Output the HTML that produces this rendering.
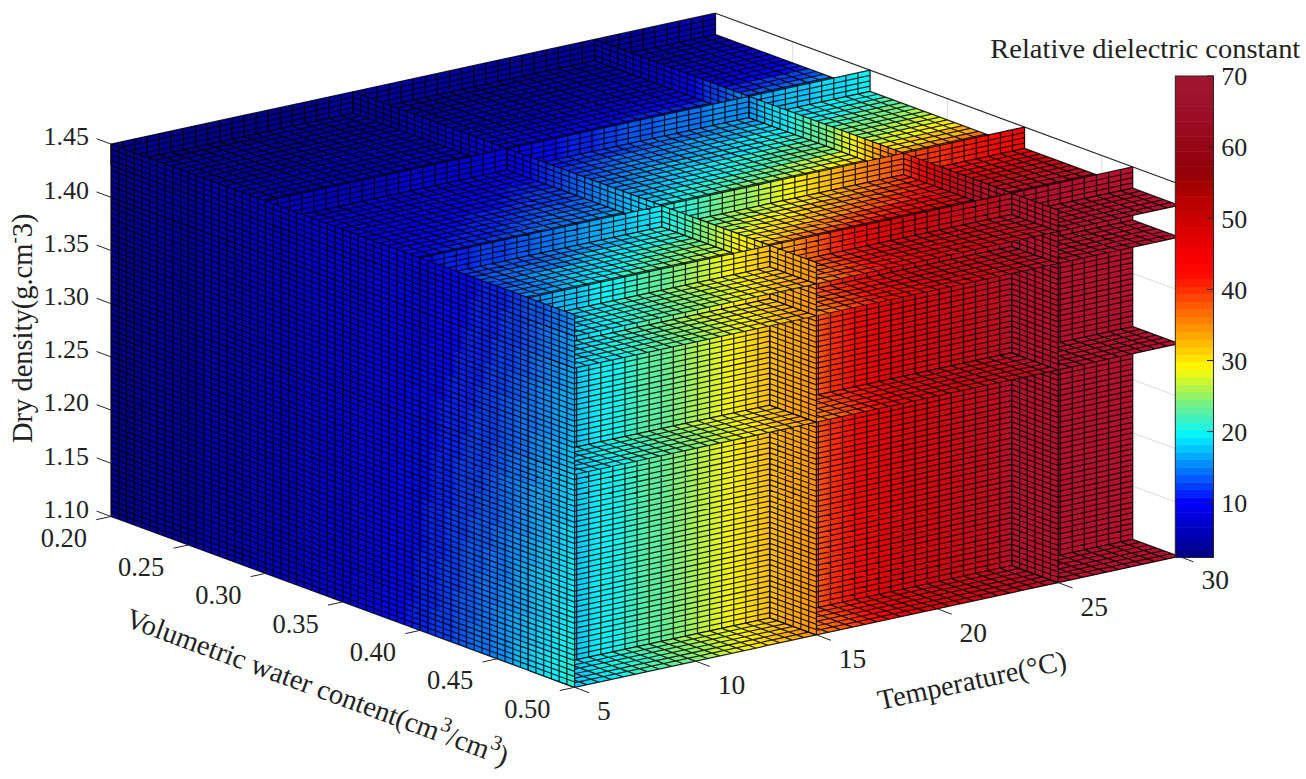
<!DOCTYPE html><html><head><meta charset="utf-8"><style>html,body{margin:0;padding:0;background:#fff;width:1306px;height:779px;overflow:hidden}</style></head><body><svg width="1306" height="779" viewBox="0 0 1306 779" style="position:absolute;left:0;top:0"><defs><linearGradient id="g1" gradientUnits="userSpaceOnUse" x1="0.00" y1="0.00" x2="20.00" y2="0.00"><stop offset="0.000" stop-color="#00008c"/><stop offset="0.850" stop-color="#00008c"/><stop offset="0.900" stop-color="#00009d"/><stop offset="1.000" stop-color="#00009d"/></linearGradient><linearGradient id="g2" gradientUnits="userSpaceOnUse" x1="20.00" y1="0.00" x2="40.00" y2="0.00"><stop offset="0.000" stop-color="#00009d"/><stop offset="1.000" stop-color="#00009d"/></linearGradient><linearGradient id="g3" gradientUnits="userSpaceOnUse" x1="40.00" y1="0.00" x2="50.00" y2="0.00"><stop offset="0.000" stop-color="#00009d"/><stop offset="0.400" stop-color="#00009d"/><stop offset="0.500" stop-color="#0000ae"/><stop offset="1.000" stop-color="#0000ae"/></linearGradient><linearGradient id="g4" gradientUnits="userSpaceOnUse" x1="0.00" y1="20.00" x2="0.00" y2="40.00"><stop offset="0.000" stop-color="#00009d"/><stop offset="0.900" stop-color="#00009d"/><stop offset="1.000" stop-color="#0000ae"/></linearGradient><linearGradient id="g5" gradientUnits="userSpaceOnUse" x1="0.00" y1="20.00" x2="0.00" y2="40.00"><stop offset="0.000" stop-color="#00009d"/><stop offset="0.500" stop-color="#00009d"/><stop offset="0.600" stop-color="#0000ae"/><stop offset="1.000" stop-color="#0000ae"/></linearGradient><linearGradient id="g6" gradientUnits="userSpaceOnUse" x1="0.00" y1="20.00" x2="0.00" y2="40.00"><stop offset="0.000" stop-color="#00009d"/><stop offset="0.200" stop-color="#00009d"/><stop offset="0.300" stop-color="#0000ae"/><stop offset="0.900" stop-color="#0000ae"/><stop offset="1.000" stop-color="#0000bf"/></linearGradient><linearGradient id="g7" gradientUnits="userSpaceOnUse" x1="0.00" y1="20.00" x2="0.00" y2="40.00"><stop offset="0.000" stop-color="#0000ae"/><stop offset="0.600" stop-color="#0000ae"/><stop offset="0.700" stop-color="#0000bf"/><stop offset="1.000" stop-color="#0000bf"/></linearGradient><linearGradient id="g8" gradientUnits="userSpaceOnUse" x1="0.00" y1="20.00" x2="0.00" y2="40.00"><stop offset="0.000" stop-color="#0000ae"/><stop offset="0.400" stop-color="#0000ae"/><stop offset="0.500" stop-color="#0000bf"/><stop offset="0.900" stop-color="#0000bf"/><stop offset="1.000" stop-color="#0000d0"/></linearGradient><linearGradient id="g9" gradientUnits="userSpaceOnUse" x1="0.00" y1="20.00" x2="0.00" y2="40.00"><stop offset="0.000" stop-color="#0000ae"/><stop offset="0.100" stop-color="#0000ae"/><stop offset="0.200" stop-color="#0000bf"/><stop offset="0.500" stop-color="#0000bf"/><stop offset="0.600" stop-color="#0000d0"/><stop offset="0.900" stop-color="#0000d0"/><stop offset="1.000" stop-color="#0000e1"/></linearGradient><linearGradient id="g10" gradientUnits="userSpaceOnUse" x1="0.00" y1="20.00" x2="0.00" y2="40.00"><stop offset="0.000" stop-color="#0000bf"/><stop offset="0.100" stop-color="#0000bf"/><stop offset="0.200" stop-color="#0000d0"/><stop offset="0.400" stop-color="#0000d0"/><stop offset="0.500" stop-color="#0000e1"/><stop offset="0.700" stop-color="#0000e1"/><stop offset="0.800" stop-color="#0006ee"/><stop offset="1.000" stop-color="#0006ee"/></linearGradient><linearGradient id="g11" gradientUnits="userSpaceOnUse" x1="0.00" y1="20.00" x2="0.00" y2="40.00"><stop offset="0.000" stop-color="#0000bf"/><stop offset="0.100" stop-color="#0000d0"/><stop offset="0.200" stop-color="#0000d0"/><stop offset="0.300" stop-color="#0000e1"/><stop offset="0.400" stop-color="#0000e1"/><stop offset="0.500" stop-color="#0006ee"/><stop offset="0.600" stop-color="#0006ee"/><stop offset="0.700" stop-color="#0021f0"/><stop offset="0.900" stop-color="#0021f0"/><stop offset="1.000" stop-color="#003df2"/></linearGradient><linearGradient id="g12" gradientUnits="userSpaceOnUse" x1="0.00" y1="20.00" x2="0.00" y2="40.00"><stop offset="0.000" stop-color="#0000d0"/><stop offset="0.100" stop-color="#0000e1"/><stop offset="0.200" stop-color="#0000e1"/><stop offset="0.300" stop-color="#0006ee"/><stop offset="0.400" stop-color="#0006ee"/><stop offset="0.500" stop-color="#0021f0"/><stop offset="0.600" stop-color="#0021f0"/><stop offset="0.700" stop-color="#003df2"/><stop offset="0.800" stop-color="#003df2"/><stop offset="0.900" stop-color="#0058f4"/><stop offset="1.000" stop-color="#0058f4"/></linearGradient><linearGradient id="g13" gradientUnits="userSpaceOnUse" x1="0.00" y1="20.00" x2="0.00" y2="40.00"><stop offset="0.000" stop-color="#0000e1"/><stop offset="0.100" stop-color="#0000e1"/><stop offset="0.200" stop-color="#0006ee"/><stop offset="0.300" stop-color="#0021f0"/><stop offset="0.400" stop-color="#0021f0"/><stop offset="0.500" stop-color="#003df2"/><stop offset="0.600" stop-color="#0058f4"/><stop offset="0.700" stop-color="#0058f4"/><stop offset="0.800" stop-color="#0073f6"/><stop offset="0.900" stop-color="#0073f6"/><stop offset="1.000" stop-color="#008ef8"/></linearGradient><linearGradient id="g14" gradientUnits="userSpaceOnUse" x1="0.00" y1="0.00" x2="20.00" y2="0.00"><stop offset="0.000" stop-color="#00009d"/><stop offset="0.300" stop-color="#00009d"/><stop offset="0.350" stop-color="#0000ae"/><stop offset="0.550" stop-color="#0000ae"/><stop offset="0.600" stop-color="#0000bf"/><stop offset="0.750" stop-color="#0000bf"/><stop offset="0.800" stop-color="#0000d0"/><stop offset="0.900" stop-color="#0000d0"/><stop offset="0.950" stop-color="#0000e1"/><stop offset="1.000" stop-color="#0000e1"/></linearGradient><linearGradient id="g15" gradientUnits="userSpaceOnUse" x1="0.00" y1="0.00" x2="0.00" y2="20.00"><stop offset="0.000" stop-color="#00008c"/><stop offset="0.600" stop-color="#00008c"/><stop offset="0.700" stop-color="#00009d"/><stop offset="1.000" stop-color="#00009d"/></linearGradient><linearGradient id="g16" gradientUnits="userSpaceOnUse" x1="0.00" y1="0.00" x2="0.00" y2="20.00"><stop offset="0.000" stop-color="#00008c"/><stop offset="0.100" stop-color="#00009d"/><stop offset="1.000" stop-color="#00009d"/></linearGradient><linearGradient id="g17" gradientUnits="userSpaceOnUse" x1="0.00" y1="0.00" x2="0.00" y2="20.00"><stop offset="0.000" stop-color="#00009d"/><stop offset="1.000" stop-color="#00009d"/></linearGradient><linearGradient id="g18" gradientUnits="userSpaceOnUse" x1="0.00" y1="0.00" x2="0.00" y2="20.00"><stop offset="0.000" stop-color="#00009d"/><stop offset="0.800" stop-color="#00009d"/><stop offset="0.900" stop-color="#0000ae"/><stop offset="1.000" stop-color="#0000ae"/></linearGradient><linearGradient id="g19" gradientUnits="userSpaceOnUse" x1="0.00" y1="0.00" x2="0.00" y2="20.00"><stop offset="0.000" stop-color="#00009d"/><stop offset="0.500" stop-color="#00009d"/><stop offset="0.600" stop-color="#0000ae"/><stop offset="1.000" stop-color="#0000ae"/></linearGradient><linearGradient id="g20" gradientUnits="userSpaceOnUse" x1="0.00" y1="0.00" x2="0.00" y2="20.00"><stop offset="0.000" stop-color="#00009d"/><stop offset="0.100" stop-color="#0000ae"/><stop offset="1.000" stop-color="#0000ae"/></linearGradient><linearGradient id="g21" gradientUnits="userSpaceOnUse" x1="0.00" y1="0.00" x2="0.00" y2="20.00"><stop offset="0.000" stop-color="#0000ae"/><stop offset="0.700" stop-color="#0000ae"/><stop offset="0.800" stop-color="#0000bf"/><stop offset="1.000" stop-color="#0000bf"/></linearGradient><linearGradient id="g22" gradientUnits="userSpaceOnUse" x1="0.00" y1="0.00" x2="0.00" y2="20.00"><stop offset="0.000" stop-color="#0000ae"/><stop offset="0.400" stop-color="#0000ae"/><stop offset="0.500" stop-color="#0000bf"/><stop offset="1.000" stop-color="#0000bf"/></linearGradient><linearGradient id="g23" gradientUnits="userSpaceOnUse" x1="0.00" y1="0.00" x2="0.00" y2="20.00"><stop offset="0.000" stop-color="#0000ae"/><stop offset="0.100" stop-color="#0000bf"/><stop offset="0.700" stop-color="#0000bf"/><stop offset="0.800" stop-color="#0000d0"/><stop offset="1.000" stop-color="#0000d0"/></linearGradient><linearGradient id="g24" gradientUnits="userSpaceOnUse" x1="0.00" y1="0.00" x2="0.00" y2="20.00"><stop offset="0.000" stop-color="#0000bf"/><stop offset="0.600" stop-color="#0000bf"/><stop offset="0.700" stop-color="#0000d0"/><stop offset="0.900" stop-color="#0000d0"/><stop offset="1.000" stop-color="#0000e1"/></linearGradient><linearGradient id="g25" gradientUnits="userSpaceOnUse" x1="0.00" y1="0.00" x2="20.00" y2="0.00"><stop offset="0.000" stop-color="#0000bf"/><stop offset="0.500" stop-color="#0000bf"/><stop offset="0.550" stop-color="#0000d0"/><stop offset="0.850" stop-color="#0000d0"/><stop offset="0.900" stop-color="#0000e1"/><stop offset="1.000" stop-color="#0000e1"/></linearGradient><linearGradient id="g26" gradientUnits="userSpaceOnUse" x1="0.00" y1="40.00" x2="0.00" y2="50.00"><stop offset="0.000" stop-color="#0000ae"/><stop offset="1.000" stop-color="#0000ae"/></linearGradient><linearGradient id="g27" gradientUnits="userSpaceOnUse" x1="0.00" y1="40.00" x2="0.00" y2="50.00"><stop offset="0.000" stop-color="#0000ae"/><stop offset="0.400" stop-color="#0000ae"/><stop offset="0.600" stop-color="#0000bf"/><stop offset="1.000" stop-color="#0000bf"/></linearGradient><linearGradient id="g28" gradientUnits="userSpaceOnUse" x1="0.00" y1="40.00" x2="0.00" y2="50.00"><stop offset="0.000" stop-color="#0000bf"/><stop offset="0.600" stop-color="#0000bf"/><stop offset="0.800" stop-color="#0000d0"/><stop offset="1.000" stop-color="#0000d0"/></linearGradient><linearGradient id="g29" gradientUnits="userSpaceOnUse" x1="0.00" y1="40.00" x2="0.00" y2="50.00"><stop offset="0.000" stop-color="#0000bf"/><stop offset="0.200" stop-color="#0000bf"/><stop offset="0.400" stop-color="#0000d0"/><stop offset="0.800" stop-color="#0000d0"/><stop offset="1.000" stop-color="#0000e1"/></linearGradient><linearGradient id="g30" gradientUnits="userSpaceOnUse" x1="0.00" y1="40.00" x2="0.00" y2="50.00"><stop offset="0.000" stop-color="#0000d0"/><stop offset="0.400" stop-color="#0000d0"/><stop offset="0.600" stop-color="#0000e1"/><stop offset="1.000" stop-color="#0000e1"/></linearGradient><linearGradient id="g31" gradientUnits="userSpaceOnUse" x1="0.00" y1="40.00" x2="0.00" y2="50.00"><stop offset="0.000" stop-color="#0000e1"/><stop offset="0.400" stop-color="#0000e1"/><stop offset="0.600" stop-color="#0006ee"/><stop offset="0.800" stop-color="#0006ee"/><stop offset="1.000" stop-color="#0021f0"/></linearGradient><linearGradient id="g32" gradientUnits="userSpaceOnUse" x1="0.00" y1="40.00" x2="0.00" y2="50.00"><stop offset="0.000" stop-color="#0006ee"/><stop offset="0.200" stop-color="#0021f0"/><stop offset="0.400" stop-color="#0021f0"/><stop offset="0.600" stop-color="#003df2"/><stop offset="0.800" stop-color="#003df2"/><stop offset="1.000" stop-color="#0058f4"/></linearGradient><linearGradient id="g33" gradientUnits="userSpaceOnUse" x1="0.00" y1="40.00" x2="0.00" y2="50.00"><stop offset="0.000" stop-color="#003df2"/><stop offset="0.200" stop-color="#003df2"/><stop offset="0.400" stop-color="#0058f4"/><stop offset="0.600" stop-color="#0058f4"/><stop offset="0.800" stop-color="#0073f6"/><stop offset="1.000" stop-color="#008ef8"/></linearGradient><linearGradient id="g34" gradientUnits="userSpaceOnUse" x1="0.00" y1="40.00" x2="0.00" y2="50.00"><stop offset="0.000" stop-color="#0058f4"/><stop offset="0.200" stop-color="#0073f6"/><stop offset="0.400" stop-color="#0073f6"/><stop offset="0.600" stop-color="#008ef8"/><stop offset="0.800" stop-color="#00aafa"/><stop offset="1.000" stop-color="#00aafa"/></linearGradient><linearGradient id="g35" gradientUnits="userSpaceOnUse" x1="0.00" y1="40.00" x2="0.00" y2="50.00"><stop offset="0.000" stop-color="#008ef8"/><stop offset="0.200" stop-color="#008ef8"/><stop offset="0.400" stop-color="#00aafa"/><stop offset="0.600" stop-color="#00c5fc"/><stop offset="0.800" stop-color="#00e0fe"/><stop offset="1.000" stop-color="#00e0fe"/></linearGradient><linearGradient id="g36" gradientUnits="userSpaceOnUse" x1="0.00" y1="0.00" x2="20.00" y2="0.00"><stop offset="0.000" stop-color="#00009d"/><stop offset="0.050" stop-color="#0000ae"/><stop offset="0.200" stop-color="#0000ae"/><stop offset="0.250" stop-color="#0000bf"/><stop offset="0.400" stop-color="#0000bf"/><stop offset="0.450" stop-color="#0000d0"/><stop offset="0.500" stop-color="#0000d0"/><stop offset="0.550" stop-color="#0000e1"/><stop offset="0.600" stop-color="#0000e1"/><stop offset="0.650" stop-color="#0006ee"/><stop offset="0.700" stop-color="#0021f0"/><stop offset="0.750" stop-color="#003df2"/><stop offset="0.800" stop-color="#003df2"/><stop offset="0.850" stop-color="#0058f4"/><stop offset="0.900" stop-color="#0073f6"/><stop offset="0.950" stop-color="#008ef8"/><stop offset="1.000" stop-color="#008ef8"/></linearGradient><linearGradient id="g37" gradientUnits="userSpaceOnUse" x1="20.00" y1="0.00" x2="40.00" y2="0.00"><stop offset="0.000" stop-color="#0000e1"/><stop offset="0.050" stop-color="#0000e1"/><stop offset="0.100" stop-color="#0006ee"/><stop offset="0.200" stop-color="#0006ee"/><stop offset="0.250" stop-color="#0021f0"/><stop offset="0.350" stop-color="#0021f0"/><stop offset="0.400" stop-color="#003df2"/><stop offset="0.450" stop-color="#003df2"/><stop offset="0.500" stop-color="#0058f4"/><stop offset="0.600" stop-color="#0058f4"/><stop offset="0.650" stop-color="#0073f6"/><stop offset="0.800" stop-color="#0073f6"/><stop offset="0.850" stop-color="#008ef8"/><stop offset="1.000" stop-color="#008ef8"/></linearGradient><linearGradient id="g38" gradientUnits="userSpaceOnUse" x1="40.00" y1="0.00" x2="50.00" y2="0.00"><stop offset="0.000" stop-color="#008ef8"/><stop offset="0.100" stop-color="#00aafa"/><stop offset="0.200" stop-color="#00aafa"/><stop offset="0.300" stop-color="#00c5fc"/><stop offset="0.500" stop-color="#00c5fc"/><stop offset="0.600" stop-color="#00e0fe"/><stop offset="0.800" stop-color="#00e0fe"/><stop offset="0.900" stop-color="#07f5f8"/><stop offset="1.000" stop-color="#07f5f8"/></linearGradient><linearGradient id="g39" gradientUnits="userSpaceOnUse" x1="0.00" y1="0.00" x2="0.00" y2="20.00"><stop offset="0.000" stop-color="#0000bf"/><stop offset="0.300" stop-color="#0000bf"/><stop offset="0.400" stop-color="#0000d0"/><stop offset="0.700" stop-color="#0000d0"/><stop offset="0.800" stop-color="#0000e1"/><stop offset="1.000" stop-color="#0000e1"/></linearGradient><linearGradient id="g40" gradientUnits="userSpaceOnUse" x1="0.00" y1="0.00" x2="0.00" y2="20.00"><stop offset="0.000" stop-color="#0000bf"/><stop offset="0.100" stop-color="#0000d0"/><stop offset="0.500" stop-color="#0000d0"/><stop offset="0.600" stop-color="#0000e1"/><stop offset="0.800" stop-color="#0000e1"/><stop offset="0.900" stop-color="#0006ee"/><stop offset="1.000" stop-color="#0006ee"/></linearGradient><linearGradient id="g41" gradientUnits="userSpaceOnUse" x1="0.00" y1="0.00" x2="0.00" y2="20.00"><stop offset="0.000" stop-color="#0000d0"/><stop offset="0.300" stop-color="#0000d0"/><stop offset="0.400" stop-color="#0000e1"/><stop offset="0.600" stop-color="#0000e1"/><stop offset="0.700" stop-color="#0006ee"/><stop offset="0.800" stop-color="#0006ee"/><stop offset="0.900" stop-color="#0021f0"/><stop offset="1.000" stop-color="#0021f0"/></linearGradient><linearGradient id="g42" gradientUnits="userSpaceOnUse" x1="0.00" y1="0.00" x2="0.00" y2="20.00"><stop offset="0.000" stop-color="#0000d0"/><stop offset="0.200" stop-color="#0000d0"/><stop offset="0.300" stop-color="#0000e1"/><stop offset="0.500" stop-color="#0000e1"/><stop offset="0.600" stop-color="#0006ee"/><stop offset="0.700" stop-color="#0006ee"/><stop offset="0.800" stop-color="#0021f0"/><stop offset="0.900" stop-color="#003df2"/><stop offset="1.000" stop-color="#003df2"/></linearGradient><linearGradient id="g43" gradientUnits="userSpaceOnUse" x1="0.00" y1="0.00" x2="0.00" y2="20.00"><stop offset="0.000" stop-color="#0000d0"/><stop offset="0.100" stop-color="#0000d0"/><stop offset="0.200" stop-color="#0000e1"/><stop offset="0.300" stop-color="#0000e1"/><stop offset="0.400" stop-color="#0006ee"/><stop offset="0.500" stop-color="#0006ee"/><stop offset="0.600" stop-color="#0021f0"/><stop offset="0.700" stop-color="#0021f0"/><stop offset="0.800" stop-color="#003df2"/><stop offset="0.900" stop-color="#003df2"/><stop offset="1.000" stop-color="#0058f4"/></linearGradient><linearGradient id="g44" gradientUnits="userSpaceOnUse" x1="0.00" y1="0.00" x2="0.00" y2="20.00"><stop offset="0.000" stop-color="#0000d0"/><stop offset="0.100" stop-color="#0000e1"/><stop offset="0.200" stop-color="#0000e1"/><stop offset="0.300" stop-color="#0006ee"/><stop offset="0.400" stop-color="#0006ee"/><stop offset="0.500" stop-color="#0021f0"/><stop offset="0.600" stop-color="#0021f0"/><stop offset="0.700" stop-color="#003df2"/><stop offset="0.800" stop-color="#0058f4"/><stop offset="0.900" stop-color="#0058f4"/><stop offset="1.000" stop-color="#0073f6"/></linearGradient><linearGradient id="g45" gradientUnits="userSpaceOnUse" x1="0.00" y1="0.00" x2="0.00" y2="20.00"><stop offset="0.000" stop-color="#0000e1"/><stop offset="0.100" stop-color="#0000e1"/><stop offset="0.200" stop-color="#0006ee"/><stop offset="0.300" stop-color="#0006ee"/><stop offset="0.400" stop-color="#0021f0"/><stop offset="0.500" stop-color="#0021f0"/><stop offset="0.600" stop-color="#003df2"/><stop offset="0.700" stop-color="#0058f4"/><stop offset="0.800" stop-color="#0073f6"/><stop offset="0.900" stop-color="#0073f6"/><stop offset="1.000" stop-color="#008ef8"/></linearGradient><linearGradient id="g46" gradientUnits="userSpaceOnUse" x1="0.00" y1="0.00" x2="0.00" y2="20.00"><stop offset="0.000" stop-color="#0000e1"/><stop offset="0.100" stop-color="#0006ee"/><stop offset="0.200" stop-color="#0006ee"/><stop offset="0.300" stop-color="#0021f0"/><stop offset="0.400" stop-color="#0021f0"/><stop offset="0.500" stop-color="#003df2"/><stop offset="0.600" stop-color="#0058f4"/><stop offset="0.700" stop-color="#0073f6"/><stop offset="0.800" stop-color="#0073f6"/><stop offset="0.900" stop-color="#008ef8"/><stop offset="1.000" stop-color="#00aafa"/></linearGradient><linearGradient id="g47" gradientUnits="userSpaceOnUse" x1="0.00" y1="0.00" x2="0.00" y2="20.00"><stop offset="0.000" stop-color="#0000e1"/><stop offset="0.100" stop-color="#0006ee"/><stop offset="0.200" stop-color="#0021f0"/><stop offset="0.300" stop-color="#0021f0"/><stop offset="0.400" stop-color="#003df2"/><stop offset="0.500" stop-color="#0058f4"/><stop offset="0.600" stop-color="#0058f4"/><stop offset="0.700" stop-color="#0073f6"/><stop offset="0.800" stop-color="#008ef8"/><stop offset="0.900" stop-color="#00aafa"/><stop offset="1.000" stop-color="#00c5fc"/></linearGradient><linearGradient id="g48" gradientUnits="userSpaceOnUse" x1="0.00" y1="0.00" x2="0.00" y2="20.00"><stop offset="0.000" stop-color="#0006ee"/><stop offset="0.100" stop-color="#0006ee"/><stop offset="0.200" stop-color="#0021f0"/><stop offset="0.300" stop-color="#003df2"/><stop offset="0.400" stop-color="#0058f4"/><stop offset="0.500" stop-color="#0058f4"/><stop offset="0.600" stop-color="#0073f6"/><stop offset="0.700" stop-color="#008ef8"/><stop offset="0.800" stop-color="#00aafa"/><stop offset="0.900" stop-color="#00c5fc"/><stop offset="1.000" stop-color="#00e0fe"/></linearGradient><linearGradient id="g49" gradientUnits="userSpaceOnUse" x1="0.00" y1="20.00" x2="0.00" y2="40.00"><stop offset="0.000" stop-color="#0000e1"/><stop offset="0.100" stop-color="#0006ee"/><stop offset="0.200" stop-color="#0021f0"/><stop offset="0.300" stop-color="#003df2"/><stop offset="0.400" stop-color="#003df2"/><stop offset="0.500" stop-color="#0058f4"/><stop offset="0.600" stop-color="#0073f6"/><stop offset="0.700" stop-color="#0073f6"/><stop offset="0.800" stop-color="#008ef8"/><stop offset="0.900" stop-color="#00aafa"/><stop offset="1.000" stop-color="#00aafa"/></linearGradient><linearGradient id="g50" gradientUnits="userSpaceOnUse" x1="0.00" y1="20.00" x2="0.00" y2="40.00"><stop offset="0.000" stop-color="#0006ee"/><stop offset="0.100" stop-color="#0021f0"/><stop offset="0.200" stop-color="#003df2"/><stop offset="0.300" stop-color="#0058f4"/><stop offset="0.400" stop-color="#0073f6"/><stop offset="0.500" stop-color="#0073f6"/><stop offset="0.600" stop-color="#008ef8"/><stop offset="0.700" stop-color="#00aafa"/><stop offset="0.800" stop-color="#00aafa"/><stop offset="0.900" stop-color="#00c5fc"/><stop offset="1.000" stop-color="#00e0fe"/></linearGradient><linearGradient id="g51" gradientUnits="userSpaceOnUse" x1="0.00" y1="20.00" x2="0.00" y2="40.00"><stop offset="0.000" stop-color="#0021f0"/><stop offset="0.100" stop-color="#003df2"/><stop offset="0.200" stop-color="#0058f4"/><stop offset="0.300" stop-color="#0073f6"/><stop offset="0.400" stop-color="#008ef8"/><stop offset="0.500" stop-color="#008ef8"/><stop offset="0.600" stop-color="#00aafa"/><stop offset="0.700" stop-color="#00c5fc"/><stop offset="0.800" stop-color="#00e0fe"/><stop offset="0.900" stop-color="#07f5f8"/><stop offset="1.000" stop-color="#07f5f8"/></linearGradient><linearGradient id="g52" gradientUnits="userSpaceOnUse" x1="0.00" y1="20.00" x2="0.00" y2="40.00"><stop offset="0.000" stop-color="#003df2"/><stop offset="0.100" stop-color="#0058f4"/><stop offset="0.200" stop-color="#0073f6"/><stop offset="0.300" stop-color="#008ef8"/><stop offset="0.400" stop-color="#00aafa"/><stop offset="0.500" stop-color="#00c5fc"/><stop offset="0.600" stop-color="#00c5fc"/><stop offset="0.700" stop-color="#00e0fe"/><stop offset="0.800" stop-color="#07f5f8"/><stop offset="0.900" stop-color="#23f4db"/><stop offset="1.000" stop-color="#3ff2bd"/></linearGradient><linearGradient id="g53" gradientUnits="userSpaceOnUse" x1="0.00" y1="20.00" x2="0.00" y2="40.00"><stop offset="0.000" stop-color="#0058f4"/><stop offset="0.100" stop-color="#0073f6"/><stop offset="0.200" stop-color="#008ef8"/><stop offset="0.300" stop-color="#00aafa"/><stop offset="0.400" stop-color="#00c5fc"/><stop offset="0.500" stop-color="#00e0fe"/><stop offset="0.600" stop-color="#07f5f8"/><stop offset="0.700" stop-color="#23f4db"/><stop offset="0.800" stop-color="#3ff2bd"/><stop offset="0.900" stop-color="#5bf1a0"/><stop offset="1.000" stop-color="#5bf1a0"/></linearGradient><linearGradient id="g54" gradientUnits="userSpaceOnUse" x1="0.00" y1="20.00" x2="0.00" y2="40.00"><stop offset="0.000" stop-color="#0073f6"/><stop offset="0.100" stop-color="#008ef8"/><stop offset="0.200" stop-color="#00aafa"/><stop offset="0.300" stop-color="#00c5fc"/><stop offset="0.400" stop-color="#00e0fe"/><stop offset="0.500" stop-color="#07f5f8"/><stop offset="0.600" stop-color="#23f4db"/><stop offset="0.700" stop-color="#3ff2bd"/><stop offset="0.800" stop-color="#5bf1a0"/><stop offset="0.900" stop-color="#78f082"/><stop offset="1.000" stop-color="#94f267"/></linearGradient><linearGradient id="g55" gradientUnits="userSpaceOnUse" x1="0.00" y1="20.00" x2="0.00" y2="40.00"><stop offset="0.000" stop-color="#008ef8"/><stop offset="0.100" stop-color="#00aafa"/><stop offset="0.200" stop-color="#00c5fc"/><stop offset="0.300" stop-color="#07f5f8"/><stop offset="0.400" stop-color="#23f4db"/><stop offset="0.500" stop-color="#3ff2bd"/><stop offset="0.600" stop-color="#5bf1a0"/><stop offset="0.700" stop-color="#78f082"/><stop offset="0.800" stop-color="#b1f44b"/><stop offset="0.900" stop-color="#cdf630"/><stop offset="1.000" stop-color="#eaf814"/></linearGradient><linearGradient id="g56" gradientUnits="userSpaceOnUse" x1="0.00" y1="20.00" x2="0.00" y2="40.00"><stop offset="0.000" stop-color="#00aafa"/><stop offset="0.100" stop-color="#00c5fc"/><stop offset="0.200" stop-color="#07f5f8"/><stop offset="0.300" stop-color="#23f4db"/><stop offset="0.400" stop-color="#3ff2bd"/><stop offset="0.500" stop-color="#78f082"/><stop offset="0.600" stop-color="#94f267"/><stop offset="0.700" stop-color="#b1f44b"/><stop offset="0.800" stop-color="#eaf814"/><stop offset="0.900" stop-color="#fff500"/><stop offset="1.000" stop-color="#ffce00"/></linearGradient><linearGradient id="g57" gradientUnits="userSpaceOnUse" x1="0.00" y1="20.00" x2="0.00" y2="40.00"><stop offset="0.000" stop-color="#00c5fc"/><stop offset="0.100" stop-color="#07f5f8"/><stop offset="0.200" stop-color="#23f4db"/><stop offset="0.300" stop-color="#3ff2bd"/><stop offset="0.400" stop-color="#78f082"/><stop offset="0.500" stop-color="#94f267"/><stop offset="0.600" stop-color="#cdf630"/><stop offset="0.700" stop-color="#fff500"/><stop offset="0.800" stop-color="#ffe200"/><stop offset="0.900" stop-color="#ffbb00"/><stop offset="1.000" stop-color="#ff9400"/></linearGradient><linearGradient id="g58" gradientUnits="userSpaceOnUse" x1="0.00" y1="20.00" x2="0.00" y2="40.00"><stop offset="0.000" stop-color="#00e0fe"/><stop offset="0.100" stop-color="#23f4db"/><stop offset="0.200" stop-color="#3ff2bd"/><stop offset="0.300" stop-color="#78f082"/><stop offset="0.400" stop-color="#94f267"/><stop offset="0.500" stop-color="#cdf630"/><stop offset="0.600" stop-color="#fff500"/><stop offset="0.700" stop-color="#ffce00"/><stop offset="0.800" stop-color="#ffa700"/><stop offset="0.900" stop-color="#ff9400"/><stop offset="1.000" stop-color="#ff6d00"/></linearGradient><linearGradient id="g59" gradientUnits="userSpaceOnUse" x1="20.00" y1="0.00" x2="40.00" y2="0.00"><stop offset="0.000" stop-color="#0000e1"/><stop offset="0.050" stop-color="#0000e1"/><stop offset="0.100" stop-color="#0006ee"/><stop offset="0.150" stop-color="#0006ee"/><stop offset="0.200" stop-color="#0021f0"/><stop offset="0.250" stop-color="#0021f0"/><stop offset="0.300" stop-color="#003df2"/><stop offset="0.350" stop-color="#003df2"/><stop offset="0.400" stop-color="#0058f4"/><stop offset="0.450" stop-color="#0058f4"/><stop offset="0.500" stop-color="#0073f6"/><stop offset="0.550" stop-color="#0073f6"/><stop offset="0.600" stop-color="#008ef8"/><stop offset="0.650" stop-color="#008ef8"/><stop offset="0.700" stop-color="#00aafa"/><stop offset="0.750" stop-color="#00aafa"/><stop offset="0.800" stop-color="#00c5fc"/><stop offset="0.850" stop-color="#00c5fc"/><stop offset="0.900" stop-color="#00e0fe"/><stop offset="0.950" stop-color="#00e0fe"/><stop offset="1.000" stop-color="#07f5f8"/></linearGradient><linearGradient id="g60" gradientUnits="userSpaceOnUse" x1="0.00" y1="0.00" x2="20.00" y2="0.00"><stop offset="0.000" stop-color="#0006ee"/><stop offset="0.050" stop-color="#0006ee"/><stop offset="0.100" stop-color="#0021f0"/><stop offset="0.200" stop-color="#0021f0"/><stop offset="0.250" stop-color="#003df2"/><stop offset="0.350" stop-color="#003df2"/><stop offset="0.400" stop-color="#0058f4"/><stop offset="0.450" stop-color="#0058f4"/><stop offset="0.500" stop-color="#0073f6"/><stop offset="0.550" stop-color="#0073f6"/><stop offset="0.600" stop-color="#008ef8"/><stop offset="0.650" stop-color="#008ef8"/><stop offset="0.700" stop-color="#00aafa"/><stop offset="0.750" stop-color="#00aafa"/><stop offset="0.800" stop-color="#00c5fc"/><stop offset="0.850" stop-color="#00c5fc"/><stop offset="0.900" stop-color="#00e0fe"/><stop offset="0.950" stop-color="#00e0fe"/><stop offset="1.000" stop-color="#07f5f8"/></linearGradient><linearGradient id="g61" gradientUnits="userSpaceOnUse" x1="0.00" y1="40.00" x2="0.00" y2="50.00"><stop offset="0.000" stop-color="#00aafa"/><stop offset="0.200" stop-color="#00c5fc"/><stop offset="0.400" stop-color="#00e0fe"/><stop offset="0.600" stop-color="#07f5f8"/><stop offset="0.800" stop-color="#07f5f8"/><stop offset="1.000" stop-color="#23f4db"/></linearGradient><linearGradient id="g62" gradientUnits="userSpaceOnUse" x1="0.00" y1="40.00" x2="0.00" y2="50.00"><stop offset="0.000" stop-color="#00e0fe"/><stop offset="0.200" stop-color="#07f5f8"/><stop offset="0.400" stop-color="#07f5f8"/><stop offset="0.600" stop-color="#23f4db"/><stop offset="0.800" stop-color="#3ff2bd"/><stop offset="1.000" stop-color="#5bf1a0"/></linearGradient><linearGradient id="g63" gradientUnits="userSpaceOnUse" x1="0.00" y1="40.00" x2="0.00" y2="50.00"><stop offset="0.000" stop-color="#07f5f8"/><stop offset="0.200" stop-color="#23f4db"/><stop offset="0.400" stop-color="#3ff2bd"/><stop offset="0.600" stop-color="#5bf1a0"/><stop offset="0.800" stop-color="#78f082"/><stop offset="1.000" stop-color="#78f082"/></linearGradient><linearGradient id="g64" gradientUnits="userSpaceOnUse" x1="0.00" y1="40.00" x2="0.00" y2="50.00"><stop offset="0.000" stop-color="#3ff2bd"/><stop offset="0.200" stop-color="#5bf1a0"/><stop offset="0.400" stop-color="#78f082"/><stop offset="0.600" stop-color="#78f082"/><stop offset="0.800" stop-color="#94f267"/><stop offset="1.000" stop-color="#b1f44b"/></linearGradient><linearGradient id="g65" gradientUnits="userSpaceOnUse" x1="0.00" y1="40.00" x2="0.00" y2="50.00"><stop offset="0.000" stop-color="#5bf1a0"/><stop offset="0.200" stop-color="#78f082"/><stop offset="0.400" stop-color="#94f267"/><stop offset="0.600" stop-color="#b1f44b"/><stop offset="0.800" stop-color="#cdf630"/><stop offset="1.000" stop-color="#eaf814"/></linearGradient><linearGradient id="g66" gradientUnits="userSpaceOnUse" x1="0.00" y1="40.00" x2="0.00" y2="50.00"><stop offset="0.000" stop-color="#94f267"/><stop offset="0.200" stop-color="#b1f44b"/><stop offset="0.400" stop-color="#cdf630"/><stop offset="0.600" stop-color="#eaf814"/><stop offset="0.800" stop-color="#fff500"/><stop offset="1.000" stop-color="#ffe200"/></linearGradient><linearGradient id="g67" gradientUnits="userSpaceOnUse" x1="0.00" y1="40.00" x2="0.00" y2="50.00"><stop offset="0.000" stop-color="#eaf814"/><stop offset="0.200" stop-color="#fff500"/><stop offset="0.400" stop-color="#ffe200"/><stop offset="0.600" stop-color="#ffce00"/><stop offset="0.800" stop-color="#ffbb00"/><stop offset="1.000" stop-color="#ffa700"/></linearGradient><linearGradient id="g68" gradientUnits="userSpaceOnUse" x1="0.00" y1="40.00" x2="0.00" y2="50.00"><stop offset="0.000" stop-color="#ffce00"/><stop offset="0.200" stop-color="#ffbb00"/><stop offset="0.400" stop-color="#ffa700"/><stop offset="0.600" stop-color="#ff9400"/><stop offset="0.800" stop-color="#ff8000"/><stop offset="1.000" stop-color="#ff6d00"/></linearGradient><linearGradient id="g69" gradientUnits="userSpaceOnUse" x1="0.00" y1="40.00" x2="0.00" y2="50.00"><stop offset="0.000" stop-color="#ff9400"/><stop offset="0.200" stop-color="#ff8000"/><stop offset="0.400" stop-color="#ff6d00"/><stop offset="0.600" stop-color="#ff5900"/><stop offset="0.800" stop-color="#ff4600"/><stop offset="1.000" stop-color="#ff3200"/></linearGradient><linearGradient id="g70" gradientUnits="userSpaceOnUse" x1="0.00" y1="40.00" x2="0.00" y2="50.00"><stop offset="0.000" stop-color="#ff6d00"/><stop offset="0.200" stop-color="#ff5900"/><stop offset="0.400" stop-color="#ff4600"/><stop offset="0.600" stop-color="#ff3200"/><stop offset="0.800" stop-color="#ff1e00"/><stop offset="1.000" stop-color="#f90700"/></linearGradient><linearGradient id="g71" gradientUnits="userSpaceOnUse" x1="20.00" y1="0.00" x2="40.00" y2="0.00"><stop offset="0.000" stop-color="#008ef8"/><stop offset="0.050" stop-color="#00aafa"/><stop offset="0.100" stop-color="#00c5fc"/><stop offset="0.150" stop-color="#00e0fe"/><stop offset="0.200" stop-color="#00e0fe"/><stop offset="0.250" stop-color="#07f5f8"/><stop offset="0.300" stop-color="#23f4db"/><stop offset="0.350" stop-color="#3ff2bd"/><stop offset="0.400" stop-color="#5bf1a0"/><stop offset="0.450" stop-color="#5bf1a0"/><stop offset="0.500" stop-color="#78f082"/><stop offset="0.550" stop-color="#94f267"/><stop offset="0.600" stop-color="#cdf630"/><stop offset="0.650" stop-color="#eaf814"/><stop offset="0.700" stop-color="#fff500"/><stop offset="0.750" stop-color="#ffce00"/><stop offset="0.800" stop-color="#ffbb00"/><stop offset="0.850" stop-color="#ff9400"/><stop offset="0.900" stop-color="#ff8000"/><stop offset="0.950" stop-color="#ff6d00"/><stop offset="1.000" stop-color="#ff4600"/></linearGradient><linearGradient id="g72" gradientUnits="userSpaceOnUse" x1="20.00" y1="0.00" x2="40.00" y2="0.00"><stop offset="0.000" stop-color="#07f5f8"/><stop offset="0.050" stop-color="#23f4db"/><stop offset="0.100" stop-color="#23f4db"/><stop offset="0.150" stop-color="#3ff2bd"/><stop offset="0.200" stop-color="#5bf1a0"/><stop offset="0.250" stop-color="#78f082"/><stop offset="0.300" stop-color="#94f267"/><stop offset="0.350" stop-color="#94f267"/><stop offset="0.400" stop-color="#b1f44b"/><stop offset="0.450" stop-color="#cdf630"/><stop offset="0.500" stop-color="#eaf814"/><stop offset="0.550" stop-color="#fff500"/><stop offset="0.600" stop-color="#ffe200"/><stop offset="0.650" stop-color="#ffce00"/><stop offset="0.700" stop-color="#ffbb00"/><stop offset="0.750" stop-color="#ffa700"/><stop offset="0.800" stop-color="#ff9400"/><stop offset="0.850" stop-color="#ff8000"/><stop offset="0.900" stop-color="#ff6d00"/><stop offset="0.950" stop-color="#ff5900"/><stop offset="1.000" stop-color="#ff4600"/></linearGradient><linearGradient id="g73" gradientUnits="userSpaceOnUse" x1="40.00" y1="0.00" x2="50.00" y2="0.00"><stop offset="0.000" stop-color="#ff4600"/><stop offset="0.100" stop-color="#ff4600"/><stop offset="0.200" stop-color="#ff3200"/><stop offset="0.300" stop-color="#ff3200"/><stop offset="0.400" stop-color="#ff1e00"/><stop offset="0.500" stop-color="#ff1e00"/><stop offset="0.600" stop-color="#ff0b00"/><stop offset="0.700" stop-color="#ff0b00"/><stop offset="0.800" stop-color="#f90700"/><stop offset="0.900" stop-color="#f90700"/><stop offset="1.000" stop-color="#f30500"/></linearGradient><linearGradient id="g74" gradientUnits="userSpaceOnUse" x1="0.00" y1="0.00" x2="20.00" y2="0.00"><stop offset="0.000" stop-color="#008ef8"/><stop offset="0.050" stop-color="#008ef8"/><stop offset="0.100" stop-color="#00aafa"/><stop offset="0.150" stop-color="#00c5fc"/><stop offset="0.200" stop-color="#00c5fc"/><stop offset="0.250" stop-color="#00e0fe"/><stop offset="0.300" stop-color="#07f5f8"/><stop offset="0.350" stop-color="#07f5f8"/><stop offset="0.400" stop-color="#23f4db"/><stop offset="0.450" stop-color="#3ff2bd"/><stop offset="0.500" stop-color="#5bf1a0"/><stop offset="0.550" stop-color="#5bf1a0"/><stop offset="0.600" stop-color="#78f082"/><stop offset="0.650" stop-color="#94f267"/><stop offset="0.700" stop-color="#b1f44b"/><stop offset="0.750" stop-color="#cdf630"/><stop offset="0.800" stop-color="#eaf814"/><stop offset="0.850" stop-color="#fff500"/><stop offset="0.900" stop-color="#ffe200"/><stop offset="0.950" stop-color="#ffce00"/><stop offset="1.000" stop-color="#ffbb00"/></linearGradient><linearGradient id="g75" gradientUnits="userSpaceOnUse" x1="0.00" y1="0.00" x2="20.00" y2="0.00"><stop offset="0.000" stop-color="#008ef8"/><stop offset="0.050" stop-color="#008ef8"/><stop offset="0.100" stop-color="#00aafa"/><stop offset="0.150" stop-color="#00c5fc"/><stop offset="0.200" stop-color="#00c5fc"/><stop offset="0.250" stop-color="#00e0fe"/><stop offset="0.300" stop-color="#07f5f8"/><stop offset="0.350" stop-color="#07f5f8"/><stop offset="0.400" stop-color="#23f4db"/><stop offset="0.450" stop-color="#3ff2bd"/><stop offset="0.500" stop-color="#5bf1a0"/><stop offset="0.550" stop-color="#5bf1a0"/><stop offset="0.600" stop-color="#78f082"/><stop offset="0.650" stop-color="#94f267"/><stop offset="0.700" stop-color="#b1f44b"/><stop offset="0.750" stop-color="#cdf630"/><stop offset="0.800" stop-color="#eaf814"/><stop offset="0.850" stop-color="#fff500"/><stop offset="0.900" stop-color="#ffe200"/><stop offset="0.950" stop-color="#ffce00"/><stop offset="1.000" stop-color="#ffbb00"/></linearGradient><linearGradient id="g76" gradientUnits="userSpaceOnUse" x1="0.00" y1="0.00" x2="20.00" y2="0.00"><stop offset="0.000" stop-color="#008ef8"/><stop offset="0.050" stop-color="#008ef8"/><stop offset="0.100" stop-color="#00aafa"/><stop offset="0.150" stop-color="#00c5fc"/><stop offset="0.200" stop-color="#00c5fc"/><stop offset="0.250" stop-color="#00e0fe"/><stop offset="0.300" stop-color="#07f5f8"/><stop offset="0.350" stop-color="#07f5f8"/><stop offset="0.400" stop-color="#23f4db"/><stop offset="0.450" stop-color="#3ff2bd"/><stop offset="0.500" stop-color="#5bf1a0"/><stop offset="0.550" stop-color="#5bf1a0"/><stop offset="0.600" stop-color="#78f082"/><stop offset="0.650" stop-color="#94f267"/><stop offset="0.700" stop-color="#b1f44b"/><stop offset="0.750" stop-color="#cdf630"/><stop offset="0.800" stop-color="#eaf814"/><stop offset="0.850" stop-color="#fff500"/><stop offset="0.900" stop-color="#ffe200"/><stop offset="0.950" stop-color="#ffce00"/><stop offset="1.000" stop-color="#ffbb00"/></linearGradient><linearGradient id="g77" gradientUnits="userSpaceOnUse" x1="0.00" y1="0.00" x2="0.00" y2="20.00"><stop offset="0.000" stop-color="#0006ee"/><stop offset="0.100" stop-color="#0021f0"/><stop offset="0.200" stop-color="#003df2"/><stop offset="0.300" stop-color="#0058f4"/><stop offset="0.400" stop-color="#0058f4"/><stop offset="0.500" stop-color="#0073f6"/><stop offset="0.600" stop-color="#008ef8"/><stop offset="0.700" stop-color="#00aafa"/><stop offset="0.800" stop-color="#00c5fc"/><stop offset="0.900" stop-color="#07f5f8"/><stop offset="1.000" stop-color="#23f4db"/></linearGradient><linearGradient id="g78" gradientUnits="userSpaceOnUse" x1="0.00" y1="0.00" x2="0.00" y2="20.00"><stop offset="0.000" stop-color="#0021f0"/><stop offset="0.100" stop-color="#003df2"/><stop offset="0.200" stop-color="#0058f4"/><stop offset="0.300" stop-color="#0073f6"/><stop offset="0.400" stop-color="#0073f6"/><stop offset="0.500" stop-color="#008ef8"/><stop offset="0.600" stop-color="#00c5fc"/><stop offset="0.700" stop-color="#00e0fe"/><stop offset="0.800" stop-color="#07f5f8"/><stop offset="0.900" stop-color="#23f4db"/><stop offset="1.000" stop-color="#3ff2bd"/></linearGradient><linearGradient id="g79" gradientUnits="userSpaceOnUse" x1="0.00" y1="0.00" x2="0.00" y2="20.00"><stop offset="0.000" stop-color="#0021f0"/><stop offset="0.100" stop-color="#003df2"/><stop offset="0.200" stop-color="#0058f4"/><stop offset="0.300" stop-color="#008ef8"/><stop offset="0.400" stop-color="#00aafa"/><stop offset="0.500" stop-color="#00c5fc"/><stop offset="0.600" stop-color="#00e0fe"/><stop offset="0.700" stop-color="#07f5f8"/><stop offset="0.800" stop-color="#3ff2bd"/><stop offset="0.900" stop-color="#5bf1a0"/><stop offset="1.000" stop-color="#78f082"/></linearGradient><linearGradient id="g80" gradientUnits="userSpaceOnUse" x1="0.00" y1="0.00" x2="0.00" y2="20.00"><stop offset="0.000" stop-color="#003df2"/><stop offset="0.100" stop-color="#0058f4"/><stop offset="0.200" stop-color="#0073f6"/><stop offset="0.300" stop-color="#008ef8"/><stop offset="0.400" stop-color="#00c5fc"/><stop offset="0.500" stop-color="#00e0fe"/><stop offset="0.600" stop-color="#07f5f8"/><stop offset="0.700" stop-color="#3ff2bd"/><stop offset="0.800" stop-color="#5bf1a0"/><stop offset="0.900" stop-color="#94f267"/><stop offset="1.000" stop-color="#b1f44b"/></linearGradient><linearGradient id="g81" gradientUnits="userSpaceOnUse" x1="0.00" y1="0.00" x2="0.00" y2="20.00"><stop offset="0.000" stop-color="#003df2"/><stop offset="0.100" stop-color="#0073f6"/><stop offset="0.200" stop-color="#008ef8"/><stop offset="0.300" stop-color="#00aafa"/><stop offset="0.400" stop-color="#00e0fe"/><stop offset="0.500" stop-color="#07f5f8"/><stop offset="0.600" stop-color="#3ff2bd"/><stop offset="0.700" stop-color="#5bf1a0"/><stop offset="0.800" stop-color="#94f267"/><stop offset="0.900" stop-color="#b1f44b"/><stop offset="1.000" stop-color="#eaf814"/></linearGradient><linearGradient id="g82" gradientUnits="userSpaceOnUse" x1="0.00" y1="0.00" x2="0.00" y2="20.00"><stop offset="0.000" stop-color="#0058f4"/><stop offset="0.100" stop-color="#008ef8"/><stop offset="0.200" stop-color="#00aafa"/><stop offset="0.300" stop-color="#00c5fc"/><stop offset="0.400" stop-color="#07f5f8"/><stop offset="0.500" stop-color="#23f4db"/><stop offset="0.600" stop-color="#5bf1a0"/><stop offset="0.700" stop-color="#78f082"/><stop offset="0.800" stop-color="#b1f44b"/><stop offset="0.900" stop-color="#eaf814"/><stop offset="1.000" stop-color="#fff500"/></linearGradient><linearGradient id="g83" gradientUnits="userSpaceOnUse" x1="0.00" y1="0.00" x2="0.00" y2="20.00"><stop offset="0.000" stop-color="#0073f6"/><stop offset="0.100" stop-color="#008ef8"/><stop offset="0.200" stop-color="#00c5fc"/><stop offset="0.300" stop-color="#00e0fe"/><stop offset="0.400" stop-color="#23f4db"/><stop offset="0.500" stop-color="#3ff2bd"/><stop offset="0.600" stop-color="#78f082"/><stop offset="0.700" stop-color="#b1f44b"/><stop offset="0.800" stop-color="#cdf630"/><stop offset="0.900" stop-color="#fff500"/><stop offset="1.000" stop-color="#ffce00"/></linearGradient><linearGradient id="g84" gradientUnits="userSpaceOnUse" x1="0.00" y1="20.00" x2="0.00" y2="40.00"><stop offset="0.000" stop-color="#23f4db"/><stop offset="0.100" stop-color="#3ff2bd"/><stop offset="0.200" stop-color="#78f082"/><stop offset="0.300" stop-color="#b1f44b"/><stop offset="0.400" stop-color="#cdf630"/><stop offset="0.500" stop-color="#fff500"/><stop offset="0.600" stop-color="#ffce00"/><stop offset="0.700" stop-color="#ffa700"/><stop offset="0.800" stop-color="#ff8000"/><stop offset="0.900" stop-color="#ff5900"/><stop offset="1.000" stop-color="#ff1e00"/></linearGradient><linearGradient id="g85" gradientUnits="userSpaceOnUse" x1="0.00" y1="20.00" x2="0.00" y2="40.00"><stop offset="0.000" stop-color="#3ff2bd"/><stop offset="0.100" stop-color="#78f082"/><stop offset="0.200" stop-color="#b1f44b"/><stop offset="0.300" stop-color="#eaf814"/><stop offset="0.400" stop-color="#fff500"/><stop offset="0.500" stop-color="#ffce00"/><stop offset="0.600" stop-color="#ffa700"/><stop offset="0.700" stop-color="#ff8000"/><stop offset="0.800" stop-color="#ff5900"/><stop offset="0.900" stop-color="#ff3200"/><stop offset="1.000" stop-color="#ed0200"/></linearGradient><linearGradient id="g86" gradientUnits="userSpaceOnUse" x1="0.00" y1="20.00" x2="0.00" y2="40.00"><stop offset="0.000" stop-color="#78f082"/><stop offset="0.100" stop-color="#b1f44b"/><stop offset="0.200" stop-color="#eaf814"/><stop offset="0.300" stop-color="#ffe200"/><stop offset="0.400" stop-color="#ffce00"/><stop offset="0.500" stop-color="#ffa700"/><stop offset="0.600" stop-color="#ff8000"/><stop offset="0.700" stop-color="#ff5900"/><stop offset="0.800" stop-color="#ff3200"/><stop offset="0.900" stop-color="#ff0b00"/><stop offset="1.000" stop-color="#d7040d"/></linearGradient><linearGradient id="g87" gradientUnits="userSpaceOnUse" x1="0.00" y1="20.00" x2="0.00" y2="40.00"><stop offset="0.000" stop-color="#b1f44b"/><stop offset="0.100" stop-color="#eaf814"/><stop offset="0.200" stop-color="#ffe200"/><stop offset="0.300" stop-color="#ffbb00"/><stop offset="0.400" stop-color="#ff9400"/><stop offset="0.500" stop-color="#ff6d00"/><stop offset="0.600" stop-color="#ff4600"/><stop offset="0.700" stop-color="#ff1e00"/><stop offset="0.800" stop-color="#f90700"/><stop offset="0.900" stop-color="#ed0200"/><stop offset="1.000" stop-color="#ca0819"/></linearGradient><linearGradient id="g88" gradientUnits="userSpaceOnUse" x1="0.00" y1="20.00" x2="0.00" y2="40.00"><stop offset="0.000" stop-color="#eaf814"/><stop offset="0.100" stop-color="#ffe200"/><stop offset="0.200" stop-color="#ffbb00"/><stop offset="0.300" stop-color="#ff8000"/><stop offset="0.400" stop-color="#ff5900"/><stop offset="0.500" stop-color="#ff3200"/><stop offset="0.600" stop-color="#ff0b00"/><stop offset="0.700" stop-color="#f30500"/><stop offset="0.800" stop-color="#e70001"/><stop offset="0.900" stop-color="#dc0309"/><stop offset="1.000" stop-color="#c00b24"/></linearGradient><linearGradient id="g89" gradientUnits="userSpaceOnUse" x1="0.00" y1="20.00" x2="0.00" y2="40.00"><stop offset="0.000" stop-color="#fff500"/><stop offset="0.100" stop-color="#ffbb00"/><stop offset="0.200" stop-color="#ff8000"/><stop offset="0.300" stop-color="#ff5900"/><stop offset="0.400" stop-color="#ff1e00"/><stop offset="0.500" stop-color="#f90700"/><stop offset="0.600" stop-color="#ed0200"/><stop offset="0.700" stop-color="#e20205"/><stop offset="0.800" stop-color="#d7040d"/><stop offset="0.900" stop-color="#d00613"/><stop offset="1.000" stop-color="#bb0d2b"/></linearGradient><linearGradient id="g90" gradientUnits="userSpaceOnUse" x1="0.00" y1="20.00" x2="0.00" y2="40.00"><stop offset="0.000" stop-color="#ffce00"/><stop offset="0.100" stop-color="#ff9400"/><stop offset="0.200" stop-color="#ff6d00"/><stop offset="0.300" stop-color="#ff3200"/><stop offset="0.400" stop-color="#f90700"/><stop offset="0.500" stop-color="#e70001"/><stop offset="0.600" stop-color="#e20205"/><stop offset="0.700" stop-color="#d7040d"/><stop offset="0.800" stop-color="#d00613"/><stop offset="0.900" stop-color="#ca0819"/><stop offset="1.000" stop-color="#b90e2e"/></linearGradient><linearGradient id="g91" gradientUnits="userSpaceOnUse" x1="40.00" y1="0.00" x2="54.00" y2="0.00"><stop offset="0.000" stop-color="#07f5f8"/><stop offset="0.071" stop-color="#23f4db"/><stop offset="0.143" stop-color="#23f4db"/><stop offset="0.214" stop-color="#3ff2bd"/><stop offset="0.286" stop-color="#5bf1a0"/><stop offset="0.357" stop-color="#78f082"/><stop offset="0.429" stop-color="#94f267"/><stop offset="0.500" stop-color="#b1f44b"/><stop offset="0.571" stop-color="#cdf630"/><stop offset="0.643" stop-color="#eaf814"/><stop offset="0.714" stop-color="#fff500"/><stop offset="0.786" stop-color="#fff500"/><stop offset="0.857" stop-color="#ffe200"/><stop offset="0.929" stop-color="#ffce00"/><stop offset="1.000" stop-color="#ffbb00"/></linearGradient><linearGradient id="g92" gradientUnits="userSpaceOnUse" x1="0.00" y1="0.00" x2="20.00" y2="0.00"><stop offset="0.000" stop-color="#008ef8"/><stop offset="0.050" stop-color="#008ef8"/><stop offset="0.100" stop-color="#00aafa"/><stop offset="0.150" stop-color="#00c5fc"/><stop offset="0.200" stop-color="#00c5fc"/><stop offset="0.250" stop-color="#00e0fe"/><stop offset="0.300" stop-color="#07f5f8"/><stop offset="0.350" stop-color="#07f5f8"/><stop offset="0.400" stop-color="#23f4db"/><stop offset="0.450" stop-color="#3ff2bd"/><stop offset="0.500" stop-color="#5bf1a0"/><stop offset="0.550" stop-color="#5bf1a0"/><stop offset="0.600" stop-color="#78f082"/><stop offset="0.650" stop-color="#94f267"/><stop offset="0.700" stop-color="#b1f44b"/><stop offset="0.750" stop-color="#cdf630"/><stop offset="0.800" stop-color="#eaf814"/><stop offset="0.850" stop-color="#fff500"/><stop offset="0.900" stop-color="#ffe200"/><stop offset="0.950" stop-color="#ffce00"/><stop offset="1.000" stop-color="#ffbb00"/></linearGradient><linearGradient id="g93" gradientUnits="userSpaceOnUse" x1="20.00" y1="0.00" x2="40.00" y2="0.00"><stop offset="0.000" stop-color="#ffbb00"/><stop offset="0.050" stop-color="#ffa700"/><stop offset="0.100" stop-color="#ff9400"/><stop offset="0.150" stop-color="#ff6d00"/><stop offset="0.200" stop-color="#ff5900"/><stop offset="0.250" stop-color="#ff3200"/><stop offset="0.300" stop-color="#ff1e00"/><stop offset="0.350" stop-color="#f90700"/><stop offset="0.400" stop-color="#f30500"/><stop offset="0.450" stop-color="#ed0200"/><stop offset="0.500" stop-color="#e20205"/><stop offset="0.550" stop-color="#dc0309"/><stop offset="0.600" stop-color="#d7040d"/><stop offset="0.650" stop-color="#d7040d"/><stop offset="0.700" stop-color="#d30510"/><stop offset="0.750" stop-color="#d00613"/><stop offset="0.800" stop-color="#cd0716"/><stop offset="0.850" stop-color="#ca0819"/><stop offset="0.900" stop-color="#c7091c"/><stop offset="0.950" stop-color="#c40a1f"/><stop offset="1.000" stop-color="#b90e2f"/></linearGradient><linearGradient id="g94" gradientUnits="userSpaceOnUse" x1="20.00" y1="0.00" x2="40.00" y2="0.00"><stop offset="0.000" stop-color="#ffbb00"/><stop offset="0.050" stop-color="#ffa700"/><stop offset="0.100" stop-color="#ff9400"/><stop offset="0.150" stop-color="#ff6d00"/><stop offset="0.200" stop-color="#ff5900"/><stop offset="0.250" stop-color="#ff3200"/><stop offset="0.300" stop-color="#ff1e00"/><stop offset="0.350" stop-color="#f90700"/><stop offset="0.400" stop-color="#f30500"/><stop offset="0.450" stop-color="#ed0200"/><stop offset="0.500" stop-color="#e20205"/><stop offset="0.550" stop-color="#dc0309"/><stop offset="0.600" stop-color="#d7040d"/><stop offset="0.650" stop-color="#d7040d"/><stop offset="0.700" stop-color="#d30510"/><stop offset="0.750" stop-color="#d00613"/><stop offset="0.800" stop-color="#cd0716"/><stop offset="0.850" stop-color="#ca0819"/><stop offset="0.900" stop-color="#c7091c"/><stop offset="0.950" stop-color="#c40a1f"/><stop offset="1.000" stop-color="#b90e2f"/></linearGradient><linearGradient id="g95" gradientUnits="userSpaceOnUse" x1="20.00" y1="0.00" x2="40.00" y2="0.00"><stop offset="0.000" stop-color="#ffbb00"/><stop offset="0.050" stop-color="#ffa700"/><stop offset="0.100" stop-color="#ff9400"/><stop offset="0.150" stop-color="#ff6d00"/><stop offset="0.200" stop-color="#ff5900"/><stop offset="0.250" stop-color="#ff3200"/><stop offset="0.300" stop-color="#ff1e00"/><stop offset="0.350" stop-color="#f90700"/><stop offset="0.400" stop-color="#f30500"/><stop offset="0.450" stop-color="#ed0200"/><stop offset="0.500" stop-color="#e20205"/><stop offset="0.550" stop-color="#dc0309"/><stop offset="0.600" stop-color="#d7040d"/><stop offset="0.650" stop-color="#d7040d"/><stop offset="0.700" stop-color="#d30510"/><stop offset="0.750" stop-color="#d00613"/><stop offset="0.800" stop-color="#cd0716"/><stop offset="0.850" stop-color="#ca0819"/><stop offset="0.900" stop-color="#c7091c"/><stop offset="0.950" stop-color="#c40a1f"/><stop offset="1.000" stop-color="#b90e2f"/></linearGradient><linearGradient id="g96" gradientUnits="userSpaceOnUse" x1="0.00" y1="40.00" x2="0.00" y2="50.00"><stop offset="0.000" stop-color="#ff1e00"/><stop offset="0.200" stop-color="#ff0b00"/><stop offset="0.400" stop-color="#f90700"/><stop offset="0.600" stop-color="#f30500"/><stop offset="0.800" stop-color="#ed0200"/><stop offset="1.000" stop-color="#e70001"/></linearGradient><linearGradient id="g97" gradientUnits="userSpaceOnUse" x1="0.00" y1="40.00" x2="0.00" y2="50.00"><stop offset="0.000" stop-color="#ed0200"/><stop offset="0.200" stop-color="#e70001"/><stop offset="0.400" stop-color="#e20205"/><stop offset="0.600" stop-color="#dc0309"/><stop offset="0.800" stop-color="#d7040d"/><stop offset="1.000" stop-color="#d30510"/></linearGradient><linearGradient id="g98" gradientUnits="userSpaceOnUse" x1="0.00" y1="40.00" x2="0.00" y2="50.00"><stop offset="0.000" stop-color="#d7040d"/><stop offset="0.200" stop-color="#d30510"/><stop offset="0.400" stop-color="#d00613"/><stop offset="0.600" stop-color="#cd0716"/><stop offset="0.800" stop-color="#ca0819"/><stop offset="1.000" stop-color="#ca0819"/></linearGradient><linearGradient id="g99" gradientUnits="userSpaceOnUse" x1="0.00" y1="40.00" x2="0.00" y2="50.00"><stop offset="0.000" stop-color="#ca0819"/><stop offset="0.200" stop-color="#c7091c"/><stop offset="0.400" stop-color="#c40a1f"/><stop offset="0.600" stop-color="#c40a1f"/><stop offset="0.800" stop-color="#c20b22"/><stop offset="1.000" stop-color="#c20b22"/></linearGradient><linearGradient id="g100" gradientUnits="userSpaceOnUse" x1="0.00" y1="40.00" x2="0.00" y2="50.00"><stop offset="0.000" stop-color="#c00b24"/><stop offset="0.200" stop-color="#c00b24"/><stop offset="0.400" stop-color="#bf0c26"/><stop offset="0.800" stop-color="#bf0c26"/><stop offset="1.000" stop-color="#bd0d29"/></linearGradient><linearGradient id="g101" gradientUnits="userSpaceOnUse" x1="0.00" y1="40.00" x2="0.00" y2="50.00"><stop offset="0.000" stop-color="#bb0d2b"/><stop offset="0.400" stop-color="#bb0d2b"/><stop offset="0.600" stop-color="#ba0e2d"/><stop offset="1.000" stop-color="#ba0e2d"/></linearGradient><linearGradient id="g102" gradientUnits="userSpaceOnUse" x1="0.00" y1="40.00" x2="0.00" y2="50.00"><stop offset="0.000" stop-color="#b90e2e"/><stop offset="0.600" stop-color="#b90e2e"/><stop offset="0.800" stop-color="#b90e2f"/><stop offset="1.000" stop-color="#b90e2f"/></linearGradient><linearGradient id="g103" gradientUnits="userSpaceOnUse" x1="40.00" y1="0.00" x2="54.00" y2="0.00"><stop offset="0.000" stop-color="#ff4600"/><stop offset="0.071" stop-color="#ff1e00"/><stop offset="0.143" stop-color="#f90700"/><stop offset="0.214" stop-color="#ed0200"/><stop offset="0.286" stop-color="#e20205"/><stop offset="0.357" stop-color="#d7040d"/><stop offset="0.429" stop-color="#d00613"/><stop offset="0.500" stop-color="#ca0819"/><stop offset="0.571" stop-color="#c40a1f"/><stop offset="0.643" stop-color="#c00b24"/><stop offset="0.714" stop-color="#bd0d29"/><stop offset="0.786" stop-color="#bb0d2b"/><stop offset="0.857" stop-color="#ba0e2d"/><stop offset="0.929" stop-color="#b90e2e"/><stop offset="1.000" stop-color="#b90e2f"/></linearGradient><linearGradient id="g104" gradientUnits="userSpaceOnUse" x1="20.00" y1="0.00" x2="40.00" y2="0.00"><stop offset="0.000" stop-color="#ffbb00"/><stop offset="0.050" stop-color="#ffa700"/><stop offset="0.100" stop-color="#ff9400"/><stop offset="0.150" stop-color="#ff6d00"/><stop offset="0.200" stop-color="#ff5900"/><stop offset="0.250" stop-color="#ff3200"/><stop offset="0.300" stop-color="#ff1e00"/><stop offset="0.350" stop-color="#f90700"/><stop offset="0.400" stop-color="#f30500"/><stop offset="0.450" stop-color="#ed0200"/><stop offset="0.500" stop-color="#e20205"/><stop offset="0.550" stop-color="#dc0309"/><stop offset="0.600" stop-color="#d7040d"/><stop offset="0.650" stop-color="#d7040d"/><stop offset="0.700" stop-color="#d30510"/><stop offset="0.750" stop-color="#d00613"/><stop offset="0.800" stop-color="#cd0716"/><stop offset="0.850" stop-color="#ca0819"/><stop offset="0.900" stop-color="#c7091c"/><stop offset="0.950" stop-color="#c40a1f"/><stop offset="1.000" stop-color="#b90e2f"/></linearGradient><linearGradient id="g105" gradientUnits="userSpaceOnUse" x1="40.00" y1="0.00" x2="50.00" y2="0.00"><stop offset="0.000" stop-color="#b90e2f"/><stop offset="0.700" stop-color="#b90e2f"/><stop offset="0.800" stop-color="#b80f30"/><stop offset="1.000" stop-color="#b80f30"/></linearGradient><linearGradient id="g106" gradientUnits="userSpaceOnUse" x1="40.00" y1="0.00" x2="50.00" y2="0.00"><stop offset="0.000" stop-color="#b90e2f"/><stop offset="0.700" stop-color="#b90e2f"/><stop offset="0.800" stop-color="#b80f30"/><stop offset="1.000" stop-color="#b80f30"/></linearGradient><linearGradient id="g107" gradientUnits="userSpaceOnUse" x1="40.00" y1="0.00" x2="50.00" y2="0.00"><stop offset="0.000" stop-color="#b90e2f"/><stop offset="0.700" stop-color="#b90e2f"/><stop offset="0.800" stop-color="#b80f30"/><stop offset="1.000" stop-color="#b80f30"/></linearGradient><linearGradient id="g108" gradientUnits="userSpaceOnUse" x1="40.00" y1="0.00" x2="50.00" y2="0.00"><stop offset="0.000" stop-color="#b90e2f"/><stop offset="0.700" stop-color="#b90e2f"/><stop offset="0.800" stop-color="#b80f30"/><stop offset="1.000" stop-color="#b80f30"/></linearGradient><linearGradient id="g109" gradientUnits="userSpaceOnUse" x1="0.00" y1="0.00" x2="20.00" y2="0.00"><stop offset="0.000" stop-color="#00008c"/><stop offset="0.150" stop-color="#00008c"/><stop offset="0.200" stop-color="#00009d"/><stop offset="0.550" stop-color="#00009d"/><stop offset="0.600" stop-color="#0000ae"/><stop offset="0.850" stop-color="#0000ae"/><stop offset="0.900" stop-color="#0000bf"/><stop offset="1.000" stop-color="#0000bf"/></linearGradient><linearGradient id="g110" gradientUnits="userSpaceOnUse" x1="0.00" y1="0.00" x2="20.00" y2="0.00"><stop offset="0.000" stop-color="#00008c"/><stop offset="0.150" stop-color="#00008c"/><stop offset="0.200" stop-color="#00009d"/><stop offset="0.550" stop-color="#00009d"/><stop offset="0.600" stop-color="#0000ae"/><stop offset="0.850" stop-color="#0000ae"/><stop offset="0.900" stop-color="#0000bf"/><stop offset="1.000" stop-color="#0000bf"/></linearGradient><linearGradient id="g111" gradientUnits="userSpaceOnUse" x1="0.00" y1="0.00" x2="20.00" y2="0.00"><stop offset="0.000" stop-color="#00008c"/><stop offset="0.150" stop-color="#00008c"/><stop offset="0.200" stop-color="#00009d"/><stop offset="0.550" stop-color="#00009d"/><stop offset="0.600" stop-color="#0000ae"/><stop offset="0.850" stop-color="#0000ae"/><stop offset="0.900" stop-color="#0000bf"/><stop offset="1.000" stop-color="#0000bf"/></linearGradient><linearGradient id="g112" gradientUnits="userSpaceOnUse" x1="0.00" y1="0.00" x2="20.00" y2="0.00"><stop offset="0.000" stop-color="#00008c"/><stop offset="0.150" stop-color="#00008c"/><stop offset="0.200" stop-color="#00009d"/><stop offset="0.550" stop-color="#00009d"/><stop offset="0.600" stop-color="#0000ae"/><stop offset="0.850" stop-color="#0000ae"/><stop offset="0.900" stop-color="#0000bf"/><stop offset="1.000" stop-color="#0000bf"/></linearGradient><linearGradient id="g113" gradientUnits="userSpaceOnUse" x1="0.00" y1="0.00" x2="20.00" y2="0.00"><stop offset="0.000" stop-color="#00008c"/><stop offset="0.150" stop-color="#00008c"/><stop offset="0.200" stop-color="#00009d"/><stop offset="0.550" stop-color="#00009d"/><stop offset="0.600" stop-color="#0000ae"/><stop offset="0.850" stop-color="#0000ae"/><stop offset="0.900" stop-color="#0000bf"/><stop offset="1.000" stop-color="#0000bf"/></linearGradient><linearGradient id="g114" gradientUnits="userSpaceOnUse" x1="0.00" y1="0.00" x2="20.00" y2="0.00"><stop offset="0.000" stop-color="#00008c"/><stop offset="0.150" stop-color="#00008c"/><stop offset="0.200" stop-color="#00009d"/><stop offset="0.550" stop-color="#00009d"/><stop offset="0.600" stop-color="#0000ae"/><stop offset="0.850" stop-color="#0000ae"/><stop offset="0.900" stop-color="#0000bf"/><stop offset="1.000" stop-color="#0000bf"/></linearGradient><linearGradient id="g115" gradientUnits="userSpaceOnUse" x1="0.00" y1="0.00" x2="20.00" y2="0.00"><stop offset="0.000" stop-color="#00008c"/><stop offset="0.150" stop-color="#00008c"/><stop offset="0.200" stop-color="#00009d"/><stop offset="0.550" stop-color="#00009d"/><stop offset="0.600" stop-color="#0000ae"/><stop offset="0.850" stop-color="#0000ae"/><stop offset="0.900" stop-color="#0000bf"/><stop offset="1.000" stop-color="#0000bf"/></linearGradient><linearGradient id="g116" gradientUnits="userSpaceOnUse" x1="0.00" y1="0.00" x2="20.00" y2="0.00"><stop offset="0.000" stop-color="#00008c"/><stop offset="0.150" stop-color="#00008c"/><stop offset="0.200" stop-color="#00009d"/><stop offset="0.550" stop-color="#00009d"/><stop offset="0.600" stop-color="#0000ae"/><stop offset="0.850" stop-color="#0000ae"/><stop offset="0.900" stop-color="#0000bf"/><stop offset="1.000" stop-color="#0000bf"/></linearGradient><linearGradient id="g117" gradientUnits="userSpaceOnUse" x1="0.00" y1="0.00" x2="20.00" y2="0.00"><stop offset="0.000" stop-color="#00008c"/><stop offset="0.150" stop-color="#00008c"/><stop offset="0.200" stop-color="#00009d"/><stop offset="0.550" stop-color="#00009d"/><stop offset="0.600" stop-color="#0000ae"/><stop offset="0.850" stop-color="#0000ae"/><stop offset="0.900" stop-color="#0000bf"/><stop offset="1.000" stop-color="#0000bf"/></linearGradient><linearGradient id="g118" gradientUnits="userSpaceOnUse" x1="0.00" y1="0.00" x2="20.00" y2="0.00"><stop offset="0.000" stop-color="#00008c"/><stop offset="0.150" stop-color="#00008c"/><stop offset="0.200" stop-color="#00009d"/><stop offset="0.550" stop-color="#00009d"/><stop offset="0.600" stop-color="#0000ae"/><stop offset="0.850" stop-color="#0000ae"/><stop offset="0.900" stop-color="#0000bf"/><stop offset="1.000" stop-color="#0000bf"/></linearGradient><linearGradient id="g119" gradientUnits="userSpaceOnUse" x1="0.00" y1="0.00" x2="20.00" y2="0.00"><stop offset="0.000" stop-color="#00008c"/><stop offset="0.150" stop-color="#00008c"/><stop offset="0.200" stop-color="#00009d"/><stop offset="0.550" stop-color="#00009d"/><stop offset="0.600" stop-color="#0000ae"/><stop offset="0.850" stop-color="#0000ae"/><stop offset="0.900" stop-color="#0000bf"/><stop offset="1.000" stop-color="#0000bf"/></linearGradient><linearGradient id="g120" gradientUnits="userSpaceOnUse" x1="0.00" y1="0.00" x2="20.00" y2="0.00"><stop offset="0.000" stop-color="#00008c"/><stop offset="0.150" stop-color="#00008c"/><stop offset="0.200" stop-color="#00009d"/><stop offset="0.550" stop-color="#00009d"/><stop offset="0.600" stop-color="#0000ae"/><stop offset="0.850" stop-color="#0000ae"/><stop offset="0.900" stop-color="#0000bf"/><stop offset="1.000" stop-color="#0000bf"/></linearGradient><linearGradient id="g121" gradientUnits="userSpaceOnUse" x1="0.00" y1="0.00" x2="20.00" y2="0.00"><stop offset="0.000" stop-color="#00008c"/><stop offset="0.150" stop-color="#00008c"/><stop offset="0.200" stop-color="#00009d"/><stop offset="0.550" stop-color="#00009d"/><stop offset="0.600" stop-color="#0000ae"/><stop offset="0.850" stop-color="#0000ae"/><stop offset="0.900" stop-color="#0000bf"/><stop offset="1.000" stop-color="#0000bf"/></linearGradient><linearGradient id="g122" gradientUnits="userSpaceOnUse" x1="0.00" y1="0.00" x2="20.00" y2="0.00"><stop offset="0.000" stop-color="#00008c"/><stop offset="0.150" stop-color="#00008c"/><stop offset="0.200" stop-color="#00009d"/><stop offset="0.550" stop-color="#00009d"/><stop offset="0.600" stop-color="#0000ae"/><stop offset="0.850" stop-color="#0000ae"/><stop offset="0.900" stop-color="#0000bf"/><stop offset="1.000" stop-color="#0000bf"/></linearGradient><linearGradient id="g123" gradientUnits="userSpaceOnUse" x1="20.00" y1="0.00" x2="40.00" y2="0.00"><stop offset="0.000" stop-color="#0000bf"/><stop offset="0.200" stop-color="#0000bf"/><stop offset="0.250" stop-color="#0000d0"/><stop offset="0.550" stop-color="#0000d0"/><stop offset="0.600" stop-color="#0000e1"/><stop offset="0.700" stop-color="#0000e1"/><stop offset="0.750" stop-color="#0006ee"/><stop offset="0.900" stop-color="#0006ee"/><stop offset="0.950" stop-color="#0021f0"/><stop offset="1.000" stop-color="#0021f0"/></linearGradient><linearGradient id="g124" gradientUnits="userSpaceOnUse" x1="20.00" y1="0.00" x2="40.00" y2="0.00"><stop offset="0.000" stop-color="#0000bf"/><stop offset="0.200" stop-color="#0000bf"/><stop offset="0.250" stop-color="#0000d0"/><stop offset="0.550" stop-color="#0000d0"/><stop offset="0.600" stop-color="#0000e1"/><stop offset="0.750" stop-color="#0000e1"/><stop offset="0.800" stop-color="#0006ee"/><stop offset="0.950" stop-color="#0006ee"/><stop offset="1.000" stop-color="#0021f0"/></linearGradient><linearGradient id="g125" gradientUnits="userSpaceOnUse" x1="20.00" y1="0.00" x2="40.00" y2="0.00"><stop offset="0.000" stop-color="#0000bf"/><stop offset="0.200" stop-color="#0000bf"/><stop offset="0.250" stop-color="#0000d0"/><stop offset="0.550" stop-color="#0000d0"/><stop offset="0.600" stop-color="#0000e1"/><stop offset="0.750" stop-color="#0000e1"/><stop offset="0.800" stop-color="#0006ee"/><stop offset="0.950" stop-color="#0006ee"/><stop offset="1.000" stop-color="#0021f0"/></linearGradient><linearGradient id="g126" gradientUnits="userSpaceOnUse" x1="20.00" y1="0.00" x2="40.00" y2="0.00"><stop offset="0.000" stop-color="#0000bf"/><stop offset="0.200" stop-color="#0000bf"/><stop offset="0.250" stop-color="#0000d0"/><stop offset="0.550" stop-color="#0000d0"/><stop offset="0.600" stop-color="#0000e1"/><stop offset="0.750" stop-color="#0000e1"/><stop offset="0.800" stop-color="#0006ee"/><stop offset="1.000" stop-color="#0006ee"/></linearGradient><linearGradient id="g127" gradientUnits="userSpaceOnUse" x1="20.00" y1="0.00" x2="40.00" y2="0.00"><stop offset="0.000" stop-color="#0000bf"/><stop offset="0.200" stop-color="#0000bf"/><stop offset="0.250" stop-color="#0000d0"/><stop offset="0.550" stop-color="#0000d0"/><stop offset="0.600" stop-color="#0000e1"/><stop offset="0.800" stop-color="#0000e1"/><stop offset="0.850" stop-color="#0006ee"/><stop offset="1.000" stop-color="#0006ee"/></linearGradient><linearGradient id="g128" gradientUnits="userSpaceOnUse" x1="20.00" y1="0.00" x2="40.00" y2="0.00"><stop offset="0.000" stop-color="#0000bf"/><stop offset="0.200" stop-color="#0000bf"/><stop offset="0.250" stop-color="#0000d0"/><stop offset="0.550" stop-color="#0000d0"/><stop offset="0.600" stop-color="#0000e1"/><stop offset="0.800" stop-color="#0000e1"/><stop offset="0.850" stop-color="#0006ee"/><stop offset="1.000" stop-color="#0006ee"/></linearGradient><linearGradient id="g129" gradientUnits="userSpaceOnUse" x1="20.00" y1="0.00" x2="40.00" y2="0.00"><stop offset="0.000" stop-color="#0000bf"/><stop offset="0.200" stop-color="#0000bf"/><stop offset="0.250" stop-color="#0000d0"/><stop offset="0.550" stop-color="#0000d0"/><stop offset="0.600" stop-color="#0000e1"/><stop offset="0.850" stop-color="#0000e1"/><stop offset="0.900" stop-color="#0006ee"/><stop offset="1.000" stop-color="#0006ee"/></linearGradient><linearGradient id="g130" gradientUnits="userSpaceOnUse" x1="20.00" y1="0.00" x2="40.00" y2="0.00"><stop offset="0.000" stop-color="#0000bf"/><stop offset="0.200" stop-color="#0000bf"/><stop offset="0.250" stop-color="#0000d0"/><stop offset="0.550" stop-color="#0000d0"/><stop offset="0.600" stop-color="#0000e1"/><stop offset="0.850" stop-color="#0000e1"/><stop offset="0.900" stop-color="#0006ee"/><stop offset="1.000" stop-color="#0006ee"/></linearGradient><linearGradient id="g131" gradientUnits="userSpaceOnUse" x1="20.00" y1="0.00" x2="40.00" y2="0.00"><stop offset="0.000" stop-color="#0000bf"/><stop offset="0.200" stop-color="#0000bf"/><stop offset="0.250" stop-color="#0000d0"/><stop offset="0.600" stop-color="#0000d0"/><stop offset="0.650" stop-color="#0000e1"/><stop offset="0.900" stop-color="#0000e1"/><stop offset="0.950" stop-color="#0006ee"/><stop offset="1.000" stop-color="#0006ee"/></linearGradient><linearGradient id="g132" gradientUnits="userSpaceOnUse" x1="20.00" y1="0.00" x2="40.00" y2="0.00"><stop offset="0.000" stop-color="#0000bf"/><stop offset="0.200" stop-color="#0000bf"/><stop offset="0.250" stop-color="#0000d0"/><stop offset="0.600" stop-color="#0000d0"/><stop offset="0.650" stop-color="#0000e1"/><stop offset="0.950" stop-color="#0000e1"/><stop offset="1.000" stop-color="#0006ee"/></linearGradient><linearGradient id="g133" gradientUnits="userSpaceOnUse" x1="20.00" y1="0.00" x2="40.00" y2="0.00"><stop offset="0.000" stop-color="#0000bf"/><stop offset="0.200" stop-color="#0000bf"/><stop offset="0.250" stop-color="#0000d0"/><stop offset="0.600" stop-color="#0000d0"/><stop offset="0.650" stop-color="#0000e1"/><stop offset="1.000" stop-color="#0000e1"/></linearGradient><linearGradient id="g134" gradientUnits="userSpaceOnUse" x1="20.00" y1="0.00" x2="40.00" y2="0.00"><stop offset="0.000" stop-color="#0000bf"/><stop offset="0.200" stop-color="#0000bf"/><stop offset="0.250" stop-color="#0000d0"/><stop offset="0.650" stop-color="#0000d0"/><stop offset="0.700" stop-color="#0000e1"/><stop offset="1.000" stop-color="#0000e1"/></linearGradient><linearGradient id="g135" gradientUnits="userSpaceOnUse" x1="20.00" y1="0.00" x2="40.00" y2="0.00"><stop offset="0.000" stop-color="#0000bf"/><stop offset="0.200" stop-color="#0000bf"/><stop offset="0.250" stop-color="#0000d0"/><stop offset="0.650" stop-color="#0000d0"/><stop offset="0.700" stop-color="#0000e1"/><stop offset="1.000" stop-color="#0000e1"/></linearGradient><linearGradient id="g136" gradientUnits="userSpaceOnUse" x1="20.00" y1="0.00" x2="40.00" y2="0.00"><stop offset="0.000" stop-color="#0000bf"/><stop offset="0.200" stop-color="#0000bf"/><stop offset="0.250" stop-color="#0000d0"/><stop offset="0.700" stop-color="#0000d0"/><stop offset="0.750" stop-color="#0000e1"/><stop offset="1.000" stop-color="#0000e1"/></linearGradient><linearGradient id="g137" gradientUnits="userSpaceOnUse" x1="40.00" y1="0.00" x2="54.00" y2="0.00"><stop offset="0.000" stop-color="#0021f0"/><stop offset="0.071" stop-color="#0021f0"/><stop offset="0.143" stop-color="#003df2"/><stop offset="0.286" stop-color="#003df2"/><stop offset="0.357" stop-color="#0058f4"/><stop offset="0.429" stop-color="#0058f4"/><stop offset="0.500" stop-color="#0073f6"/><stop offset="0.643" stop-color="#0073f6"/><stop offset="0.714" stop-color="#008ef8"/><stop offset="0.786" stop-color="#008ef8"/><stop offset="0.857" stop-color="#00aafa"/><stop offset="0.929" stop-color="#00c5fc"/><stop offset="1.000" stop-color="#00c5fc"/></linearGradient><linearGradient id="g138" gradientUnits="userSpaceOnUse" x1="40.00" y1="0.00" x2="54.00" y2="0.00"><stop offset="0.000" stop-color="#0021f0"/><stop offset="0.143" stop-color="#0021f0"/><stop offset="0.214" stop-color="#003df2"/><stop offset="0.286" stop-color="#003df2"/><stop offset="0.357" stop-color="#0058f4"/><stop offset="0.500" stop-color="#0058f4"/><stop offset="0.571" stop-color="#0073f6"/><stop offset="0.643" stop-color="#0073f6"/><stop offset="0.714" stop-color="#008ef8"/><stop offset="0.786" stop-color="#008ef8"/><stop offset="0.857" stop-color="#00aafa"/><stop offset="0.929" stop-color="#00aafa"/><stop offset="1.000" stop-color="#00c5fc"/></linearGradient><linearGradient id="g139" gradientUnits="userSpaceOnUse" x1="40.00" y1="0.00" x2="54.00" y2="0.00"><stop offset="0.000" stop-color="#0021f0"/><stop offset="0.143" stop-color="#0021f0"/><stop offset="0.214" stop-color="#003df2"/><stop offset="0.357" stop-color="#003df2"/><stop offset="0.429" stop-color="#0058f4"/><stop offset="0.500" stop-color="#0058f4"/><stop offset="0.571" stop-color="#0073f6"/><stop offset="0.714" stop-color="#0073f6"/><stop offset="0.786" stop-color="#008ef8"/><stop offset="0.857" stop-color="#008ef8"/><stop offset="0.929" stop-color="#00aafa"/><stop offset="1.000" stop-color="#00aafa"/></linearGradient><linearGradient id="g140" gradientUnits="userSpaceOnUse" x1="40.00" y1="0.00" x2="54.00" y2="0.00"><stop offset="0.000" stop-color="#0006ee"/><stop offset="0.071" stop-color="#0021f0"/><stop offset="0.214" stop-color="#0021f0"/><stop offset="0.286" stop-color="#003df2"/><stop offset="0.357" stop-color="#003df2"/><stop offset="0.429" stop-color="#0058f4"/><stop offset="0.571" stop-color="#0058f4"/><stop offset="0.643" stop-color="#0073f6"/><stop offset="0.786" stop-color="#0073f6"/><stop offset="0.857" stop-color="#008ef8"/><stop offset="0.929" stop-color="#00aafa"/><stop offset="1.000" stop-color="#00aafa"/></linearGradient><linearGradient id="g141" gradientUnits="userSpaceOnUse" x1="40.00" y1="0.00" x2="54.00" y2="0.00"><stop offset="0.000" stop-color="#0006ee"/><stop offset="0.071" stop-color="#0021f0"/><stop offset="0.214" stop-color="#0021f0"/><stop offset="0.286" stop-color="#003df2"/><stop offset="0.429" stop-color="#003df2"/><stop offset="0.500" stop-color="#0058f4"/><stop offset="0.643" stop-color="#0058f4"/><stop offset="0.714" stop-color="#0073f6"/><stop offset="0.786" stop-color="#0073f6"/><stop offset="0.857" stop-color="#008ef8"/><stop offset="0.929" stop-color="#008ef8"/><stop offset="1.000" stop-color="#00aafa"/></linearGradient><linearGradient id="g142" gradientUnits="userSpaceOnUse" x1="40.00" y1="0.00" x2="54.00" y2="0.00"><stop offset="0.000" stop-color="#0006ee"/><stop offset="0.071" stop-color="#0006ee"/><stop offset="0.143" stop-color="#0021f0"/><stop offset="0.286" stop-color="#0021f0"/><stop offset="0.357" stop-color="#003df2"/><stop offset="0.500" stop-color="#003df2"/><stop offset="0.571" stop-color="#0058f4"/><stop offset="0.714" stop-color="#0058f4"/><stop offset="0.786" stop-color="#0073f6"/><stop offset="0.857" stop-color="#0073f6"/><stop offset="0.929" stop-color="#008ef8"/><stop offset="1.000" stop-color="#008ef8"/></linearGradient><linearGradient id="g143" gradientUnits="userSpaceOnUse" x1="40.00" y1="0.00" x2="54.00" y2="0.00"><stop offset="0.000" stop-color="#0006ee"/><stop offset="0.071" stop-color="#0006ee"/><stop offset="0.143" stop-color="#0021f0"/><stop offset="0.286" stop-color="#0021f0"/><stop offset="0.357" stop-color="#003df2"/><stop offset="0.571" stop-color="#003df2"/><stop offset="0.643" stop-color="#0058f4"/><stop offset="0.714" stop-color="#0058f4"/><stop offset="0.786" stop-color="#0073f6"/><stop offset="0.857" stop-color="#0073f6"/><stop offset="0.929" stop-color="#008ef8"/><stop offset="1.000" stop-color="#008ef8"/></linearGradient><linearGradient id="g144" gradientUnits="userSpaceOnUse" x1="40.00" y1="0.00" x2="54.00" y2="0.00"><stop offset="0.000" stop-color="#0006ee"/><stop offset="0.143" stop-color="#0006ee"/><stop offset="0.214" stop-color="#0021f0"/><stop offset="0.357" stop-color="#0021f0"/><stop offset="0.429" stop-color="#003df2"/><stop offset="0.643" stop-color="#003df2"/><stop offset="0.714" stop-color="#0058f4"/><stop offset="0.786" stop-color="#0058f4"/><stop offset="0.857" stop-color="#0073f6"/><stop offset="0.929" stop-color="#0073f6"/><stop offset="1.000" stop-color="#008ef8"/></linearGradient><linearGradient id="g145" gradientUnits="userSpaceOnUse" x1="40.00" y1="0.00" x2="54.00" y2="0.00"><stop offset="0.000" stop-color="#0006ee"/><stop offset="0.143" stop-color="#0006ee"/><stop offset="0.214" stop-color="#0021f0"/><stop offset="0.429" stop-color="#0021f0"/><stop offset="0.500" stop-color="#003df2"/><stop offset="0.714" stop-color="#003df2"/><stop offset="0.786" stop-color="#0058f4"/><stop offset="0.857" stop-color="#0058f4"/><stop offset="0.929" stop-color="#0073f6"/><stop offset="1.000" stop-color="#0073f6"/></linearGradient><linearGradient id="g146" gradientUnits="userSpaceOnUse" x1="40.00" y1="0.00" x2="54.00" y2="0.00"><stop offset="0.000" stop-color="#0006ee"/><stop offset="0.214" stop-color="#0006ee"/><stop offset="0.286" stop-color="#0021f0"/><stop offset="0.500" stop-color="#0021f0"/><stop offset="0.571" stop-color="#003df2"/><stop offset="0.714" stop-color="#003df2"/><stop offset="0.786" stop-color="#0058f4"/><stop offset="0.857" stop-color="#0058f4"/><stop offset="0.929" stop-color="#0073f6"/><stop offset="1.000" stop-color="#0073f6"/></linearGradient><linearGradient id="g147" gradientUnits="userSpaceOnUse" x1="40.00" y1="0.00" x2="54.00" y2="0.00"><stop offset="0.000" stop-color="#0000e1"/><stop offset="0.071" stop-color="#0006ee"/><stop offset="0.286" stop-color="#0006ee"/><stop offset="0.357" stop-color="#0021f0"/><stop offset="0.571" stop-color="#0021f0"/><stop offset="0.643" stop-color="#003df2"/><stop offset="0.786" stop-color="#003df2"/><stop offset="0.857" stop-color="#0058f4"/><stop offset="0.929" stop-color="#0058f4"/><stop offset="1.000" stop-color="#0073f6"/></linearGradient><linearGradient id="g148" gradientUnits="userSpaceOnUse" x1="40.00" y1="0.00" x2="54.00" y2="0.00"><stop offset="0.000" stop-color="#0000e1"/><stop offset="0.071" stop-color="#0000e1"/><stop offset="0.143" stop-color="#0006ee"/><stop offset="0.357" stop-color="#0006ee"/><stop offset="0.429" stop-color="#0021f0"/><stop offset="0.643" stop-color="#0021f0"/><stop offset="0.714" stop-color="#003df2"/><stop offset="0.857" stop-color="#003df2"/><stop offset="0.929" stop-color="#0058f4"/><stop offset="1.000" stop-color="#0058f4"/></linearGradient><linearGradient id="g149" gradientUnits="userSpaceOnUse" x1="40.00" y1="0.00" x2="54.00" y2="0.00"><stop offset="0.000" stop-color="#0000e1"/><stop offset="0.071" stop-color="#0000e1"/><stop offset="0.143" stop-color="#0006ee"/><stop offset="0.429" stop-color="#0006ee"/><stop offset="0.500" stop-color="#0021f0"/><stop offset="0.714" stop-color="#0021f0"/><stop offset="0.786" stop-color="#003df2"/><stop offset="0.929" stop-color="#003df2"/><stop offset="1.000" stop-color="#0058f4"/></linearGradient><linearGradient id="g150" gradientUnits="userSpaceOnUse" x1="40.00" y1="0.00" x2="54.00" y2="0.00"><stop offset="0.000" stop-color="#0000e1"/><stop offset="0.143" stop-color="#0000e1"/><stop offset="0.214" stop-color="#0006ee"/><stop offset="0.500" stop-color="#0006ee"/><stop offset="0.571" stop-color="#0021f0"/><stop offset="0.786" stop-color="#0021f0"/><stop offset="0.857" stop-color="#003df2"/><stop offset="0.929" stop-color="#003df2"/><stop offset="1.000" stop-color="#0058f4"/></linearGradient><linearGradient id="g151" gradientUnits="userSpaceOnUse" x1="0.00" y1="0.00" x2="0.00" y2="20.00"><stop offset="0.000" stop-color="#008ef8"/><stop offset="0.100" stop-color="#00aafa"/><stop offset="0.200" stop-color="#00e0fe"/><stop offset="0.300" stop-color="#07f5f8"/><stop offset="0.400" stop-color="#3ff2bd"/><stop offset="0.500" stop-color="#5bf1a0"/><stop offset="0.600" stop-color="#94f267"/><stop offset="0.700" stop-color="#cdf630"/><stop offset="0.800" stop-color="#eaf814"/><stop offset="0.900" stop-color="#ffe200"/><stop offset="1.000" stop-color="#ffbb00"/></linearGradient><linearGradient id="g152" gradientUnits="userSpaceOnUse" x1="0.00" y1="0.00" x2="0.00" y2="20.00"><stop offset="0.000" stop-color="#00aafa"/><stop offset="0.100" stop-color="#00c5fc"/><stop offset="0.200" stop-color="#07f5f8"/><stop offset="0.300" stop-color="#23f4db"/><stop offset="0.400" stop-color="#3ff2bd"/><stop offset="0.500" stop-color="#78f082"/><stop offset="0.600" stop-color="#94f267"/><stop offset="0.700" stop-color="#cdf630"/><stop offset="0.800" stop-color="#fff500"/><stop offset="0.900" stop-color="#ffce00"/><stop offset="1.000" stop-color="#ffa700"/></linearGradient><linearGradient id="g153" gradientUnits="userSpaceOnUse" x1="0.00" y1="0.00" x2="0.00" y2="20.00"><stop offset="0.000" stop-color="#00c5fc"/><stop offset="0.100" stop-color="#00e0fe"/><stop offset="0.200" stop-color="#07f5f8"/><stop offset="0.300" stop-color="#3ff2bd"/><stop offset="0.400" stop-color="#5bf1a0"/><stop offset="0.500" stop-color="#78f082"/><stop offset="0.600" stop-color="#b1f44b"/><stop offset="0.700" stop-color="#eaf814"/><stop offset="0.800" stop-color="#ffe200"/><stop offset="0.900" stop-color="#ffbb00"/><stop offset="1.000" stop-color="#ff9400"/></linearGradient><linearGradient id="g154" gradientUnits="userSpaceOnUse" x1="54.00" y1="0.00" x2="60.00" y2="0.00"><stop offset="0.000" stop-color="#00c5fc"/><stop offset="0.167" stop-color="#00e0fe"/><stop offset="0.333" stop-color="#00e0fe"/><stop offset="0.500" stop-color="#07f5f8"/><stop offset="0.667" stop-color="#07f5f8"/><stop offset="0.833" stop-color="#23f4db"/><stop offset="1.000" stop-color="#23f4db"/></linearGradient><linearGradient id="g155" gradientUnits="userSpaceOnUse" x1="54.00" y1="0.00" x2="60.00" y2="0.00"><stop offset="0.000" stop-color="#00c5fc"/><stop offset="0.167" stop-color="#00c5fc"/><stop offset="0.333" stop-color="#00e0fe"/><stop offset="0.500" stop-color="#00e0fe"/><stop offset="0.667" stop-color="#07f5f8"/><stop offset="0.833" stop-color="#07f5f8"/><stop offset="1.000" stop-color="#23f4db"/></linearGradient><linearGradient id="g156" gradientUnits="userSpaceOnUse" x1="54.00" y1="0.00" x2="60.00" y2="0.00"><stop offset="0.000" stop-color="#00aafa"/><stop offset="0.167" stop-color="#00c5fc"/><stop offset="0.333" stop-color="#00c5fc"/><stop offset="0.500" stop-color="#00e0fe"/><stop offset="0.667" stop-color="#00e0fe"/><stop offset="0.833" stop-color="#07f5f8"/><stop offset="1.000" stop-color="#07f5f8"/></linearGradient><linearGradient id="g157" gradientUnits="userSpaceOnUse" x1="54.00" y1="0.00" x2="60.00" y2="0.00"><stop offset="0.000" stop-color="#00aafa"/><stop offset="0.167" stop-color="#00c5fc"/><stop offset="0.333" stop-color="#00c5fc"/><stop offset="0.500" stop-color="#00e0fe"/><stop offset="0.833" stop-color="#00e0fe"/><stop offset="1.000" stop-color="#07f5f8"/></linearGradient><linearGradient id="g158" gradientUnits="userSpaceOnUse" x1="54.00" y1="0.00" x2="60.00" y2="0.00"><stop offset="0.000" stop-color="#00aafa"/><stop offset="0.167" stop-color="#00aafa"/><stop offset="0.333" stop-color="#00c5fc"/><stop offset="0.500" stop-color="#00c5fc"/><stop offset="0.667" stop-color="#00e0fe"/><stop offset="0.833" stop-color="#00e0fe"/><stop offset="1.000" stop-color="#07f5f8"/></linearGradient><linearGradient id="g159" gradientUnits="userSpaceOnUse" x1="54.00" y1="0.00" x2="60.00" y2="0.00"><stop offset="0.000" stop-color="#008ef8"/><stop offset="0.167" stop-color="#00aafa"/><stop offset="0.333" stop-color="#00aafa"/><stop offset="0.500" stop-color="#00c5fc"/><stop offset="0.667" stop-color="#00c5fc"/><stop offset="0.833" stop-color="#00e0fe"/><stop offset="1.000" stop-color="#00e0fe"/></linearGradient><linearGradient id="g160" gradientUnits="userSpaceOnUse" x1="54.00" y1="0.00" x2="60.00" y2="0.00"><stop offset="0.000" stop-color="#008ef8"/><stop offset="0.167" stop-color="#00aafa"/><stop offset="0.500" stop-color="#00aafa"/><stop offset="0.667" stop-color="#00c5fc"/><stop offset="0.833" stop-color="#00c5fc"/><stop offset="1.000" stop-color="#00e0fe"/></linearGradient><linearGradient id="g161" gradientUnits="userSpaceOnUse" x1="54.00" y1="0.00" x2="60.00" y2="0.00"><stop offset="0.000" stop-color="#008ef8"/><stop offset="0.167" stop-color="#008ef8"/><stop offset="0.333" stop-color="#00aafa"/><stop offset="0.500" stop-color="#00aafa"/><stop offset="0.667" stop-color="#00c5fc"/><stop offset="0.833" stop-color="#00c5fc"/><stop offset="1.000" stop-color="#00e0fe"/></linearGradient><linearGradient id="g162" gradientUnits="userSpaceOnUse" x1="0.00" y1="20.00" x2="0.00" y2="40.00"><stop offset="0.000" stop-color="#ffbb00"/><stop offset="0.100" stop-color="#ff8000"/><stop offset="0.200" stop-color="#ff4600"/><stop offset="0.300" stop-color="#ff1e00"/><stop offset="0.400" stop-color="#f30500"/><stop offset="0.500" stop-color="#e20205"/><stop offset="0.600" stop-color="#d7040d"/><stop offset="0.700" stop-color="#d30510"/><stop offset="0.800" stop-color="#cd0716"/><stop offset="0.900" stop-color="#c7091c"/><stop offset="1.000" stop-color="#b90e2f"/></linearGradient><linearGradient id="g163" gradientUnits="userSpaceOnUse" x1="0.00" y1="20.00" x2="0.00" y2="40.00"><stop offset="0.000" stop-color="#ffa700"/><stop offset="0.100" stop-color="#ff6d00"/><stop offset="0.200" stop-color="#ff4600"/><stop offset="0.300" stop-color="#ff0b00"/><stop offset="0.400" stop-color="#ed0200"/><stop offset="0.500" stop-color="#e20205"/><stop offset="0.600" stop-color="#d7040d"/><stop offset="0.700" stop-color="#d00613"/><stop offset="0.800" stop-color="#ca0819"/><stop offset="0.900" stop-color="#c7091c"/><stop offset="1.000" stop-color="#b90e2f"/></linearGradient><linearGradient id="g164" gradientUnits="userSpaceOnUse" x1="0.00" y1="20.00" x2="0.00" y2="40.00"><stop offset="0.000" stop-color="#ff9400"/><stop offset="0.100" stop-color="#ff6d00"/><stop offset="0.200" stop-color="#ff3200"/><stop offset="0.300" stop-color="#f90700"/><stop offset="0.400" stop-color="#ed0200"/><stop offset="0.500" stop-color="#dc0309"/><stop offset="0.600" stop-color="#d7040d"/><stop offset="0.700" stop-color="#d00613"/><stop offset="0.800" stop-color="#ca0819"/><stop offset="0.900" stop-color="#c40a1f"/><stop offset="1.000" stop-color="#b80f30"/></linearGradient><linearGradient id="g165" gradientUnits="userSpaceOnUse" x1="54.00" y1="0.00" x2="60.00" y2="0.00"><stop offset="0.000" stop-color="#ffbb00"/><stop offset="0.167" stop-color="#ffbb00"/><stop offset="0.333" stop-color="#ffa700"/><stop offset="0.667" stop-color="#ffa700"/><stop offset="0.833" stop-color="#ff9400"/><stop offset="1.000" stop-color="#ff9400"/></linearGradient><linearGradient id="g166" gradientUnits="userSpaceOnUse" x1="0.00" y1="0.00" x2="0.00" y2="20.00"><stop offset="0.000" stop-color="#008ef8"/><stop offset="0.100" stop-color="#00aafa"/><stop offset="0.200" stop-color="#00e0fe"/><stop offset="0.300" stop-color="#07f5f8"/><stop offset="0.400" stop-color="#3ff2bd"/><stop offset="0.500" stop-color="#5bf1a0"/><stop offset="0.600" stop-color="#94f267"/><stop offset="0.700" stop-color="#cdf630"/><stop offset="0.800" stop-color="#eaf814"/><stop offset="0.900" stop-color="#ffe200"/><stop offset="1.000" stop-color="#ffbb00"/></linearGradient><linearGradient id="g167" gradientUnits="userSpaceOnUse" x1="0.00" y1="0.00" x2="0.00" y2="20.00"><stop offset="0.000" stop-color="#00aafa"/><stop offset="0.100" stop-color="#00c5fc"/><stop offset="0.200" stop-color="#07f5f8"/><stop offset="0.300" stop-color="#23f4db"/><stop offset="0.400" stop-color="#3ff2bd"/><stop offset="0.500" stop-color="#78f082"/><stop offset="0.600" stop-color="#94f267"/><stop offset="0.700" stop-color="#cdf630"/><stop offset="0.800" stop-color="#fff500"/><stop offset="0.900" stop-color="#ffce00"/><stop offset="1.000" stop-color="#ffa700"/></linearGradient><linearGradient id="g168" gradientUnits="userSpaceOnUse" x1="0.00" y1="0.00" x2="0.00" y2="20.00"><stop offset="0.000" stop-color="#00c5fc"/><stop offset="0.100" stop-color="#00e0fe"/><stop offset="0.200" stop-color="#07f5f8"/><stop offset="0.300" stop-color="#3ff2bd"/><stop offset="0.400" stop-color="#5bf1a0"/><stop offset="0.500" stop-color="#78f082"/><stop offset="0.600" stop-color="#b1f44b"/><stop offset="0.700" stop-color="#eaf814"/><stop offset="0.800" stop-color="#ffe200"/><stop offset="0.900" stop-color="#ffbb00"/><stop offset="1.000" stop-color="#ff9400"/></linearGradient><linearGradient id="g169" gradientUnits="userSpaceOnUse" x1="54.00" y1="0.00" x2="60.00" y2="0.00"><stop offset="0.000" stop-color="#0073f6"/><stop offset="0.167" stop-color="#008ef8"/><stop offset="0.333" stop-color="#008ef8"/><stop offset="0.500" stop-color="#00aafa"/><stop offset="0.667" stop-color="#00aafa"/><stop offset="0.833" stop-color="#00c5fc"/><stop offset="1.000" stop-color="#00c5fc"/></linearGradient><linearGradient id="g170" gradientUnits="userSpaceOnUse" x1="54.00" y1="0.00" x2="60.00" y2="0.00"><stop offset="0.000" stop-color="#0073f6"/><stop offset="0.167" stop-color="#0073f6"/><stop offset="0.333" stop-color="#008ef8"/><stop offset="0.500" stop-color="#008ef8"/><stop offset="0.667" stop-color="#00aafa"/><stop offset="0.833" stop-color="#00aafa"/><stop offset="1.000" stop-color="#00c5fc"/></linearGradient><linearGradient id="g171" gradientUnits="userSpaceOnUse" x1="54.00" y1="0.00" x2="60.00" y2="0.00"><stop offset="0.000" stop-color="#0073f6"/><stop offset="0.167" stop-color="#0073f6"/><stop offset="0.333" stop-color="#008ef8"/><stop offset="0.500" stop-color="#008ef8"/><stop offset="0.667" stop-color="#00aafa"/><stop offset="1.000" stop-color="#00aafa"/></linearGradient><linearGradient id="g172" gradientUnits="userSpaceOnUse" x1="54.00" y1="0.00" x2="60.00" y2="0.00"><stop offset="0.000" stop-color="#0058f4"/><stop offset="0.167" stop-color="#0073f6"/><stop offset="0.333" stop-color="#0073f6"/><stop offset="0.500" stop-color="#008ef8"/><stop offset="0.667" stop-color="#008ef8"/><stop offset="0.833" stop-color="#00aafa"/><stop offset="1.000" stop-color="#00aafa"/></linearGradient><linearGradient id="g173" gradientUnits="userSpaceOnUse" x1="0.00" y1="40.00" x2="0.00" y2="50.00"><stop offset="0.000" stop-color="#b90e2f"/><stop offset="0.400" stop-color="#b90e2f"/><stop offset="0.600" stop-color="#b80f30"/><stop offset="1.000" stop-color="#b80f30"/></linearGradient><linearGradient id="g174" gradientUnits="userSpaceOnUse" x1="0.00" y1="40.00" x2="0.00" y2="50.00"><stop offset="0.000" stop-color="#b90e2f"/><stop offset="0.200" stop-color="#b80f30"/><stop offset="0.800" stop-color="#b80f30"/><stop offset="1.000" stop-color="#b70f31"/></linearGradient><linearGradient id="g175" gradientUnits="userSpaceOnUse" x1="0.00" y1="40.00" x2="0.00" y2="50.00"><stop offset="0.000" stop-color="#b80f30"/><stop offset="0.400" stop-color="#b80f30"/><stop offset="0.600" stop-color="#b70f31"/><stop offset="1.000" stop-color="#b70f31"/></linearGradient><linearGradient id="g176" gradientUnits="userSpaceOnUse" x1="54.00" y1="0.00" x2="60.00" y2="0.00"><stop offset="0.000" stop-color="#b90e2f"/><stop offset="0.667" stop-color="#b90e2f"/><stop offset="0.833" stop-color="#b80f30"/><stop offset="1.000" stop-color="#b80f30"/></linearGradient><linearGradient id="g177" gradientUnits="userSpaceOnUse" x1="0.00" y1="20.00" x2="0.00" y2="40.00"><stop offset="0.000" stop-color="#ffbb00"/><stop offset="0.100" stop-color="#ff8000"/><stop offset="0.200" stop-color="#ff4600"/><stop offset="0.300" stop-color="#ff1e00"/><stop offset="0.400" stop-color="#f30500"/><stop offset="0.500" stop-color="#e20205"/><stop offset="0.600" stop-color="#d7040d"/><stop offset="0.700" stop-color="#d30510"/><stop offset="0.800" stop-color="#cd0716"/><stop offset="0.900" stop-color="#c7091c"/><stop offset="1.000" stop-color="#b90e2f"/></linearGradient><linearGradient id="g178" gradientUnits="userSpaceOnUse" x1="0.00" y1="20.00" x2="0.00" y2="40.00"><stop offset="0.000" stop-color="#ffa700"/><stop offset="0.100" stop-color="#ff6d00"/><stop offset="0.200" stop-color="#ff4600"/><stop offset="0.300" stop-color="#ff0b00"/><stop offset="0.400" stop-color="#ed0200"/><stop offset="0.500" stop-color="#e20205"/><stop offset="0.600" stop-color="#d7040d"/><stop offset="0.700" stop-color="#d00613"/><stop offset="0.800" stop-color="#ca0819"/><stop offset="0.900" stop-color="#c7091c"/><stop offset="1.000" stop-color="#b90e2f"/></linearGradient><linearGradient id="g179" gradientUnits="userSpaceOnUse" x1="0.00" y1="20.00" x2="0.00" y2="40.00"><stop offset="0.000" stop-color="#ff9400"/><stop offset="0.100" stop-color="#ff6d00"/><stop offset="0.200" stop-color="#ff3200"/><stop offset="0.300" stop-color="#f90700"/><stop offset="0.400" stop-color="#ed0200"/><stop offset="0.500" stop-color="#dc0309"/><stop offset="0.600" stop-color="#d7040d"/><stop offset="0.700" stop-color="#d00613"/><stop offset="0.800" stop-color="#ca0819"/><stop offset="0.900" stop-color="#c40a1f"/><stop offset="1.000" stop-color="#b80f30"/></linearGradient><linearGradient id="g180" gradientUnits="userSpaceOnUse" x1="54.00" y1="0.00" x2="60.00" y2="0.00"><stop offset="0.000" stop-color="#ffbb00"/><stop offset="0.167" stop-color="#ffbb00"/><stop offset="0.333" stop-color="#ffa700"/><stop offset="0.667" stop-color="#ffa700"/><stop offset="0.833" stop-color="#ff9400"/><stop offset="1.000" stop-color="#ff9400"/></linearGradient><linearGradient id="g181" gradientUnits="userSpaceOnUse" x1="0.00" y1="0.00" x2="0.00" y2="20.00"><stop offset="0.000" stop-color="#008ef8"/><stop offset="0.100" stop-color="#00aafa"/><stop offset="0.200" stop-color="#00e0fe"/><stop offset="0.300" stop-color="#07f5f8"/><stop offset="0.400" stop-color="#3ff2bd"/><stop offset="0.500" stop-color="#5bf1a0"/><stop offset="0.600" stop-color="#94f267"/><stop offset="0.700" stop-color="#cdf630"/><stop offset="0.800" stop-color="#eaf814"/><stop offset="0.900" stop-color="#ffe200"/><stop offset="1.000" stop-color="#ffbb00"/></linearGradient><linearGradient id="g182" gradientUnits="userSpaceOnUse" x1="0.00" y1="0.00" x2="0.00" y2="20.00"><stop offset="0.000" stop-color="#00aafa"/><stop offset="0.100" stop-color="#00c5fc"/><stop offset="0.200" stop-color="#07f5f8"/><stop offset="0.300" stop-color="#23f4db"/><stop offset="0.400" stop-color="#3ff2bd"/><stop offset="0.500" stop-color="#78f082"/><stop offset="0.600" stop-color="#94f267"/><stop offset="0.700" stop-color="#cdf630"/><stop offset="0.800" stop-color="#fff500"/><stop offset="0.900" stop-color="#ffce00"/><stop offset="1.000" stop-color="#ffa700"/></linearGradient><linearGradient id="g183" gradientUnits="userSpaceOnUse" x1="0.00" y1="0.00" x2="0.00" y2="20.00"><stop offset="0.000" stop-color="#00c5fc"/><stop offset="0.100" stop-color="#00e0fe"/><stop offset="0.200" stop-color="#07f5f8"/><stop offset="0.300" stop-color="#3ff2bd"/><stop offset="0.400" stop-color="#5bf1a0"/><stop offset="0.500" stop-color="#78f082"/><stop offset="0.600" stop-color="#b1f44b"/><stop offset="0.700" stop-color="#eaf814"/><stop offset="0.800" stop-color="#ffe200"/><stop offset="0.900" stop-color="#ffbb00"/><stop offset="1.000" stop-color="#ff9400"/></linearGradient><linearGradient id="g184" gradientUnits="userSpaceOnUse" x1="54.00" y1="0.00" x2="60.00" y2="0.00"><stop offset="0.000" stop-color="#0058f4"/><stop offset="0.167" stop-color="#0058f4"/><stop offset="0.333" stop-color="#0073f6"/><stop offset="0.500" stop-color="#0073f6"/><stop offset="0.667" stop-color="#008ef8"/><stop offset="0.833" stop-color="#008ef8"/><stop offset="1.000" stop-color="#00aafa"/></linearGradient><linearGradient id="g185" gradientUnits="userSpaceOnUse" x1="0.00" y1="40.00" x2="0.00" y2="50.00"><stop offset="0.000" stop-color="#b90e2f"/><stop offset="0.400" stop-color="#b90e2f"/><stop offset="0.600" stop-color="#b80f30"/><stop offset="1.000" stop-color="#b80f30"/></linearGradient><linearGradient id="g186" gradientUnits="userSpaceOnUse" x1="0.00" y1="40.00" x2="0.00" y2="50.00"><stop offset="0.000" stop-color="#b90e2f"/><stop offset="0.200" stop-color="#b80f30"/><stop offset="0.800" stop-color="#b80f30"/><stop offset="1.000" stop-color="#b70f31"/></linearGradient><linearGradient id="g187" gradientUnits="userSpaceOnUse" x1="0.00" y1="40.00" x2="0.00" y2="50.00"><stop offset="0.000" stop-color="#b80f30"/><stop offset="0.400" stop-color="#b80f30"/><stop offset="0.600" stop-color="#b70f31"/><stop offset="1.000" stop-color="#b70f31"/></linearGradient><linearGradient id="g188" gradientUnits="userSpaceOnUse" x1="54.00" y1="0.00" x2="60.00" y2="0.00"><stop offset="0.000" stop-color="#b90e2f"/><stop offset="0.667" stop-color="#b90e2f"/><stop offset="0.833" stop-color="#b80f30"/><stop offset="1.000" stop-color="#b80f30"/></linearGradient><linearGradient id="g189" gradientUnits="userSpaceOnUse" x1="0.00" y1="20.00" x2="0.00" y2="40.00"><stop offset="0.000" stop-color="#ffbb00"/><stop offset="0.100" stop-color="#ff8000"/><stop offset="0.200" stop-color="#ff4600"/><stop offset="0.300" stop-color="#ff1e00"/><stop offset="0.400" stop-color="#f30500"/><stop offset="0.500" stop-color="#e20205"/><stop offset="0.600" stop-color="#d7040d"/><stop offset="0.700" stop-color="#d30510"/><stop offset="0.800" stop-color="#cd0716"/><stop offset="0.900" stop-color="#c7091c"/><stop offset="1.000" stop-color="#b90e2f"/></linearGradient><linearGradient id="g190" gradientUnits="userSpaceOnUse" x1="0.00" y1="20.00" x2="0.00" y2="40.00"><stop offset="0.000" stop-color="#ffa700"/><stop offset="0.100" stop-color="#ff6d00"/><stop offset="0.200" stop-color="#ff4600"/><stop offset="0.300" stop-color="#ff0b00"/><stop offset="0.400" stop-color="#ed0200"/><stop offset="0.500" stop-color="#e20205"/><stop offset="0.600" stop-color="#d7040d"/><stop offset="0.700" stop-color="#d00613"/><stop offset="0.800" stop-color="#ca0819"/><stop offset="0.900" stop-color="#c7091c"/><stop offset="1.000" stop-color="#b90e2f"/></linearGradient><linearGradient id="g191" gradientUnits="userSpaceOnUse" x1="0.00" y1="20.00" x2="0.00" y2="40.00"><stop offset="0.000" stop-color="#ff9400"/><stop offset="0.100" stop-color="#ff6d00"/><stop offset="0.200" stop-color="#ff3200"/><stop offset="0.300" stop-color="#f90700"/><stop offset="0.400" stop-color="#ed0200"/><stop offset="0.500" stop-color="#dc0309"/><stop offset="0.600" stop-color="#d7040d"/><stop offset="0.700" stop-color="#d00613"/><stop offset="0.800" stop-color="#ca0819"/><stop offset="0.900" stop-color="#c40a1f"/><stop offset="1.000" stop-color="#b80f30"/></linearGradient><linearGradient id="g192" gradientUnits="userSpaceOnUse" x1="54.00" y1="0.00" x2="60.00" y2="0.00"><stop offset="0.000" stop-color="#ffbb00"/><stop offset="0.167" stop-color="#ffbb00"/><stop offset="0.333" stop-color="#ffa700"/><stop offset="0.667" stop-color="#ffa700"/><stop offset="0.833" stop-color="#ff9400"/><stop offset="1.000" stop-color="#ff9400"/></linearGradient><linearGradient id="g193" gradientUnits="userSpaceOnUse" x1="0.00" y1="0.00" x2="0.00" y2="20.00"><stop offset="0.000" stop-color="#008ef8"/><stop offset="0.100" stop-color="#00aafa"/><stop offset="0.200" stop-color="#00e0fe"/><stop offset="0.300" stop-color="#07f5f8"/><stop offset="0.400" stop-color="#3ff2bd"/><stop offset="0.500" stop-color="#5bf1a0"/><stop offset="0.600" stop-color="#94f267"/><stop offset="0.700" stop-color="#cdf630"/><stop offset="0.800" stop-color="#eaf814"/><stop offset="0.900" stop-color="#ffe200"/><stop offset="1.000" stop-color="#ffbb00"/></linearGradient><linearGradient id="g194" gradientUnits="userSpaceOnUse" x1="0.00" y1="0.00" x2="0.00" y2="20.00"><stop offset="0.000" stop-color="#00aafa"/><stop offset="0.100" stop-color="#00c5fc"/><stop offset="0.200" stop-color="#07f5f8"/><stop offset="0.300" stop-color="#23f4db"/><stop offset="0.400" stop-color="#3ff2bd"/><stop offset="0.500" stop-color="#78f082"/><stop offset="0.600" stop-color="#94f267"/><stop offset="0.700" stop-color="#cdf630"/><stop offset="0.800" stop-color="#fff500"/><stop offset="0.900" stop-color="#ffce00"/><stop offset="1.000" stop-color="#ffa700"/></linearGradient><linearGradient id="g195" gradientUnits="userSpaceOnUse" x1="0.00" y1="0.00" x2="0.00" y2="20.00"><stop offset="0.000" stop-color="#00c5fc"/><stop offset="0.100" stop-color="#00e0fe"/><stop offset="0.200" stop-color="#07f5f8"/><stop offset="0.300" stop-color="#3ff2bd"/><stop offset="0.400" stop-color="#5bf1a0"/><stop offset="0.500" stop-color="#78f082"/><stop offset="0.600" stop-color="#b1f44b"/><stop offset="0.700" stop-color="#eaf814"/><stop offset="0.800" stop-color="#ffe200"/><stop offset="0.900" stop-color="#ffbb00"/><stop offset="1.000" stop-color="#ff9400"/></linearGradient><linearGradient id="g196" gradientUnits="userSpaceOnUse" x1="54.00" y1="0.00" x2="60.00" y2="0.00"><stop offset="0.000" stop-color="#0058f4"/><stop offset="0.333" stop-color="#0058f4"/><stop offset="0.500" stop-color="#0073f6"/><stop offset="0.667" stop-color="#0073f6"/><stop offset="0.833" stop-color="#008ef8"/><stop offset="1.000" stop-color="#008ef8"/></linearGradient><linearGradient id="g197" gradientUnits="userSpaceOnUse" x1="0.00" y1="40.00" x2="0.00" y2="50.00"><stop offset="0.000" stop-color="#b90e2f"/><stop offset="0.400" stop-color="#b90e2f"/><stop offset="0.600" stop-color="#b80f30"/><stop offset="1.000" stop-color="#b80f30"/></linearGradient><linearGradient id="g198" gradientUnits="userSpaceOnUse" x1="0.00" y1="40.00" x2="0.00" y2="50.00"><stop offset="0.000" stop-color="#b90e2f"/><stop offset="0.200" stop-color="#b80f30"/><stop offset="0.800" stop-color="#b80f30"/><stop offset="1.000" stop-color="#b70f31"/></linearGradient><linearGradient id="g199" gradientUnits="userSpaceOnUse" x1="0.00" y1="40.00" x2="0.00" y2="50.00"><stop offset="0.000" stop-color="#b80f30"/><stop offset="0.400" stop-color="#b80f30"/><stop offset="0.600" stop-color="#b70f31"/><stop offset="1.000" stop-color="#b70f31"/></linearGradient><linearGradient id="g200" gradientUnits="userSpaceOnUse" x1="54.00" y1="0.00" x2="60.00" y2="0.00"><stop offset="0.000" stop-color="#b90e2f"/><stop offset="0.667" stop-color="#b90e2f"/><stop offset="0.833" stop-color="#b80f30"/><stop offset="1.000" stop-color="#b80f30"/></linearGradient><linearGradient id="g201" gradientUnits="userSpaceOnUse" x1="0.00" y1="20.00" x2="0.00" y2="40.00"><stop offset="0.000" stop-color="#ffbb00"/><stop offset="0.100" stop-color="#ff8000"/><stop offset="0.200" stop-color="#ff4600"/><stop offset="0.300" stop-color="#ff1e00"/><stop offset="0.400" stop-color="#f30500"/><stop offset="0.500" stop-color="#e20205"/><stop offset="0.600" stop-color="#d7040d"/><stop offset="0.700" stop-color="#d30510"/><stop offset="0.800" stop-color="#cd0716"/><stop offset="0.900" stop-color="#c7091c"/><stop offset="1.000" stop-color="#b90e2f"/></linearGradient><linearGradient id="g202" gradientUnits="userSpaceOnUse" x1="0.00" y1="20.00" x2="0.00" y2="40.00"><stop offset="0.000" stop-color="#ffa700"/><stop offset="0.100" stop-color="#ff6d00"/><stop offset="0.200" stop-color="#ff4600"/><stop offset="0.300" stop-color="#ff0b00"/><stop offset="0.400" stop-color="#ed0200"/><stop offset="0.500" stop-color="#e20205"/><stop offset="0.600" stop-color="#d7040d"/><stop offset="0.700" stop-color="#d00613"/><stop offset="0.800" stop-color="#ca0819"/><stop offset="0.900" stop-color="#c7091c"/><stop offset="1.000" stop-color="#b90e2f"/></linearGradient><linearGradient id="g203" gradientUnits="userSpaceOnUse" x1="0.00" y1="20.00" x2="0.00" y2="40.00"><stop offset="0.000" stop-color="#ff9400"/><stop offset="0.100" stop-color="#ff6d00"/><stop offset="0.200" stop-color="#ff3200"/><stop offset="0.300" stop-color="#f90700"/><stop offset="0.400" stop-color="#ed0200"/><stop offset="0.500" stop-color="#dc0309"/><stop offset="0.600" stop-color="#d7040d"/><stop offset="0.700" stop-color="#d00613"/><stop offset="0.800" stop-color="#ca0819"/><stop offset="0.900" stop-color="#c40a1f"/><stop offset="1.000" stop-color="#b80f30"/></linearGradient><linearGradient id="g204" gradientUnits="userSpaceOnUse" x1="54.00" y1="0.00" x2="60.00" y2="0.00"><stop offset="0.000" stop-color="#ffbb00"/><stop offset="0.167" stop-color="#ffbb00"/><stop offset="0.333" stop-color="#ffa700"/><stop offset="0.667" stop-color="#ffa700"/><stop offset="0.833" stop-color="#ff9400"/><stop offset="1.000" stop-color="#ff9400"/></linearGradient><linearGradient id="g205" gradientUnits="userSpaceOnUse" x1="0.00" y1="40.00" x2="0.00" y2="50.00"><stop offset="0.000" stop-color="#b90e2f"/><stop offset="0.400" stop-color="#b90e2f"/><stop offset="0.600" stop-color="#b80f30"/><stop offset="1.000" stop-color="#b80f30"/></linearGradient><linearGradient id="g206" gradientUnits="userSpaceOnUse" x1="0.00" y1="40.00" x2="0.00" y2="50.00"><stop offset="0.000" stop-color="#b90e2f"/><stop offset="0.200" stop-color="#b80f30"/><stop offset="0.800" stop-color="#b80f30"/><stop offset="1.000" stop-color="#b70f31"/></linearGradient><linearGradient id="g207" gradientUnits="userSpaceOnUse" x1="0.00" y1="40.00" x2="0.00" y2="50.00"><stop offset="0.000" stop-color="#b80f30"/><stop offset="0.400" stop-color="#b80f30"/><stop offset="0.600" stop-color="#b70f31"/><stop offset="1.000" stop-color="#b70f31"/></linearGradient><linearGradient id="g208" gradientUnits="userSpaceOnUse" x1="54.00" y1="0.00" x2="60.00" y2="0.00"><stop offset="0.000" stop-color="#b90e2f"/><stop offset="0.667" stop-color="#b90e2f"/><stop offset="0.833" stop-color="#b80f30"/><stop offset="1.000" stop-color="#b80f30"/></linearGradient></defs><line x1="792.8" y1="414.1" x2="792.8" y2="41.7" stroke="#dcdcdc" stroke-width="1.00" stroke-opacity="1.00"/><line x1="870.0" y1="442.5" x2="870.0" y2="70.1" stroke="#dcdcdc" stroke-width="1.00" stroke-opacity="1.00"/><line x1="947.3" y1="471.0" x2="947.3" y2="98.6" stroke="#dcdcdc" stroke-width="1.00" stroke-opacity="1.00"/><line x1="1024.6" y1="499.5" x2="1024.6" y2="127.1" stroke="#dcdcdc" stroke-width="1.00" stroke-opacity="1.00"/><line x1="1101.8" y1="527.9" x2="1101.8" y2="155.5" stroke="#dcdcdc" stroke-width="1.00" stroke-opacity="1.00"/><line x1="715.5" y1="332.4" x2="1179.1" y2="503.2" stroke="#dcdcdc" stroke-width="1.00" stroke-opacity="1.00"/><line x1="715.5" y1="279.2" x2="1179.1" y2="450.0" stroke="#dcdcdc" stroke-width="1.00" stroke-opacity="1.00"/><line x1="715.5" y1="226.0" x2="1179.1" y2="396.8" stroke="#dcdcdc" stroke-width="1.00" stroke-opacity="1.00"/><line x1="715.5" y1="172.8" x2="1179.1" y2="343.6" stroke="#dcdcdc" stroke-width="1.00" stroke-opacity="1.00"/><line x1="715.5" y1="119.6" x2="1179.1" y2="290.4" stroke="#dcdcdc" stroke-width="1.00" stroke-opacity="1.00"/><line x1="715.5" y1="66.4" x2="1179.1" y2="237.2" stroke="#dcdcdc" stroke-width="1.00" stroke-opacity="1.00"/><line x1="715.5" y1="13.2" x2="1179.1" y2="184.0" stroke="#262626" stroke-width="1.10" stroke-opacity="1.00"/><line x1="1179.1" y1="556.4" x2="1179.1" y2="184.0" stroke="#262626" stroke-width="1.10" stroke-opacity="1.00"/><g><g transform="matrix(12.09000 -2.61800 0.00000 -5.32000 111.000 516.500)"><rect x="0.00" y="66.00" width="20.00" height="4.00" fill="url(#g1)"/><path d="M0 66V70M1 66V70M2 66V70M3 66V70M4 66V70M5 66V70M6 66V70M7 66V70M8 66V70M9 66V70M10 66V70M11 66V70M12 66V70M13 66V70M14 66V70M15 66V70M16 66V70M17 66V70M18 66V70M19 66V70M20 66V70M0 66H20M0 67H20M0 68H20M0 69H20M0 70H20" stroke="#000" stroke-opacity="0.85" stroke-width="1.25" fill="none" vector-effect="non-scaling-stroke"/></g><g transform="matrix(12.09000 -2.61800 0.00000 -5.32000 111.000 516.500)"><rect x="20.00" y="66.00" width="20.00" height="4.00" fill="url(#g2)"/><path d="M20 66V70M21 66V70M22 66V70M23 66V70M24 66V70M25 66V70M26 66V70M27 66V70M28 66V70M29 66V70M30 66V70M31 66V70M32 66V70M33 66V70M34 66V70M35 66V70M36 66V70M37 66V70M38 66V70M39 66V70M40 66V70M20 66H40M20 67H40M20 68H40M20 69H40M20 70H40" stroke="#000" stroke-opacity="0.85" stroke-width="1.25" fill="none" vector-effect="non-scaling-stroke"/></g><g transform="matrix(12.09000 -2.61800 0.00000 -5.32000 111.000 516.500)"><rect x="40.00" y="66.00" width="10.00" height="4.00" fill="url(#g3)"/><path d="M40 66V70M41 66V70M42 66V70M43 66V70M44 66V70M45 66V70M46 66V70M47 66V70M48 66V70M49 66V70M50 66V70M40 66H50M40 67H50M40 68H50M40 69H50M40 70H50" stroke="#000" stroke-opacity="0.85" stroke-width="1.25" fill="none" vector-effect="non-scaling-stroke"/></g><g transform="matrix(7.72667 2.84667 12.09000 -2.61800 111.000 165.380)"><rect x="0.00" y="20.00" width="2.05" height="20.00" fill="url(#g4)"/><rect x="2.00" y="20.00" width="2.05" height="20.00" fill="url(#g5)"/><rect x="4.00" y="20.00" width="2.05" height="20.00" fill="url(#g6)"/><rect x="6.00" y="20.00" width="2.05" height="20.00" fill="url(#g7)"/><rect x="8.00" y="20.00" width="2.05" height="20.00" fill="url(#g8)"/><rect x="10.00" y="20.00" width="2.05" height="20.00" fill="url(#g9)"/><rect x="12.00" y="20.00" width="2.05" height="20.00" fill="url(#g10)"/><rect x="14.00" y="20.00" width="2.05" height="20.00" fill="url(#g11)"/><rect x="16.00" y="20.00" width="2.05" height="20.00" fill="url(#g12)"/><rect x="18.00" y="20.00" width="2.05" height="20.00" fill="url(#g13)"/><path d="M0 20V40M1 20V40M2 20V40M3 20V40M4 20V40M5 20V40M6 20V40M7 20V40M8 20V40M9 20V40M10 20V40M11 20V40M12 20V40M13 20V40M14 20V40M15 20V40M16 20V40M17 20V40M18 20V40M19 20V40M20 20V40M0 20H20M0 21H20M0 22H20M0 23H20M0 24H20M0 25H20M0 26H20M0 27H20M0 28H20M0 29H20M0 30H20M0 31H20M0 32H20M0 33H20M0 34H20M0 35H20M0 36H20M0 37H20M0 38H20M0 39H20M0 40H20" stroke="#000" stroke-opacity="0.85" stroke-width="1.25" fill="none" vector-effect="non-scaling-stroke"/></g><g transform="matrix(7.72667 2.84667 0.00000 -5.32000 352.800 464.140)"><rect x="0.00" y="66.00" width="20.00" height="4.00" fill="url(#g14)"/><path d="M0 66V70M1 66V70M2 66V70M3 66V70M4 66V70M5 66V70M6 66V70M7 66V70M8 66V70M9 66V70M10 66V70M11 66V70M12 66V70M13 66V70M14 66V70M15 66V70M16 66V70M17 66V70M18 66V70M19 66V70M20 66V70M0 66H20M0 67H20M0 68H20M0 69H20M0 70H20" stroke="#000" stroke-opacity="0.85" stroke-width="1.25" fill="none" vector-effect="non-scaling-stroke"/></g><g transform="matrix(7.72667 2.84667 12.09000 -2.61800 111.000 165.380)"><rect x="0.00" y="0.00" width="2.05" height="20.00" fill="url(#g15)"/><rect x="2.00" y="0.00" width="2.05" height="20.00" fill="url(#g16)"/><rect x="4.00" y="0.00" width="2.05" height="20.00" fill="url(#g17)"/><rect x="6.00" y="0.00" width="2.05" height="20.00" fill="url(#g18)"/><rect x="8.00" y="0.00" width="2.05" height="20.00" fill="url(#g19)"/><rect x="10.00" y="0.00" width="2.05" height="20.00" fill="url(#g20)"/><rect x="12.00" y="0.00" width="2.05" height="20.00" fill="url(#g21)"/><rect x="14.00" y="0.00" width="2.05" height="20.00" fill="url(#g22)"/><rect x="16.00" y="0.00" width="2.05" height="20.00" fill="url(#g23)"/><rect x="18.00" y="0.00" width="2.05" height="20.00" fill="url(#g24)"/><path d="M0 0V20M1 0V20M2 0V20M3 0V20M4 0V20M5 0V20M6 0V20M7 0V20M8 0V20M9 0V20M10 0V20M11 0V20M12 0V20M13 0V20M14 0V20M15 0V20M16 0V20M17 0V20M18 0V20M19 0V20M20 0V20M0 0H20M0 1H20M0 2H20M0 3H20M0 4H20M0 5H20M0 6H20M0 7H20M0 8H20M0 9H20M0 10H20M0 11H20M0 12H20M0 13H20M0 14H20M0 15H20M0 16H20M0 17H20M0 18H20M0 19H20M0 20H20" stroke="#000" stroke-opacity="0.85" stroke-width="1.25" fill="none" vector-effect="non-scaling-stroke"/></g><g transform="matrix(12.09000 -2.61800 0.00000 -5.32000 265.533 573.433)"><rect x="0.00" y="66.00" width="20.00" height="4.00" fill="url(#g25)"/><path d="M0 66V70M1 66V70M2 66V70M3 66V70M4 66V70M5 66V70M6 66V70M7 66V70M8 66V70M9 66V70M10 66V70M11 66V70M12 66V70M13 66V70M14 66V70M15 66V70M16 66V70M17 66V70M18 66V70M19 66V70M20 66V70M0 66H20M0 67H20M0 68H20M0 69H20M0 70H20" stroke="#000" stroke-opacity="0.85" stroke-width="1.25" fill="none" vector-effect="non-scaling-stroke"/></g><g transform="matrix(7.72667 2.84667 12.09000 -2.61800 111.000 165.380)"><rect x="0.00" y="40.00" width="2.05" height="10.00" fill="url(#g26)"/><rect x="2.00" y="40.00" width="2.05" height="10.00" fill="url(#g27)"/><rect x="4.00" y="40.00" width="2.05" height="10.00" fill="url(#g28)"/><rect x="6.00" y="40.00" width="2.05" height="10.00" fill="url(#g29)"/><rect x="8.00" y="40.00" width="2.05" height="10.00" fill="url(#g30)"/><rect x="10.00" y="40.00" width="2.05" height="10.00" fill="url(#g31)"/><rect x="12.00" y="40.00" width="2.05" height="10.00" fill="url(#g32)"/><rect x="14.00" y="40.00" width="2.05" height="10.00" fill="url(#g33)"/><rect x="16.00" y="40.00" width="2.05" height="10.00" fill="url(#g34)"/><rect x="18.00" y="40.00" width="2.05" height="10.00" fill="url(#g35)"/><path d="M0 40V50M1 40V50M2 40V50M3 40V50M4 40V50M5 40V50M6 40V50M7 40V50M8 40V50M9 40V50M10 40V50M11 40V50M12 40V50M13 40V50M14 40V50M15 40V50M16 40V50M17 40V50M18 40V50M19 40V50M20 40V50M0 40H20M0 41H20M0 42H20M0 43H20M0 44H20M0 45H20M0 46H20M0 47H20M0 48H20M0 49H20M0 50H20" stroke="#000" stroke-opacity="0.85" stroke-width="1.25" fill="none" vector-effect="non-scaling-stroke"/></g><g transform="matrix(7.72667 2.84667 0.00000 -5.32000 594.600 411.780)"><rect x="0.00" y="66.00" width="20.00" height="4.00" fill="url(#g36)"/><path d="M0 66V70M1 66V70M2 66V70M3 66V70M4 66V70M5 66V70M6 66V70M7 66V70M8 66V70M9 66V70M10 66V70M11 66V70M12 66V70M13 66V70M14 66V70M15 66V70M16 66V70M17 66V70M18 66V70M19 66V70M20 66V70M0 66H20M0 67H20M0 68H20M0 69H20M0 70H20" stroke="#000" stroke-opacity="0.85" stroke-width="1.25" fill="none" vector-effect="non-scaling-stroke"/></g><g transform="matrix(12.09000 -2.61800 0.00000 -5.32000 265.533 573.433)"><rect x="20.00" y="66.00" width="20.00" height="4.00" fill="url(#g37)"/><path d="M20 66V70M21 66V70M22 66V70M23 66V70M24 66V70M25 66V70M26 66V70M27 66V70M28 66V70M29 66V70M30 66V70M31 66V70M32 66V70M33 66V70M34 66V70M35 66V70M36 66V70M37 66V70M38 66V70M39 66V70M40 66V70M20 66H40M20 67H40M20 68H40M20 69H40M20 70H40" stroke="#000" stroke-opacity="0.85" stroke-width="1.25" fill="none" vector-effect="non-scaling-stroke"/></g><g transform="matrix(12.09000 -2.61800 0.00000 -5.32000 265.533 573.433)"><rect x="40.00" y="66.00" width="10.00" height="4.00" fill="url(#g38)"/><path d="M40 66V70M41 66V70M42 66V70M43 66V70M44 66V70M45 66V70M46 66V70M47 66V70M48 66V70M49 66V70M50 66V70M40 66H50M40 67H50M40 68H50M40 69H50M40 70H50" stroke="#000" stroke-opacity="0.85" stroke-width="1.25" fill="none" vector-effect="non-scaling-stroke"/></g><g transform="matrix(7.72667 2.84667 12.09000 -2.61800 111.000 165.380)"><rect x="20.00" y="0.00" width="2.05" height="20.00" fill="url(#g39)"/><rect x="22.00" y="0.00" width="2.05" height="20.00" fill="url(#g40)"/><rect x="24.00" y="0.00" width="2.05" height="20.00" fill="url(#g41)"/><rect x="26.00" y="0.00" width="2.05" height="20.00" fill="url(#g42)"/><rect x="28.00" y="0.00" width="2.05" height="20.00" fill="url(#g43)"/><rect x="30.00" y="0.00" width="2.05" height="20.00" fill="url(#g44)"/><rect x="32.00" y="0.00" width="2.05" height="20.00" fill="url(#g45)"/><rect x="34.00" y="0.00" width="2.05" height="20.00" fill="url(#g46)"/><rect x="36.00" y="0.00" width="2.05" height="20.00" fill="url(#g47)"/><rect x="38.00" y="0.00" width="2.05" height="20.00" fill="url(#g48)"/><path d="M20 0V20M21 0V20M22 0V20M23 0V20M24 0V20M25 0V20M26 0V20M27 0V20M28 0V20M29 0V20M30 0V20M31 0V20M32 0V20M33 0V20M34 0V20M35 0V20M36 0V20M37 0V20M38 0V20M39 0V20M40 0V20M20 0H40M20 1H40M20 2H40M20 3H40M20 4H40M20 5H40M20 6H40M20 7H40M20 8H40M20 9H40M20 10H40M20 11H40M20 12H40M20 13H40M20 14H40M20 15H40M20 16H40M20 17H40M20 18H40M20 19H40M20 20H40" stroke="#000" stroke-opacity="0.85" stroke-width="1.25" fill="none" vector-effect="non-scaling-stroke"/></g><g transform="matrix(7.72667 2.84667 12.09000 -2.61800 111.000 165.380)"><rect x="20.00" y="20.00" width="2.05" height="20.00" fill="url(#g49)"/><rect x="22.00" y="20.00" width="2.05" height="20.00" fill="url(#g50)"/><rect x="24.00" y="20.00" width="2.05" height="20.00" fill="url(#g51)"/><rect x="26.00" y="20.00" width="2.05" height="20.00" fill="url(#g52)"/><rect x="28.00" y="20.00" width="2.05" height="20.00" fill="url(#g53)"/><rect x="30.00" y="20.00" width="2.05" height="20.00" fill="url(#g54)"/><rect x="32.00" y="20.00" width="2.05" height="20.00" fill="url(#g55)"/><rect x="34.00" y="20.00" width="2.05" height="20.00" fill="url(#g56)"/><rect x="36.00" y="20.00" width="2.05" height="20.00" fill="url(#g57)"/><rect x="38.00" y="20.00" width="2.05" height="20.00" fill="url(#g58)"/><path d="M20 20V40M21 20V40M22 20V40M23 20V40M24 20V40M25 20V40M26 20V40M27 20V40M28 20V40M29 20V40M30 20V40M31 20V40M32 20V40M33 20V40M34 20V40M35 20V40M36 20V40M37 20V40M38 20V40M39 20V40M40 20V40M20 20H40M20 21H40M20 22H40M20 23H40M20 24H40M20 25H40M20 26H40M20 27H40M20 28H40M20 29H40M20 30H40M20 31H40M20 32H40M20 33H40M20 34H40M20 35H40M20 36H40M20 37H40M20 38H40M20 39H40M20 40H40" stroke="#000" stroke-opacity="0.85" stroke-width="1.25" fill="none" vector-effect="non-scaling-stroke"/></g><g transform="matrix(7.72667 2.84667 0.00000 -5.32000 352.800 464.140)"><rect x="20.00" y="66.00" width="20.00" height="4.00" fill="url(#g59)"/><path d="M20 66V70M21 66V70M22 66V70M23 66V70M24 66V70M25 66V70M26 66V70M27 66V70M28 66V70M29 66V70M30 66V70M31 66V70M32 66V70M33 66V70M34 66V70M35 66V70M36 66V70M37 66V70M38 66V70M39 66V70M40 66V70M20 66H40M20 67H40M20 68H40M20 69H40M20 70H40" stroke="#000" stroke-opacity="0.85" stroke-width="1.25" fill="none" vector-effect="non-scaling-stroke"/></g><g transform="matrix(12.09000 -2.61800 0.00000 -5.32000 420.067 630.367)"><rect x="0.00" y="66.00" width="20.00" height="4.00" fill="url(#g60)"/><path d="M0 66V70M1 66V70M2 66V70M3 66V70M4 66V70M5 66V70M6 66V70M7 66V70M8 66V70M9 66V70M10 66V70M11 66V70M12 66V70M13 66V70M14 66V70M15 66V70M16 66V70M17 66V70M18 66V70M19 66V70M20 66V70M0 66H20M0 67H20M0 68H20M0 69H20M0 70H20" stroke="#000" stroke-opacity="0.85" stroke-width="1.25" fill="none" vector-effect="non-scaling-stroke"/></g><g transform="matrix(7.72667 2.84667 12.09000 -2.61800 111.000 165.380)"><rect x="20.00" y="40.00" width="2.05" height="10.00" fill="url(#g61)"/><rect x="22.00" y="40.00" width="2.05" height="10.00" fill="url(#g62)"/><rect x="24.00" y="40.00" width="2.05" height="10.00" fill="url(#g63)"/><rect x="26.00" y="40.00" width="2.05" height="10.00" fill="url(#g64)"/><rect x="28.00" y="40.00" width="2.05" height="10.00" fill="url(#g65)"/><rect x="30.00" y="40.00" width="2.05" height="10.00" fill="url(#g66)"/><rect x="32.00" y="40.00" width="2.05" height="10.00" fill="url(#g67)"/><rect x="34.00" y="40.00" width="2.05" height="10.00" fill="url(#g68)"/><rect x="36.00" y="40.00" width="2.05" height="10.00" fill="url(#g69)"/><rect x="38.00" y="40.00" width="2.05" height="10.00" fill="url(#g70)"/><path d="M20 40V50M21 40V50M22 40V50M23 40V50M24 40V50M25 40V50M26 40V50M27 40V50M28 40V50M29 40V50M30 40V50M31 40V50M32 40V50M33 40V50M34 40V50M35 40V50M36 40V50M37 40V50M38 40V50M39 40V50M40 40V50M20 40H40M20 41H40M20 42H40M20 43H40M20 44H40M20 45H40M20 46H40M20 47H40M20 48H40M20 49H40M20 50H40" stroke="#000" stroke-opacity="0.85" stroke-width="1.25" fill="none" vector-effect="non-scaling-stroke"/></g><g transform="matrix(7.72667 2.84667 0.00000 -5.32000 594.600 411.780)"><rect x="20.00" y="66.00" width="20.00" height="4.00" fill="url(#g71)"/><path d="M20 66V70M21 66V70M22 66V70M23 66V70M24 66V70M25 66V70M26 66V70M27 66V70M28 66V70M29 66V70M30 66V70M31 66V70M32 66V70M33 66V70M34 66V70M35 66V70M36 66V70M37 66V70M38 66V70M39 66V70M40 66V70M20 66H40M20 67H40M20 68H40M20 69H40M20 70H40" stroke="#000" stroke-opacity="0.85" stroke-width="1.25" fill="none" vector-effect="non-scaling-stroke"/></g><g transform="matrix(12.09000 -2.61800 0.00000 -5.32000 420.067 630.367)"><rect x="20.00" y="66.00" width="20.00" height="4.00" fill="url(#g72)"/><path d="M20 66V70M21 66V70M22 66V70M23 66V70M24 66V70M25 66V70M26 66V70M27 66V70M28 66V70M29 66V70M30 66V70M31 66V70M32 66V70M33 66V70M34 66V70M35 66V70M36 66V70M37 66V70M38 66V70M39 66V70M40 66V70M20 66H40M20 67H40M20 68H40M20 69H40M20 70H40" stroke="#000" stroke-opacity="0.85" stroke-width="1.25" fill="none" vector-effect="non-scaling-stroke"/></g><g transform="matrix(12.09000 -2.61800 0.00000 -5.32000 420.067 630.367)"><rect x="40.00" y="66.00" width="10.00" height="4.00" fill="url(#g73)"/><path d="M40 66V70M41 66V70M42 66V70M43 66V70M44 66V70M45 66V70M46 66V70M47 66V70M48 66V70M49 66V70M50 66V70M40 66H50M40 67H50M40 68H50M40 69H50M40 70H50" stroke="#000" stroke-opacity="0.85" stroke-width="1.25" fill="none" vector-effect="non-scaling-stroke"/></g><g transform="matrix(12.09000 -2.61800 0.00000 -5.32000 528.240 670.220)"><rect x="0.00" y="0.00" width="20.00" height="40.00" fill="url(#g74)"/><path d="M0 0V40M1 0V40M2 0V40M3 0V40M4 0V40M5 0V40M6 0V40M7 0V40M8 0V40M9 0V40M10 0V40M11 0V40M12 0V40M13 0V40M14 0V40M15 0V40M16 0V40M17 0V40M18 0V40M19 0V40M20 0V40M0 0H20M0 1H20M0 2H20M0 3H20M0 4H20M0 5H20M0 6H20M0 7H20M0 8H20M0 9H20M0 10H20M0 11H20M0 12H20M0 13H20M0 14H20M0 15H20M0 16H20M0 17H20M0 18H20M0 19H20M0 20H20M0 21H20M0 22H20M0 23H20M0 24H20M0 25H20M0 26H20M0 27H20M0 28H20M0 29H20M0 30H20M0 31H20M0 32H20M0 33H20M0 34H20M0 35H20M0 36H20M0 37H20M0 38H20M0 39H20M0 40H20" stroke="#000" stroke-opacity="0.85" stroke-width="1.25" fill="none" vector-effect="non-scaling-stroke"/></g><g transform="matrix(12.09000 -2.61800 0.00000 -5.32000 528.240 670.220)"><rect x="0.00" y="40.00" width="20.00" height="20.00" fill="url(#g75)"/><path d="M0 40V60M1 40V60M2 40V60M3 40V60M4 40V60M5 40V60M6 40V60M7 40V60M8 40V60M9 40V60M10 40V60M11 40V60M12 40V60M13 40V60M14 40V60M15 40V60M16 40V60M17 40V60M18 40V60M19 40V60M20 40V60M0 40H20M0 41H20M0 42H20M0 43H20M0 44H20M0 45H20M0 46H20M0 47H20M0 48H20M0 49H20M0 50H20M0 51H20M0 52H20M0 53H20M0 54H20M0 55H20M0 56H20M0 57H20M0 58H20M0 59H20M0 60H20" stroke="#000" stroke-opacity="0.85" stroke-width="1.25" fill="none" vector-effect="non-scaling-stroke"/></g><g transform="matrix(12.09000 -2.61800 0.00000 -5.32000 528.240 670.220)"><rect x="0.00" y="60.00" width="20.00" height="6.00" fill="url(#g76)"/><path d="M0 60V66M1 60V66M2 60V66M3 60V66M4 60V66M5 60V66M6 60V66M7 60V66M8 60V66M9 60V66M10 60V66M11 60V66M12 60V66M13 60V66M14 60V66M15 60V66M16 60V66M17 60V66M18 60V66M19 60V66M20 60V66M0 60H20M0 61H20M0 62H20M0 63H20M0 64H20M0 65H20M0 66H20" stroke="#000" stroke-opacity="0.85" stroke-width="1.25" fill="none" vector-effect="non-scaling-stroke"/></g><g transform="matrix(7.72667 2.84667 12.09000 -2.61800 111.000 165.380)"><rect x="40.00" y="0.00" width="2.05" height="20.00" fill="url(#g77)"/><rect x="42.00" y="0.00" width="2.05" height="20.00" fill="url(#g78)"/><rect x="44.00" y="0.00" width="2.05" height="20.00" fill="url(#g79)"/><rect x="46.00" y="0.00" width="2.05" height="20.00" fill="url(#g80)"/><rect x="48.00" y="0.00" width="2.05" height="20.00" fill="url(#g81)"/><rect x="50.00" y="0.00" width="2.05" height="20.00" fill="url(#g82)"/><rect x="52.00" y="0.00" width="2.05" height="20.00" fill="url(#g83)"/><path d="M40 0V20M41 0V20M42 0V20M43 0V20M44 0V20M45 0V20M46 0V20M47 0V20M48 0V20M49 0V20M50 0V20M51 0V20M52 0V20M53 0V20M54 0V20M40 0H54M40 1H54M40 2H54M40 3H54M40 4H54M40 5H54M40 6H54M40 7H54M40 8H54M40 9H54M40 10H54M40 11H54M40 12H54M40 13H54M40 14H54M40 15H54M40 16H54M40 17H54M40 18H54M40 19H54M40 20H54" stroke="#000" stroke-opacity="0.85" stroke-width="1.25" fill="none" vector-effect="non-scaling-stroke"/></g><g transform="matrix(7.72667 2.84667 12.09000 -2.61800 111.000 165.380)"><rect x="40.00" y="20.00" width="2.05" height="20.00" fill="url(#g84)"/><rect x="42.00" y="20.00" width="2.05" height="20.00" fill="url(#g85)"/><rect x="44.00" y="20.00" width="2.05" height="20.00" fill="url(#g86)"/><rect x="46.00" y="20.00" width="2.05" height="20.00" fill="url(#g87)"/><rect x="48.00" y="20.00" width="2.05" height="20.00" fill="url(#g88)"/><rect x="50.00" y="20.00" width="2.05" height="20.00" fill="url(#g89)"/><rect x="52.00" y="20.00" width="2.05" height="20.00" fill="url(#g90)"/><path d="M40 20V40M41 20V40M42 20V40M43 20V40M44 20V40M45 20V40M46 20V40M47 20V40M48 20V40M49 20V40M50 20V40M51 20V40M52 20V40M53 20V40M54 20V40M40 20H54M40 21H54M40 22H54M40 23H54M40 24H54M40 25H54M40 26H54M40 27H54M40 28H54M40 29H54M40 30H54M40 31H54M40 32H54M40 33H54M40 34H54M40 35H54M40 36H54M40 37H54M40 38H54M40 39H54M40 40H54" stroke="#000" stroke-opacity="0.85" stroke-width="1.25" fill="none" vector-effect="non-scaling-stroke"/></g><g transform="matrix(7.72667 2.84667 0.00000 -5.32000 352.800 464.140)"><rect x="40.00" y="66.00" width="14.00" height="4.00" fill="url(#g91)"/><path d="M40 66V70M41 66V70M42 66V70M43 66V70M44 66V70M45 66V70M46 66V70M47 66V70M48 66V70M49 66V70M50 66V70M51 66V70M52 66V70M53 66V70M54 66V70M40 66H54M40 67H54M40 68H54M40 69H54M40 70H54" stroke="#000" stroke-opacity="0.85" stroke-width="1.25" fill="none" vector-effect="non-scaling-stroke"/></g><g transform="matrix(12.09000 -2.61800 0.00000 -5.32000 528.240 670.220)"><rect x="0.00" y="66.00" width="20.00" height="4.00" fill="url(#g92)"/><path d="M0 66V70M1 66V70M2 66V70M3 66V70M4 66V70M5 66V70M6 66V70M7 66V70M8 66V70M9 66V70M10 66V70M11 66V70M12 66V70M13 66V70M14 66V70M15 66V70M16 66V70M17 66V70M18 66V70M19 66V70M20 66V70M0 66H20M0 67H20M0 68H20M0 69H20M0 70H20" stroke="#000" stroke-opacity="0.85" stroke-width="1.25" fill="none" vector-effect="non-scaling-stroke"/></g><g transform="matrix(12.09000 -2.61800 0.00000 -5.32000 528.240 670.220)"><rect x="20.00" y="0.00" width="20.00" height="40.00" fill="url(#g93)"/><path d="M20 0V40M21 0V40M22 0V40M23 0V40M24 0V40M25 0V40M26 0V40M27 0V40M28 0V40M29 0V40M30 0V40M31 0V40M32 0V40M33 0V40M34 0V40M35 0V40M36 0V40M37 0V40M38 0V40M39 0V40M40 0V40M20 0H40M20 1H40M20 2H40M20 3H40M20 4H40M20 5H40M20 6H40M20 7H40M20 8H40M20 9H40M20 10H40M20 11H40M20 12H40M20 13H40M20 14H40M20 15H40M20 16H40M20 17H40M20 18H40M20 19H40M20 20H40M20 21H40M20 22H40M20 23H40M20 24H40M20 25H40M20 26H40M20 27H40M20 28H40M20 29H40M20 30H40M20 31H40M20 32H40M20 33H40M20 34H40M20 35H40M20 36H40M20 37H40M20 38H40M20 39H40M20 40H40" stroke="#000" stroke-opacity="0.85" stroke-width="1.25" fill="none" vector-effect="non-scaling-stroke"/></g><g transform="matrix(12.09000 -2.61800 0.00000 -5.32000 528.240 670.220)"><rect x="20.00" y="40.00" width="20.00" height="20.00" fill="url(#g94)"/><path d="M20 40V60M21 40V60M22 40V60M23 40V60M24 40V60M25 40V60M26 40V60M27 40V60M28 40V60M29 40V60M30 40V60M31 40V60M32 40V60M33 40V60M34 40V60M35 40V60M36 40V60M37 40V60M38 40V60M39 40V60M40 40V60M20 40H40M20 41H40M20 42H40M20 43H40M20 44H40M20 45H40M20 46H40M20 47H40M20 48H40M20 49H40M20 50H40M20 51H40M20 52H40M20 53H40M20 54H40M20 55H40M20 56H40M20 57H40M20 58H40M20 59H40M20 60H40" stroke="#000" stroke-opacity="0.85" stroke-width="1.25" fill="none" vector-effect="non-scaling-stroke"/></g><g transform="matrix(12.09000 -2.61800 0.00000 -5.32000 528.240 670.220)"><rect x="20.00" y="60.00" width="20.00" height="6.00" fill="url(#g95)"/><path d="M20 60V66M21 60V66M22 60V66M23 60V66M24 60V66M25 60V66M26 60V66M27 60V66M28 60V66M29 60V66M30 60V66M31 60V66M32 60V66M33 60V66M34 60V66M35 60V66M36 60V66M37 60V66M38 60V66M39 60V66M40 60V66M20 60H40M20 61H40M20 62H40M20 63H40M20 64H40M20 65H40M20 66H40" stroke="#000" stroke-opacity="0.85" stroke-width="1.25" fill="none" vector-effect="non-scaling-stroke"/></g><g transform="matrix(7.72667 2.84667 12.09000 -2.61800 111.000 165.380)"><rect x="40.00" y="40.00" width="2.05" height="10.00" fill="url(#g96)"/><rect x="42.00" y="40.00" width="2.05" height="10.00" fill="url(#g97)"/><rect x="44.00" y="40.00" width="2.05" height="10.00" fill="url(#g98)"/><rect x="46.00" y="40.00" width="2.05" height="10.00" fill="url(#g99)"/><rect x="48.00" y="40.00" width="2.05" height="10.00" fill="url(#g100)"/><rect x="50.00" y="40.00" width="2.05" height="10.00" fill="url(#g101)"/><rect x="52.00" y="40.00" width="2.05" height="10.00" fill="url(#g102)"/><path d="M40 40V50M41 40V50M42 40V50M43 40V50M44 40V50M45 40V50M46 40V50M47 40V50M48 40V50M49 40V50M50 40V50M51 40V50M52 40V50M53 40V50M54 40V50M40 40H54M40 41H54M40 42H54M40 43H54M40 44H54M40 45H54M40 46H54M40 47H54M40 48H54M40 49H54M40 50H54" stroke="#000" stroke-opacity="0.85" stroke-width="1.25" fill="none" vector-effect="non-scaling-stroke"/></g><g transform="matrix(7.72667 2.84667 0.00000 -5.32000 594.600 411.780)"><rect x="40.00" y="66.00" width="14.00" height="4.00" fill="url(#g103)"/><path d="M40 66V70M41 66V70M42 66V70M43 66V70M44 66V70M45 66V70M46 66V70M47 66V70M48 66V70M49 66V70M50 66V70M51 66V70M52 66V70M53 66V70M54 66V70M40 66H54M40 67H54M40 68H54M40 69H54M40 70H54" stroke="#000" stroke-opacity="0.85" stroke-width="1.25" fill="none" vector-effect="non-scaling-stroke"/></g><g transform="matrix(12.09000 -2.61800 0.00000 -5.32000 528.240 670.220)"><rect x="20.00" y="66.00" width="20.00" height="4.00" fill="url(#g104)"/><path d="M20 66V70M21 66V70M22 66V70M23 66V70M24 66V70M25 66V70M26 66V70M27 66V70M28 66V70M29 66V70M30 66V70M31 66V70M32 66V70M33 66V70M34 66V70M35 66V70M36 66V70M37 66V70M38 66V70M39 66V70M40 66V70M20 66H40M20 67H40M20 68H40M20 69H40M20 70H40" stroke="#000" stroke-opacity="0.85" stroke-width="1.25" fill="none" vector-effect="non-scaling-stroke"/></g><g transform="matrix(12.09000 -2.61800 0.00000 -5.32000 528.240 670.220)"><rect x="40.00" y="0.00" width="10.00" height="40.00" fill="url(#g105)"/><path d="M40 0V40M41 0V40M42 0V40M43 0V40M44 0V40M45 0V40M46 0V40M47 0V40M48 0V40M49 0V40M50 0V40M40 0H50M40 1H50M40 2H50M40 3H50M40 4H50M40 5H50M40 6H50M40 7H50M40 8H50M40 9H50M40 10H50M40 11H50M40 12H50M40 13H50M40 14H50M40 15H50M40 16H50M40 17H50M40 18H50M40 19H50M40 20H50M40 21H50M40 22H50M40 23H50M40 24H50M40 25H50M40 26H50M40 27H50M40 28H50M40 29H50M40 30H50M40 31H50M40 32H50M40 33H50M40 34H50M40 35H50M40 36H50M40 37H50M40 38H50M40 39H50M40 40H50" stroke="#000" stroke-opacity="0.85" stroke-width="1.25" fill="none" vector-effect="non-scaling-stroke"/></g><g transform="matrix(12.09000 -2.61800 0.00000 -5.32000 528.240 670.220)"><rect x="40.00" y="40.00" width="10.00" height="20.00" fill="url(#g106)"/><path d="M40 40V60M41 40V60M42 40V60M43 40V60M44 40V60M45 40V60M46 40V60M47 40V60M48 40V60M49 40V60M50 40V60M40 40H50M40 41H50M40 42H50M40 43H50M40 44H50M40 45H50M40 46H50M40 47H50M40 48H50M40 49H50M40 50H50M40 51H50M40 52H50M40 53H50M40 54H50M40 55H50M40 56H50M40 57H50M40 58H50M40 59H50M40 60H50" stroke="#000" stroke-opacity="0.85" stroke-width="1.25" fill="none" vector-effect="non-scaling-stroke"/></g><g transform="matrix(12.09000 -2.61800 0.00000 -5.32000 528.240 670.220)"><rect x="40.00" y="60.00" width="10.00" height="6.00" fill="url(#g107)"/><path d="M40 60V66M41 60V66M42 60V66M43 60V66M44 60V66M45 60V66M46 60V66M47 60V66M48 60V66M49 60V66M50 60V66M40 60H50M40 61H50M40 62H50M40 63H50M40 64H50M40 65H50M40 66H50" stroke="#000" stroke-opacity="0.85" stroke-width="1.25" fill="none" vector-effect="non-scaling-stroke"/></g><g transform="matrix(12.09000 -2.61800 0.00000 -5.32000 528.240 670.220)"><rect x="40.00" y="66.00" width="10.00" height="4.00" fill="url(#g108)"/><path d="M40 66V70M41 66V70M42 66V70M43 66V70M44 66V70M45 66V70M46 66V70M47 66V70M48 66V70M49 66V70M50 66V70M40 66H50M40 67H50M40 68H50M40 69H50M40 70H50" stroke="#000" stroke-opacity="0.85" stroke-width="1.25" fill="none" vector-effect="non-scaling-stroke"/></g><g transform="matrix(7.72667 2.84667 0.00000 -5.32000 111.000 516.500)"><rect x="0.00" y="0.00" width="20.00" height="5.05" fill="url(#g109)"/><rect x="0.00" y="5.00" width="20.00" height="5.05" fill="url(#g110)"/><rect x="0.00" y="10.00" width="20.00" height="5.05" fill="url(#g111)"/><rect x="0.00" y="15.00" width="20.00" height="5.05" fill="url(#g112)"/><rect x="0.00" y="20.00" width="20.00" height="5.05" fill="url(#g113)"/><rect x="0.00" y="25.00" width="20.00" height="5.05" fill="url(#g114)"/><rect x="0.00" y="30.00" width="20.00" height="5.05" fill="url(#g115)"/><rect x="0.00" y="35.00" width="20.00" height="5.05" fill="url(#g116)"/><path d="M0 0V40M1 0V40M2 0V40M3 0V40M4 0V40M5 0V40M6 0V40M7 0V40M8 0V40M9 0V40M10 0V40M11 0V40M12 0V40M13 0V40M14 0V40M15 0V40M16 0V40M17 0V40M18 0V40M19 0V40M20 0V40M0 0H20M0 1H20M0 2H20M0 3H20M0 4H20M0 5H20M0 6H20M0 7H20M0 8H20M0 9H20M0 10H20M0 11H20M0 12H20M0 13H20M0 14H20M0 15H20M0 16H20M0 17H20M0 18H20M0 19H20M0 20H20M0 21H20M0 22H20M0 23H20M0 24H20M0 25H20M0 26H20M0 27H20M0 28H20M0 29H20M0 30H20M0 31H20M0 32H20M0 33H20M0 34H20M0 35H20M0 36H20M0 37H20M0 38H20M0 39H20M0 40H20" stroke="#000" stroke-opacity="0.85" stroke-width="1.25" fill="none" vector-effect="non-scaling-stroke"/></g><g transform="matrix(7.72667 2.84667 0.00000 -5.32000 111.000 516.500)"><rect x="0.00" y="40.00" width="20.00" height="5.05" fill="url(#g117)"/><rect x="0.00" y="45.00" width="20.00" height="5.05" fill="url(#g118)"/><rect x="0.00" y="50.00" width="20.00" height="5.05" fill="url(#g119)"/><rect x="0.00" y="55.00" width="20.00" height="5.05" fill="url(#g120)"/><path d="M0 40V60M1 40V60M2 40V60M3 40V60M4 40V60M5 40V60M6 40V60M7 40V60M8 40V60M9 40V60M10 40V60M11 40V60M12 40V60M13 40V60M14 40V60M15 40V60M16 40V60M17 40V60M18 40V60M19 40V60M20 40V60M0 40H20M0 41H20M0 42H20M0 43H20M0 44H20M0 45H20M0 46H20M0 47H20M0 48H20M0 49H20M0 50H20M0 51H20M0 52H20M0 53H20M0 54H20M0 55H20M0 56H20M0 57H20M0 58H20M0 59H20M0 60H20" stroke="#000" stroke-opacity="0.85" stroke-width="1.25" fill="none" vector-effect="non-scaling-stroke"/></g><g transform="matrix(7.72667 2.84667 0.00000 -5.32000 111.000 516.500)"><rect x="0.00" y="60.00" width="20.00" height="6.05" fill="url(#g121)"/><path d="M0 60V66M1 60V66M2 60V66M3 60V66M4 60V66M5 60V66M6 60V66M7 60V66M8 60V66M9 60V66M10 60V66M11 60V66M12 60V66M13 60V66M14 60V66M15 60V66M16 60V66M17 60V66M18 60V66M19 60V66M20 60V66M0 60H20M0 61H20M0 62H20M0 63H20M0 64H20M0 65H20M0 66H20" stroke="#000" stroke-opacity="0.85" stroke-width="1.25" fill="none" vector-effect="non-scaling-stroke"/></g><g transform="matrix(7.72667 2.84667 0.00000 -5.32000 111.000 516.500)"><rect x="0.00" y="66.00" width="20.00" height="4.05" fill="url(#g122)"/><path d="M0 66V70M1 66V70M2 66V70M3 66V70M4 66V70M5 66V70M6 66V70M7 66V70M8 66V70M9 66V70M10 66V70M11 66V70M12 66V70M13 66V70M14 66V70M15 66V70M16 66V70M17 66V70M18 66V70M19 66V70M20 66V70M0 66H20M0 67H20M0 68H20M0 69H20M0 70H20" stroke="#000" stroke-opacity="0.85" stroke-width="1.25" fill="none" vector-effect="non-scaling-stroke"/></g><g transform="matrix(7.72667 2.84667 0.00000 -5.32000 111.000 516.500)"><rect x="20.00" y="0.00" width="20.00" height="5.05" fill="url(#g123)"/><rect x="20.00" y="5.00" width="20.00" height="5.05" fill="url(#g124)"/><rect x="20.00" y="10.00" width="20.00" height="5.05" fill="url(#g125)"/><rect x="20.00" y="15.00" width="20.00" height="5.05" fill="url(#g126)"/><rect x="20.00" y="20.00" width="20.00" height="5.05" fill="url(#g127)"/><rect x="20.00" y="25.00" width="20.00" height="5.05" fill="url(#g128)"/><rect x="20.00" y="30.00" width="20.00" height="5.05" fill="url(#g129)"/><rect x="20.00" y="35.00" width="20.00" height="5.05" fill="url(#g130)"/><path d="M20 0V40M21 0V40M22 0V40M23 0V40M24 0V40M25 0V40M26 0V40M27 0V40M28 0V40M29 0V40M30 0V40M31 0V40M32 0V40M33 0V40M34 0V40M35 0V40M36 0V40M37 0V40M38 0V40M39 0V40M40 0V40M20 0H40M20 1H40M20 2H40M20 3H40M20 4H40M20 5H40M20 6H40M20 7H40M20 8H40M20 9H40M20 10H40M20 11H40M20 12H40M20 13H40M20 14H40M20 15H40M20 16H40M20 17H40M20 18H40M20 19H40M20 20H40M20 21H40M20 22H40M20 23H40M20 24H40M20 25H40M20 26H40M20 27H40M20 28H40M20 29H40M20 30H40M20 31H40M20 32H40M20 33H40M20 34H40M20 35H40M20 36H40M20 37H40M20 38H40M20 39H40M20 40H40" stroke="#000" stroke-opacity="0.85" stroke-width="1.25" fill="none" vector-effect="non-scaling-stroke"/></g><g transform="matrix(7.72667 2.84667 0.00000 -5.32000 111.000 516.500)"><rect x="20.00" y="40.00" width="20.00" height="5.05" fill="url(#g131)"/><rect x="20.00" y="45.00" width="20.00" height="5.05" fill="url(#g132)"/><rect x="20.00" y="50.00" width="20.00" height="5.05" fill="url(#g133)"/><rect x="20.00" y="55.00" width="20.00" height="5.05" fill="url(#g134)"/><path d="M20 40V60M21 40V60M22 40V60M23 40V60M24 40V60M25 40V60M26 40V60M27 40V60M28 40V60M29 40V60M30 40V60M31 40V60M32 40V60M33 40V60M34 40V60M35 40V60M36 40V60M37 40V60M38 40V60M39 40V60M40 40V60M20 40H40M20 41H40M20 42H40M20 43H40M20 44H40M20 45H40M20 46H40M20 47H40M20 48H40M20 49H40M20 50H40M20 51H40M20 52H40M20 53H40M20 54H40M20 55H40M20 56H40M20 57H40M20 58H40M20 59H40M20 60H40" stroke="#000" stroke-opacity="0.85" stroke-width="1.25" fill="none" vector-effect="non-scaling-stroke"/></g><g transform="matrix(7.72667 2.84667 0.00000 -5.32000 111.000 516.500)"><rect x="20.00" y="60.00" width="20.00" height="6.05" fill="url(#g135)"/><path d="M20 60V66M21 60V66M22 60V66M23 60V66M24 60V66M25 60V66M26 60V66M27 60V66M28 60V66M29 60V66M30 60V66M31 60V66M32 60V66M33 60V66M34 60V66M35 60V66M36 60V66M37 60V66M38 60V66M39 60V66M40 60V66M20 60H40M20 61H40M20 62H40M20 63H40M20 64H40M20 65H40M20 66H40" stroke="#000" stroke-opacity="0.85" stroke-width="1.25" fill="none" vector-effect="non-scaling-stroke"/></g><g transform="matrix(7.72667 2.84667 0.00000 -5.32000 111.000 516.500)"><rect x="20.00" y="66.00" width="20.00" height="4.05" fill="url(#g136)"/><path d="M20 66V70M21 66V70M22 66V70M23 66V70M24 66V70M25 66V70M26 66V70M27 66V70M28 66V70M29 66V70M30 66V70M31 66V70M32 66V70M33 66V70M34 66V70M35 66V70M36 66V70M37 66V70M38 66V70M39 66V70M40 66V70M20 66H40M20 67H40M20 68H40M20 69H40M20 70H40" stroke="#000" stroke-opacity="0.85" stroke-width="1.25" fill="none" vector-effect="non-scaling-stroke"/></g><g transform="matrix(7.72667 2.84667 0.00000 -5.32000 111.000 516.500)"><rect x="40.00" y="0.00" width="14.00" height="5.05" fill="url(#g137)"/><rect x="40.00" y="5.00" width="14.00" height="5.05" fill="url(#g138)"/><rect x="40.00" y="10.00" width="14.00" height="5.05" fill="url(#g139)"/><rect x="40.00" y="15.00" width="14.00" height="5.05" fill="url(#g140)"/><rect x="40.00" y="20.00" width="14.00" height="5.05" fill="url(#g141)"/><rect x="40.00" y="25.00" width="14.00" height="5.05" fill="url(#g142)"/><rect x="40.00" y="30.00" width="14.00" height="5.05" fill="url(#g143)"/><rect x="40.00" y="35.00" width="14.00" height="5.05" fill="url(#g144)"/><path d="M40 0V40M41 0V40M42 0V40M43 0V40M44 0V40M45 0V40M46 0V40M47 0V40M48 0V40M49 0V40M50 0V40M51 0V40M52 0V40M53 0V40M54 0V40M40 0H54M40 1H54M40 2H54M40 3H54M40 4H54M40 5H54M40 6H54M40 7H54M40 8H54M40 9H54M40 10H54M40 11H54M40 12H54M40 13H54M40 14H54M40 15H54M40 16H54M40 17H54M40 18H54M40 19H54M40 20H54M40 21H54M40 22H54M40 23H54M40 24H54M40 25H54M40 26H54M40 27H54M40 28H54M40 29H54M40 30H54M40 31H54M40 32H54M40 33H54M40 34H54M40 35H54M40 36H54M40 37H54M40 38H54M40 39H54M40 40H54" stroke="#000" stroke-opacity="0.85" stroke-width="1.25" fill="none" vector-effect="non-scaling-stroke"/></g><g transform="matrix(7.72667 2.84667 0.00000 -5.32000 111.000 516.500)"><rect x="40.00" y="40.00" width="14.00" height="5.05" fill="url(#g145)"/><rect x="40.00" y="45.00" width="14.00" height="5.05" fill="url(#g146)"/><rect x="40.00" y="50.00" width="14.00" height="5.05" fill="url(#g147)"/><rect x="40.00" y="55.00" width="14.00" height="5.05" fill="url(#g148)"/><path d="M40 40V60M41 40V60M42 40V60M43 40V60M44 40V60M45 40V60M46 40V60M47 40V60M48 40V60M49 40V60M50 40V60M51 40V60M52 40V60M53 40V60M54 40V60M40 40H54M40 41H54M40 42H54M40 43H54M40 44H54M40 45H54M40 46H54M40 47H54M40 48H54M40 49H54M40 50H54M40 51H54M40 52H54M40 53H54M40 54H54M40 55H54M40 56H54M40 57H54M40 58H54M40 59H54M40 60H54" stroke="#000" stroke-opacity="0.85" stroke-width="1.25" fill="none" vector-effect="non-scaling-stroke"/></g><g transform="matrix(7.72667 2.84667 0.00000 -5.32000 111.000 516.500)"><rect x="40.00" y="60.00" width="14.00" height="6.05" fill="url(#g149)"/><path d="M40 60V66M41 60V66M42 60V66M43 60V66M44 60V66M45 60V66M46 60V66M47 60V66M48 60V66M49 60V66M50 60V66M51 60V66M52 60V66M53 60V66M54 60V66M40 60H54M40 61H54M40 62H54M40 63H54M40 64H54M40 65H54M40 66H54" stroke="#000" stroke-opacity="0.85" stroke-width="1.25" fill="none" vector-effect="non-scaling-stroke"/></g><g transform="matrix(7.72667 2.84667 0.00000 -5.32000 111.000 516.500)"><rect x="40.00" y="66.00" width="14.00" height="4.05" fill="url(#g150)"/><path d="M40 66V70M41 66V70M42 66V70M43 66V70M44 66V70M45 66V70M46 66V70M47 66V70M48 66V70M49 66V70M50 66V70M51 66V70M52 66V70M53 66V70M54 66V70M40 66H54M40 67H54M40 68H54M40 69H54M40 70H54" stroke="#000" stroke-opacity="0.85" stroke-width="1.25" fill="none" vector-effect="non-scaling-stroke"/></g><g transform="matrix(7.72667 2.84667 12.09000 -2.61800 111.000 516.500)"><rect x="54.00" y="0.00" width="2.05" height="20.00" fill="url(#g151)"/><rect x="56.00" y="0.00" width="2.05" height="20.00" fill="url(#g152)"/><rect x="58.00" y="0.00" width="2.05" height="20.00" fill="url(#g153)"/><path d="M54 0V20M55 0V20M56 0V20M57 0V20M58 0V20M59 0V20M60 0V20M54 0H60M54 1H60M54 2H60M54 3H60M54 4H60M54 5H60M54 6H60M54 7H60M54 8H60M54 9H60M54 10H60M54 11H60M54 12H60M54 13H60M54 14H60M54 15H60M54 16H60M54 17H60M54 18H60M54 19H60M54 20H60" stroke="#000" stroke-opacity="0.85" stroke-width="1.25" fill="none" vector-effect="non-scaling-stroke"/></g><g transform="matrix(7.72667 2.84667 0.00000 -5.32000 111.000 516.500)"><rect x="54.00" y="0.00" width="6.00" height="5.05" fill="url(#g154)"/><rect x="54.00" y="5.00" width="6.00" height="5.05" fill="url(#g155)"/><rect x="54.00" y="10.00" width="6.00" height="5.05" fill="url(#g156)"/><rect x="54.00" y="15.00" width="6.00" height="5.05" fill="url(#g157)"/><rect x="54.00" y="20.00" width="6.00" height="5.05" fill="url(#g158)"/><rect x="54.00" y="25.00" width="6.00" height="5.05" fill="url(#g159)"/><rect x="54.00" y="30.00" width="6.00" height="5.05" fill="url(#g160)"/><rect x="54.00" y="35.00" width="6.00" height="5.05" fill="url(#g161)"/><path d="M54 0V40M55 0V40M56 0V40M57 0V40M58 0V40M59 0V40M60 0V40M54 0H60M54 1H60M54 2H60M54 3H60M54 4H60M54 5H60M54 6H60M54 7H60M54 8H60M54 9H60M54 10H60M54 11H60M54 12H60M54 13H60M54 14H60M54 15H60M54 16H60M54 17H60M54 18H60M54 19H60M54 20H60M54 21H60M54 22H60M54 23H60M54 24H60M54 25H60M54 26H60M54 27H60M54 28H60M54 29H60M54 30H60M54 31H60M54 32H60M54 33H60M54 34H60M54 35H60M54 36H60M54 37H60M54 38H60M54 39H60M54 40H60" stroke="#000" stroke-opacity="0.85" stroke-width="1.25" fill="none" vector-effect="non-scaling-stroke"/></g><g transform="matrix(7.72667 2.84667 12.09000 -2.61800 111.000 516.500)"><rect x="54.00" y="20.00" width="2.05" height="20.00" fill="url(#g162)"/><rect x="56.00" y="20.00" width="2.05" height="20.00" fill="url(#g163)"/><rect x="58.00" y="20.00" width="2.05" height="20.00" fill="url(#g164)"/><path d="M54 20V40M55 20V40M56 20V40M57 20V40M58 20V40M59 20V40M60 20V40M54 20H60M54 21H60M54 22H60M54 23H60M54 24H60M54 25H60M54 26H60M54 27H60M54 28H60M54 29H60M54 30H60M54 31H60M54 32H60M54 33H60M54 34H60M54 35H60M54 36H60M54 37H60M54 38H60M54 39H60M54 40H60" stroke="#000" stroke-opacity="0.85" stroke-width="1.25" fill="none" vector-effect="non-scaling-stroke"/></g><g transform="matrix(7.72667 2.84667 0.00000 -5.32000 352.800 464.140)"><rect x="54.00" y="0.00" width="6.00" height="40.00" fill="url(#g165)"/><path d="M54 0V40M55 0V40M56 0V40M57 0V40M58 0V40M59 0V40M60 0V40M54 0H60M54 1H60M54 2H60M54 3H60M54 4H60M54 5H60M54 6H60M54 7H60M54 8H60M54 9H60M54 10H60M54 11H60M54 12H60M54 13H60M54 14H60M54 15H60M54 16H60M54 17H60M54 18H60M54 19H60M54 20H60M54 21H60M54 22H60M54 23H60M54 24H60M54 25H60M54 26H60M54 27H60M54 28H60M54 29H60M54 30H60M54 31H60M54 32H60M54 33H60M54 34H60M54 35H60M54 36H60M54 37H60M54 38H60M54 39H60M54 40H60" stroke="#000" stroke-opacity="0.85" stroke-width="1.25" fill="none" vector-effect="non-scaling-stroke"/></g><g transform="matrix(7.72667 2.84667 12.09000 -2.61800 111.000 303.700)"><rect x="54.00" y="0.00" width="2.05" height="20.00" fill="url(#g166)"/><rect x="56.00" y="0.00" width="2.05" height="20.00" fill="url(#g167)"/><rect x="58.00" y="0.00" width="2.05" height="20.00" fill="url(#g168)"/><path d="M54 0V20M55 0V20M56 0V20M57 0V20M58 0V20M59 0V20M60 0V20M54 0H60M54 1H60M54 2H60M54 3H60M54 4H60M54 5H60M54 6H60M54 7H60M54 8H60M54 9H60M54 10H60M54 11H60M54 12H60M54 13H60M54 14H60M54 15H60M54 16H60M54 17H60M54 18H60M54 19H60M54 20H60" stroke="#000" stroke-opacity="0.85" stroke-width="1.25" fill="none" vector-effect="non-scaling-stroke"/></g><g transform="matrix(7.72667 2.84667 0.00000 -5.32000 111.000 516.500)"><rect x="54.00" y="40.00" width="6.00" height="5.05" fill="url(#g169)"/><rect x="54.00" y="45.00" width="6.00" height="5.05" fill="url(#g170)"/><rect x="54.00" y="50.00" width="6.00" height="5.05" fill="url(#g171)"/><rect x="54.00" y="55.00" width="6.00" height="5.05" fill="url(#g172)"/><path d="M54 40V60M55 40V60M56 40V60M57 40V60M58 40V60M59 40V60M60 40V60M54 40H60M54 41H60M54 42H60M54 43H60M54 44H60M54 45H60M54 46H60M54 47H60M54 48H60M54 49H60M54 50H60M54 51H60M54 52H60M54 53H60M54 54H60M54 55H60M54 56H60M54 57H60M54 58H60M54 59H60M54 60H60" stroke="#000" stroke-opacity="0.85" stroke-width="1.25" fill="none" vector-effect="non-scaling-stroke"/></g><g transform="matrix(7.72667 2.84667 12.09000 -2.61800 111.000 516.500)"><rect x="54.00" y="40.00" width="2.05" height="10.00" fill="url(#g173)"/><rect x="56.00" y="40.00" width="2.05" height="10.00" fill="url(#g174)"/><rect x="58.00" y="40.00" width="2.05" height="10.00" fill="url(#g175)"/><path d="M54 40V50M55 40V50M56 40V50M57 40V50M58 40V50M59 40V50M60 40V50M54 40H60M54 41H60M54 42H60M54 43H60M54 44H60M54 45H60M54 46H60M54 47H60M54 48H60M54 49H60M54 50H60" stroke="#000" stroke-opacity="0.85" stroke-width="1.25" fill="none" vector-effect="non-scaling-stroke"/></g><g transform="matrix(7.72667 2.84667 0.00000 -5.32000 594.600 411.780)"><rect x="54.00" y="0.00" width="6.00" height="40.00" fill="url(#g176)"/><path d="M54 0V40M55 0V40M56 0V40M57 0V40M58 0V40M59 0V40M60 0V40M54 0H60M54 1H60M54 2H60M54 3H60M54 4H60M54 5H60M54 6H60M54 7H60M54 8H60M54 9H60M54 10H60M54 11H60M54 12H60M54 13H60M54 14H60M54 15H60M54 16H60M54 17H60M54 18H60M54 19H60M54 20H60M54 21H60M54 22H60M54 23H60M54 24H60M54 25H60M54 26H60M54 27H60M54 28H60M54 29H60M54 30H60M54 31H60M54 32H60M54 33H60M54 34H60M54 35H60M54 36H60M54 37H60M54 38H60M54 39H60M54 40H60" stroke="#000" stroke-opacity="0.85" stroke-width="1.25" fill="none" vector-effect="non-scaling-stroke"/></g><g transform="matrix(7.72667 2.84667 12.09000 -2.61800 111.000 303.700)"><rect x="54.00" y="20.00" width="2.05" height="20.00" fill="url(#g177)"/><rect x="56.00" y="20.00" width="2.05" height="20.00" fill="url(#g178)"/><rect x="58.00" y="20.00" width="2.05" height="20.00" fill="url(#g179)"/><path d="M54 20V40M55 20V40M56 20V40M57 20V40M58 20V40M59 20V40M60 20V40M54 20H60M54 21H60M54 22H60M54 23H60M54 24H60M54 25H60M54 26H60M54 27H60M54 28H60M54 29H60M54 30H60M54 31H60M54 32H60M54 33H60M54 34H60M54 35H60M54 36H60M54 37H60M54 38H60M54 39H60M54 40H60" stroke="#000" stroke-opacity="0.85" stroke-width="1.25" fill="none" vector-effect="non-scaling-stroke"/></g><g transform="matrix(7.72667 2.84667 0.00000 -5.32000 352.800 464.140)"><rect x="54.00" y="40.00" width="6.00" height="20.00" fill="url(#g180)"/><path d="M54 40V60M55 40V60M56 40V60M57 40V60M58 40V60M59 40V60M60 40V60M54 40H60M54 41H60M54 42H60M54 43H60M54 44H60M54 45H60M54 46H60M54 47H60M54 48H60M54 49H60M54 50H60M54 51H60M54 52H60M54 53H60M54 54H60M54 55H60M54 56H60M54 57H60M54 58H60M54 59H60M54 60H60" stroke="#000" stroke-opacity="0.85" stroke-width="1.25" fill="none" vector-effect="non-scaling-stroke"/></g><g transform="matrix(7.72667 2.84667 12.09000 -2.61800 111.000 197.300)"><rect x="54.00" y="0.00" width="2.05" height="20.00" fill="url(#g181)"/><rect x="56.00" y="0.00" width="2.05" height="20.00" fill="url(#g182)"/><rect x="58.00" y="0.00" width="2.05" height="20.00" fill="url(#g183)"/><path d="M54 0V20M55 0V20M56 0V20M57 0V20M58 0V20M59 0V20M60 0V20M54 0H60M54 1H60M54 2H60M54 3H60M54 4H60M54 5H60M54 6H60M54 7H60M54 8H60M54 9H60M54 10H60M54 11H60M54 12H60M54 13H60M54 14H60M54 15H60M54 16H60M54 17H60M54 18H60M54 19H60M54 20H60" stroke="#000" stroke-opacity="0.85" stroke-width="1.25" fill="none" vector-effect="non-scaling-stroke"/></g><g transform="matrix(7.72667 2.84667 0.00000 -5.32000 111.000 516.500)"><rect x="54.00" y="60.00" width="6.00" height="6.05" fill="url(#g184)"/><path d="M54 60V66M55 60V66M56 60V66M57 60V66M58 60V66M59 60V66M60 60V66M54 60H60M54 61H60M54 62H60M54 63H60M54 64H60M54 65H60M54 66H60" stroke="#000" stroke-opacity="0.85" stroke-width="1.25" fill="none" vector-effect="non-scaling-stroke"/></g><g transform="matrix(7.72667 2.84667 12.09000 -2.61800 111.000 303.700)"><rect x="54.00" y="40.00" width="2.05" height="10.00" fill="url(#g185)"/><rect x="56.00" y="40.00" width="2.05" height="10.00" fill="url(#g186)"/><rect x="58.00" y="40.00" width="2.05" height="10.00" fill="url(#g187)"/><path d="M54 40V50M55 40V50M56 40V50M57 40V50M58 40V50M59 40V50M60 40V50M54 40H60M54 41H60M54 42H60M54 43H60M54 44H60M54 45H60M54 46H60M54 47H60M54 48H60M54 49H60M54 50H60" stroke="#000" stroke-opacity="0.85" stroke-width="1.25" fill="none" vector-effect="non-scaling-stroke"/></g><g transform="matrix(7.72667 2.84667 0.00000 -5.32000 594.600 411.780)"><rect x="54.00" y="40.00" width="6.00" height="20.00" fill="url(#g188)"/><path d="M54 40V60M55 40V60M56 40V60M57 40V60M58 40V60M59 40V60M60 40V60M54 40H60M54 41H60M54 42H60M54 43H60M54 44H60M54 45H60M54 46H60M54 47H60M54 48H60M54 49H60M54 50H60M54 51H60M54 52H60M54 53H60M54 54H60M54 55H60M54 56H60M54 57H60M54 58H60M54 59H60M54 60H60" stroke="#000" stroke-opacity="0.85" stroke-width="1.25" fill="none" vector-effect="non-scaling-stroke"/></g><g transform="matrix(7.72667 2.84667 12.09000 -2.61800 111.000 197.300)"><rect x="54.00" y="20.00" width="2.05" height="20.00" fill="url(#g189)"/><rect x="56.00" y="20.00" width="2.05" height="20.00" fill="url(#g190)"/><rect x="58.00" y="20.00" width="2.05" height="20.00" fill="url(#g191)"/><path d="M54 20V40M55 20V40M56 20V40M57 20V40M58 20V40M59 20V40M60 20V40M54 20H60M54 21H60M54 22H60M54 23H60M54 24H60M54 25H60M54 26H60M54 27H60M54 28H60M54 29H60M54 30H60M54 31H60M54 32H60M54 33H60M54 34H60M54 35H60M54 36H60M54 37H60M54 38H60M54 39H60M54 40H60" stroke="#000" stroke-opacity="0.85" stroke-width="1.25" fill="none" vector-effect="non-scaling-stroke"/></g><g transform="matrix(7.72667 2.84667 0.00000 -5.32000 352.800 464.140)"><rect x="54.00" y="60.00" width="6.00" height="6.00" fill="url(#g192)"/><path d="M54 60V66M55 60V66M56 60V66M57 60V66M58 60V66M59 60V66M60 60V66M54 60H60M54 61H60M54 62H60M54 63H60M54 64H60M54 65H60M54 66H60" stroke="#000" stroke-opacity="0.85" stroke-width="1.25" fill="none" vector-effect="non-scaling-stroke"/></g><g transform="matrix(7.72667 2.84667 12.09000 -2.61800 111.000 165.380)"><rect x="54.00" y="0.00" width="2.05" height="20.00" fill="url(#g193)"/><rect x="56.00" y="0.00" width="2.05" height="20.00" fill="url(#g194)"/><rect x="58.00" y="0.00" width="2.05" height="20.00" fill="url(#g195)"/><path d="M54 0V20M55 0V20M56 0V20M57 0V20M58 0V20M59 0V20M60 0V20M54 0H60M54 1H60M54 2H60M54 3H60M54 4H60M54 5H60M54 6H60M54 7H60M54 8H60M54 9H60M54 10H60M54 11H60M54 12H60M54 13H60M54 14H60M54 15H60M54 16H60M54 17H60M54 18H60M54 19H60M54 20H60" stroke="#000" stroke-opacity="0.85" stroke-width="1.25" fill="none" vector-effect="non-scaling-stroke"/></g><g transform="matrix(7.72667 2.84667 0.00000 -5.32000 111.000 516.500)"><rect x="54.00" y="66.00" width="6.00" height="4.05" fill="url(#g196)"/><path d="M54 66V70M55 66V70M56 66V70M57 66V70M58 66V70M59 66V70M60 66V70M54 66H60M54 67H60M54 68H60M54 69H60M54 70H60" stroke="#000" stroke-opacity="0.85" stroke-width="1.25" fill="none" vector-effect="non-scaling-stroke"/></g><g transform="matrix(7.72667 2.84667 12.09000 -2.61800 111.000 197.300)"><rect x="54.00" y="40.00" width="2.05" height="10.00" fill="url(#g197)"/><rect x="56.00" y="40.00" width="2.05" height="10.00" fill="url(#g198)"/><rect x="58.00" y="40.00" width="2.05" height="10.00" fill="url(#g199)"/><path d="M54 40V50M55 40V50M56 40V50M57 40V50M58 40V50M59 40V50M60 40V50M54 40H60M54 41H60M54 42H60M54 43H60M54 44H60M54 45H60M54 46H60M54 47H60M54 48H60M54 49H60M54 50H60" stroke="#000" stroke-opacity="0.85" stroke-width="1.25" fill="none" vector-effect="non-scaling-stroke"/></g><g transform="matrix(7.72667 2.84667 0.00000 -5.32000 594.600 411.780)"><rect x="54.00" y="60.00" width="6.00" height="6.00" fill="url(#g200)"/><path d="M54 60V66M55 60V66M56 60V66M57 60V66M58 60V66M59 60V66M60 60V66M54 60H60M54 61H60M54 62H60M54 63H60M54 64H60M54 65H60M54 66H60" stroke="#000" stroke-opacity="0.85" stroke-width="1.25" fill="none" vector-effect="non-scaling-stroke"/></g><g transform="matrix(7.72667 2.84667 12.09000 -2.61800 111.000 165.380)"><rect x="54.00" y="20.00" width="2.05" height="20.00" fill="url(#g201)"/><rect x="56.00" y="20.00" width="2.05" height="20.00" fill="url(#g202)"/><rect x="58.00" y="20.00" width="2.05" height="20.00" fill="url(#g203)"/><path d="M54 20V40M55 20V40M56 20V40M57 20V40M58 20V40M59 20V40M60 20V40M54 20H60M54 21H60M54 22H60M54 23H60M54 24H60M54 25H60M54 26H60M54 27H60M54 28H60M54 29H60M54 30H60M54 31H60M54 32H60M54 33H60M54 34H60M54 35H60M54 36H60M54 37H60M54 38H60M54 39H60M54 40H60" stroke="#000" stroke-opacity="0.85" stroke-width="1.25" fill="none" vector-effect="non-scaling-stroke"/></g><g transform="matrix(7.72667 2.84667 0.00000 -5.32000 352.800 464.140)"><rect x="54.00" y="66.00" width="6.00" height="4.00" fill="url(#g204)"/><path d="M54 66V70M55 66V70M56 66V70M57 66V70M58 66V70M59 66V70M60 66V70M54 66H60M54 67H60M54 68H60M54 69H60M54 70H60" stroke="#000" stroke-opacity="0.85" stroke-width="1.25" fill="none" vector-effect="non-scaling-stroke"/></g><g transform="matrix(7.72667 2.84667 12.09000 -2.61800 111.000 165.380)"><rect x="54.00" y="40.00" width="2.05" height="10.00" fill="url(#g205)"/><rect x="56.00" y="40.00" width="2.05" height="10.00" fill="url(#g206)"/><rect x="58.00" y="40.00" width="2.05" height="10.00" fill="url(#g207)"/><path d="M54 40V50M55 40V50M56 40V50M57 40V50M58 40V50M59 40V50M60 40V50M54 40H60M54 41H60M54 42H60M54 43H60M54 44H60M54 45H60M54 46H60M54 47H60M54 48H60M54 49H60M54 50H60" stroke="#000" stroke-opacity="0.85" stroke-width="1.25" fill="none" vector-effect="non-scaling-stroke"/></g><g transform="matrix(7.72667 2.84667 0.00000 -5.32000 594.600 411.780)"><rect x="54.00" y="66.00" width="6.00" height="4.00" fill="url(#g208)"/><path d="M54 66V70M55 66V70M56 66V70M57 66V70M58 66V70M59 66V70M60 66V70M54 66H60M54 67H60M54 68H60M54 69H60M54 70H60" stroke="#000" stroke-opacity="0.85" stroke-width="1.25" fill="none" vector-effect="non-scaling-stroke"/></g></g><g style="font-family:&quot;Liberation Serif&quot;,serif" fill="#222"><line x1="111.0" y1="516.5" x2="96.6" y2="511.1" stroke="#262626" stroke-width="1.00" stroke-opacity="1.00"/><text x="89.0" y="517.8" text-anchor="end" font-size="26">1.10</text><line x1="111.0" y1="463.3" x2="96.6" y2="457.9" stroke="#262626" stroke-width="1.00" stroke-opacity="1.00"/><text x="89.0" y="464.6" text-anchor="end" font-size="26">1.15</text><line x1="111.0" y1="410.1" x2="96.6" y2="404.7" stroke="#262626" stroke-width="1.00" stroke-opacity="1.00"/><text x="89.0" y="411.4" text-anchor="end" font-size="26">1.20</text><line x1="111.0" y1="356.9" x2="96.6" y2="351.5" stroke="#262626" stroke-width="1.00" stroke-opacity="1.00"/><text x="89.0" y="358.2" text-anchor="end" font-size="26">1.25</text><line x1="111.0" y1="303.7" x2="96.6" y2="298.3" stroke="#262626" stroke-width="1.00" stroke-opacity="1.00"/><text x="89.0" y="305.0" text-anchor="end" font-size="26">1.30</text><line x1="111.0" y1="250.5" x2="96.6" y2="245.1" stroke="#262626" stroke-width="1.00" stroke-opacity="1.00"/><text x="89.0" y="251.8" text-anchor="end" font-size="26">1.35</text><line x1="111.0" y1="197.3" x2="96.6" y2="191.9" stroke="#262626" stroke-width="1.00" stroke-opacity="1.00"/><text x="89.0" y="198.6" text-anchor="end" font-size="26">1.40</text><line x1="111.0" y1="144.1" x2="96.6" y2="138.7" stroke="#262626" stroke-width="1.00" stroke-opacity="1.00"/><text x="89.0" y="145.4" text-anchor="end" font-size="26">1.45</text><line x1="111.0" y1="516.5" x2="96.2" y2="519.7" stroke="#262626" stroke-width="1.00" stroke-opacity="1.00"/><text x="87.0" y="547.1" text-anchor="end" font-size="26.5">0.20</text><line x1="188.3" y1="545.0" x2="173.5" y2="548.2" stroke="#262626" stroke-width="1.00" stroke-opacity="1.00"/><text x="164.3" y="575.6" text-anchor="end" font-size="26.5">0.25</text><line x1="265.5" y1="573.4" x2="250.7" y2="576.6" stroke="#262626" stroke-width="1.00" stroke-opacity="1.00"/><text x="241.5" y="604.0" text-anchor="end" font-size="26.5">0.30</text><line x1="342.8" y1="601.9" x2="328.0" y2="605.1" stroke="#262626" stroke-width="1.00" stroke-opacity="1.00"/><text x="318.8" y="632.5" text-anchor="end" font-size="26.5">0.35</text><line x1="420.1" y1="630.4" x2="405.3" y2="633.6" stroke="#262626" stroke-width="1.00" stroke-opacity="1.00"/><text x="396.1" y="661.0" text-anchor="end" font-size="26.5">0.40</text><line x1="497.3" y1="658.8" x2="482.5" y2="662.0" stroke="#262626" stroke-width="1.00" stroke-opacity="1.00"/><text x="473.3" y="689.4" text-anchor="end" font-size="26.5">0.45</text><line x1="574.6" y1="687.3" x2="559.8" y2="690.5" stroke="#262626" stroke-width="1.00" stroke-opacity="1.00"/><text x="550.6" y="717.9" text-anchor="end" font-size="26.5">0.50</text><line x1="574.6" y1="687.3" x2="589.0" y2="692.7" stroke="#262626" stroke-width="1.00" stroke-opacity="1.00"/><text x="596.9" y="720.3" font-size="27.5">5</text><line x1="695.5" y1="661.1" x2="709.9" y2="666.5" stroke="#262626" stroke-width="1.00" stroke-opacity="1.00"/><text x="717.8" y="694.1" font-size="27.5">10</text><line x1="816.4" y1="634.9" x2="830.8" y2="640.3" stroke="#262626" stroke-width="1.00" stroke-opacity="1.00"/><text x="838.7" y="667.9" font-size="27.5">15</text><line x1="937.3" y1="608.8" x2="951.7" y2="614.2" stroke="#262626" stroke-width="1.00" stroke-opacity="1.00"/><text x="959.6" y="641.8" font-size="27.5">20</text><line x1="1058.2" y1="582.6" x2="1072.6" y2="588.0" stroke="#262626" stroke-width="1.00" stroke-opacity="1.00"/><text x="1080.5" y="615.6" font-size="27.5">25</text><line x1="1179.1" y1="556.4" x2="1193.5" y2="561.8" stroke="#262626" stroke-width="1.00" stroke-opacity="1.00"/><text x="1201.4" y="589.4" font-size="27.5">30</text></g><g style="font-family:&quot;Liberation Serif&quot;,serif" fill="#222"><rect x="1175.3" y="549.98" width="38.2" height="8.02" fill="#00008a"/><rect x="1175.3" y="542.45" width="38.2" height="8.02" fill="#00009b"/><rect x="1175.3" y="534.93" width="38.2" height="8.02" fill="#0000ab"/><rect x="1175.3" y="527.41" width="38.2" height="8.02" fill="#0000bc"/><rect x="1175.3" y="519.88" width="38.2" height="8.02" fill="#0000cc"/><rect x="1175.3" y="512.36" width="38.2" height="8.02" fill="#0000dd"/><rect x="1175.3" y="504.84" width="38.2" height="8.02" fill="#0000ed"/><rect x="1175.3" y="497.31" width="38.2" height="8.02" fill="#0006fa"/><rect x="1175.3" y="489.79" width="38.2" height="8.02" fill="#0021fb"/><rect x="1175.3" y="482.27" width="38.2" height="8.02" fill="#003dfb"/><rect x="1175.3" y="474.74" width="38.2" height="8.02" fill="#0058fc"/><rect x="1175.3" y="467.22" width="38.2" height="8.02" fill="#0073fc"/><rect x="1175.3" y="459.70" width="38.2" height="8.02" fill="#008efd"/><rect x="1175.3" y="452.17" width="38.2" height="8.02" fill="#00aafd"/><rect x="1175.3" y="444.65" width="38.2" height="8.02" fill="#00c5fe"/><rect x="1175.3" y="437.12" width="38.2" height="8.02" fill="#00e0ff"/><rect x="1175.3" y="429.60" width="38.2" height="8.02" fill="#07f5f8"/><rect x="1175.3" y="422.08" width="38.2" height="8.02" fill="#23f4db"/><rect x="1175.3" y="414.55" width="38.2" height="8.02" fill="#3ff2bd"/><rect x="1175.3" y="407.03" width="38.2" height="8.02" fill="#5bf1a0"/><rect x="1175.3" y="399.51" width="38.2" height="8.02" fill="#78f082"/><rect x="1175.3" y="391.98" width="38.2" height="8.02" fill="#94f267"/><rect x="1175.3" y="384.46" width="38.2" height="8.02" fill="#b1f44b"/><rect x="1175.3" y="376.94" width="38.2" height="8.02" fill="#cdf630"/><rect x="1175.3" y="369.41" width="38.2" height="8.02" fill="#eaf814"/><rect x="1175.3" y="361.89" width="38.2" height="8.02" fill="#fff500"/><rect x="1175.3" y="354.37" width="38.2" height="8.02" fill="#ffe200"/><rect x="1175.3" y="346.84" width="38.2" height="8.02" fill="#ffce00"/><rect x="1175.3" y="339.32" width="38.2" height="8.02" fill="#ffbb00"/><rect x="1175.3" y="331.80" width="38.2" height="8.02" fill="#ffa700"/><rect x="1175.3" y="324.27" width="38.2" height="8.02" fill="#ff9400"/><rect x="1175.3" y="316.75" width="38.2" height="8.02" fill="#ff8000"/><rect x="1175.3" y="309.23" width="38.2" height="8.02" fill="#ff6d00"/><rect x="1175.3" y="301.70" width="38.2" height="8.02" fill="#ff5900"/><rect x="1175.3" y="294.18" width="38.2" height="8.02" fill="#ff4600"/><rect x="1175.3" y="286.66" width="38.2" height="8.02" fill="#ff3200"/><rect x="1175.3" y="279.13" width="38.2" height="8.02" fill="#ff1e00"/><rect x="1175.3" y="271.61" width="38.2" height="8.02" fill="#ff0b00"/><rect x="1175.3" y="264.09" width="38.2" height="8.02" fill="#fd0500"/><rect x="1175.3" y="256.56" width="38.2" height="8.02" fill="#fa0100"/><rect x="1175.3" y="249.04" width="38.2" height="8.02" fill="#f30000"/><rect x="1175.3" y="241.52" width="38.2" height="8.02" fill="#eb0000"/><rect x="1175.3" y="233.99" width="38.2" height="8.02" fill="#e30000"/><rect x="1175.3" y="226.47" width="38.2" height="8.02" fill="#d90000"/><rect x="1175.3" y="218.95" width="38.2" height="8.02" fill="#d00000"/><rect x="1175.3" y="211.42" width="38.2" height="8.02" fill="#c60000"/><rect x="1175.3" y="203.90" width="38.2" height="8.02" fill="#be0000"/><rect x="1175.3" y="196.38" width="38.2" height="8.02" fill="#b60000"/><rect x="1175.3" y="188.85" width="38.2" height="8.02" fill="#ae0000"/><rect x="1175.3" y="181.33" width="38.2" height="8.02" fill="#a30002"/><rect x="1175.3" y="173.80" width="38.2" height="8.02" fill="#970004"/><rect x="1175.3" y="166.28" width="38.2" height="8.02" fill="#920107"/><rect x="1175.3" y="158.76" width="38.2" height="8.02" fill="#93020b"/><rect x="1175.3" y="151.23" width="38.2" height="8.02" fill="#950410"/><rect x="1175.3" y="143.71" width="38.2" height="8.02" fill="#960514"/><rect x="1175.3" y="136.19" width="38.2" height="8.02" fill="#970718"/><rect x="1175.3" y="128.66" width="38.2" height="8.02" fill="#99091d"/><rect x="1175.3" y="121.14" width="38.2" height="8.02" fill="#9b0b22"/><rect x="1175.3" y="113.62" width="38.2" height="8.02" fill="#9c0d25"/><rect x="1175.3" y="106.09" width="38.2" height="8.02" fill="#9d0f29"/><rect x="1175.3" y="98.57" width="38.2" height="8.02" fill="#9e112c"/><rect x="1175.3" y="91.05" width="38.2" height="8.02" fill="#9f122e"/><rect x="1175.3" y="83.52" width="38.2" height="8.02" fill="#a1132f"/><rect x="1175.3" y="76.00" width="38.2" height="8.02" fill="#a21430"/><rect x="1175.3" y="76.0" width="38.2" height="481.5" fill="none" stroke="#262626" stroke-width="1"/><line x1="1207.0" y1="502.7" x2="1213.5" y2="502.7" stroke="#262626" stroke-width="1.00" stroke-opacity="1.00"/><text x="1221.3" y="512.0" font-size="26">10</text><line x1="1207.0" y1="431.6" x2="1213.5" y2="431.6" stroke="#262626" stroke-width="1.00" stroke-opacity="1.00"/><text x="1221.3" y="440.9" font-size="26">20</text><line x1="1207.0" y1="360.5" x2="1213.5" y2="360.5" stroke="#262626" stroke-width="1.00" stroke-opacity="1.00"/><text x="1221.3" y="369.8" font-size="26">30</text><line x1="1207.0" y1="289.4" x2="1213.5" y2="289.4" stroke="#262626" stroke-width="1.00" stroke-opacity="1.00"/><text x="1221.3" y="298.7" font-size="26">40</text><line x1="1207.0" y1="218.2" x2="1213.5" y2="218.2" stroke="#262626" stroke-width="1.00" stroke-opacity="1.00"/><text x="1221.3" y="227.5" font-size="26">50</text><line x1="1207.0" y1="147.1" x2="1213.5" y2="147.1" stroke="#262626" stroke-width="1.00" stroke-opacity="1.00"/><text x="1221.3" y="156.4" font-size="26">60</text><line x1="1207.0" y1="76.0" x2="1213.5" y2="76.0" stroke="#262626" stroke-width="1.00" stroke-opacity="1.00"/><text x="1221.3" y="85.3" font-size="26">70</text></g><text x="990.3" y="57.9" style="font-family:&quot;Liberation Serif&quot;,serif" font-size="27" textLength="310" lengthAdjust="spacingAndGlyphs" fill="#222">Relative dielectric constant</text><text transform="translate(31.5,328.3) rotate(-90)" text-anchor="middle" style="font-family:&quot;Liberation Serif&quot;,serif" font-size="28.5" fill="#222">Dry density(g.cm<tspan dy="-12" font-size="19">-</tspan><tspan dy="12">3)</tspan></text><text transform="translate(124,626) rotate(20.22)" style="font-family:&quot;Liberation Serif&quot;,serif" font-size="28.5" fill="#222">Volumetric water content(cm<tspan dy="-12" font-size="21">3</tspan><tspan dy="12">/cm</tspan><tspan dy="-12" font-size="21">3</tspan><tspan dy="12">)</tspan></text><text transform="translate(880,710) rotate(-12.22)" style="font-family:&quot;Liberation Serif&quot;,serif" font-size="28.4" fill="#222">Temperature(°C)</text></svg></body></html>
